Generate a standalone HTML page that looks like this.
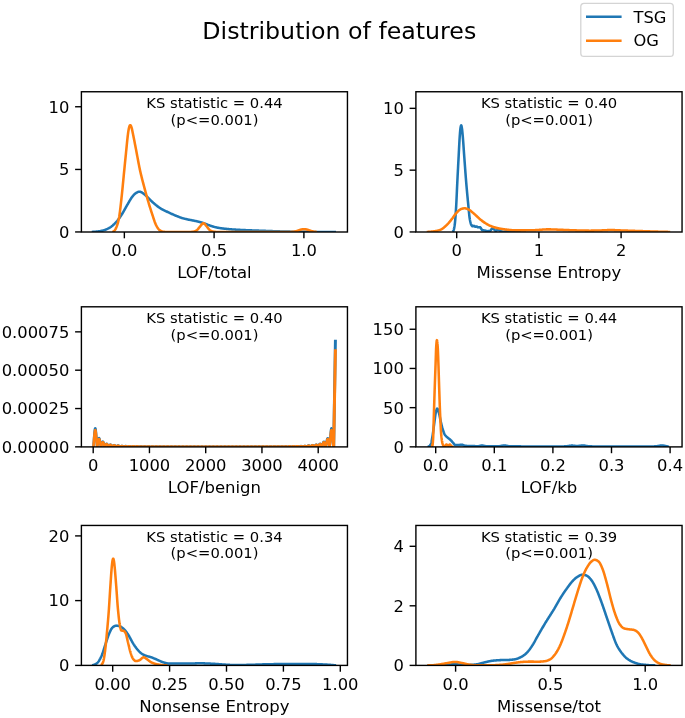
<!DOCTYPE html>
<html lang="en">
<head>
<meta charset="utf-8">
<title>Distribution of features</title>
<style>
html,body{margin:0;padding:0;background:#fff;}
body{width:685px;height:718px;overflow:hidden;}
svg{display:block;}
svg text{font-family:"DejaVu Sans", "Liberation Sans", sans-serif;}
</style>
</head>
<body>
<svg width="685" height="718" viewBox="0 0 685 718" font-family='"DejaVu Sans", "Liberation Sans", sans-serif' fill="#000">
<rect width="685" height="718" fill="#fff"/>
<defs>
<clipPath id="c00"><rect x="81.4" y="91.75" width="266.05" height="140.25"/></clipPath>
<clipPath id="c01"><rect x="415.9" y="91.75" width="266.15" height="140.25"/></clipPath>
<clipPath id="c10"><rect x="81.4" y="306.8" width="266.05" height="140.1"/></clipPath>
<clipPath id="c11"><rect x="415.9" y="306.8" width="266.15" height="140.1"/></clipPath>
<clipPath id="c20"><rect x="81.4" y="525.45" width="266.05" height="139.95"/></clipPath>
<clipPath id="c21"><rect x="415.9" y="525.45" width="266.15" height="139.95"/></clipPath>
</defs>
<text x="339.3" y="38.9" font-size="23.7" text-anchor="middle">Distribution of features</text>
<rect x="580.8" y="3.3" width="92.5" height="53.1" rx="3.2" ry="3.2" fill="#fff" stroke="#d4d4d4" stroke-width="1.3"/>
<line x1="586" y1="16.8" x2="621.6" y2="16.8" stroke="#1f77b4" stroke-width="2.55"/>
<line x1="586" y1="40.7" x2="621.6" y2="40.7" stroke="#ff7f0e" stroke-width="2.55"/>
<text x="633.5" y="22.5" font-size="16.3" text-anchor="start">TSG</text>
<text x="633.4" y="46.4" font-size="16.3" text-anchor="start">OG</text>
<line x1="124.35" y1="232" x2="124.35" y2="238.3" stroke="#000" stroke-width="1.4"/>
<text x="124.35" y="256.45" font-size="16.35" text-anchor="middle">0.0</text>
<line x1="214.1" y1="232" x2="214.1" y2="238.3" stroke="#000" stroke-width="1.4"/>
<text x="214.1" y="256.45" font-size="16.35" text-anchor="middle">0.5</text>
<line x1="303.9" y1="232" x2="303.9" y2="238.3" stroke="#000" stroke-width="1.4"/>
<text x="303.9" y="256.45" font-size="16.35" text-anchor="middle">1.0</text>
<line x1="75.1" y1="106.75" x2="81.4" y2="106.75" stroke="#000" stroke-width="1.4"/>
<text x="69.3" y="112.6" font-size="16.35" text-anchor="end">10</text>
<line x1="75.1" y1="169.45" x2="81.4" y2="169.45" stroke="#000" stroke-width="1.4"/>
<text x="69.3" y="175.3" font-size="16.35" text-anchor="end">5</text>
<line x1="75.1" y1="231.95" x2="81.4" y2="231.95" stroke="#000" stroke-width="1.4"/>
<text x="69.3" y="237.8" font-size="16.35" text-anchor="end">0</text>
<text x="214.43" y="278.4" font-size="16.5" text-anchor="middle">LOF/total</text>
<text x="214.53" y="108.35" font-size="14.75" text-anchor="middle">KS statistic = 0.44</text>
<text x="214.53" y="124.75" font-size="14.75" text-anchor="middle">(p&lt;=0.001)</text>
<g clip-path="url(#c00)">
<path d="M91.7 231.93 L92.19 231.92 L92.68 231.89 L93.17 231.87 L93.66 231.84 L94.15 231.8 L94.64 231.76 L95.13 231.72 L95.62 231.68 L96.11 231.63 L96.6 231.59 L97.09 231.53 L97.57 231.48 L98.06 231.42 L98.55 231.36 L99.04 231.29 L99.53 231.22 L100.02 231.14 L100.51 231.06 L101 230.97 L101.49 230.87 L101.98 230.77 L102.47 230.66 L102.96 230.53 L103.45 230.4 L103.94 230.25 L104.43 230.1 L104.92 229.93 L105.41 229.75 L105.9 229.57 L106.39 229.37 L106.88 229.16 L107.37 228.94 L107.86 228.7 L108.35 228.45 L108.84 228.18 L109.32 227.89 L109.81 227.6 L110.3 227.28 L110.79 226.95 L111.28 226.6 L111.77 226.23 L112.26 225.84 L112.75 225.43 L113.24 225 L113.73 224.56 L114.22 224.1 L114.71 223.63 L115.2 223.14 L115.69 222.63 L116.18 222.1 L116.67 221.55 L117.16 220.98 L117.65 220.38 L118.14 219.75 L118.63 219.1 L119.12 218.44 L119.61 217.75 L120.1 217.05 L120.59 216.33 L121.07 215.59 L121.56 214.83 L122.05 214.04 L122.54 213.23 L123.03 212.4 L123.52 211.55 L124.01 210.69 L124.5 209.82 L124.99 208.95 L125.48 208.08 L125.97 207.21 L126.46 206.35 L126.95 205.48 L127.44 204.62 L127.93 203.76 L128.42 202.89 L128.91 202.03 L129.4 201.18 L129.89 200.35 L130.38 199.55 L130.87 198.78 L131.36 198.05 L131.85 197.36 L132.34 196.7 L132.82 196.07 L133.31 195.48 L133.8 194.93 L134.29 194.43 L134.78 193.98 L135.27 193.57 L135.76 193.2 L136.25 192.87 L136.74 192.56 L137.23 192.29 L137.72 192.06 L138.21 191.88 L138.7 191.76 L139.19 191.71 L139.68 191.73 L140.17 191.82 L140.66 191.97 L141.15 192.17 L141.64 192.42 L142.13 192.7 L142.62 193 L143.11 193.32 L143.6 193.66 L144.08 194.02 L144.57 194.41 L145.06 194.83 L145.55 195.27 L146.04 195.73 L146.53 196.21 L147.02 196.69 L147.51 197.17 L148 197.65 L148.49 198.14 L148.98 198.64 L149.47 199.14 L149.96 199.63 L150.45 200.13 L150.94 200.61 L151.43 201.08 L151.92 201.54 L152.41 201.99 L152.9 202.43 L153.39 202.87 L153.88 203.3 L154.37 203.72 L154.86 204.14 L155.35 204.55 L155.83 204.96 L156.32 205.36 L156.81 205.75 L157.3 206.13 L157.79 206.5 L158.28 206.86 L158.77 207.21 L159.26 207.55 L159.75 207.88 L160.24 208.19 L160.73 208.49 L161.22 208.78 L161.71 209.06 L162.2 209.33 L162.69 209.6 L163.18 209.86 L163.67 210.11 L164.16 210.35 L164.65 210.59 L165.14 210.83 L165.63 211.06 L166.12 211.29 L166.61 211.52 L167.1 211.75 L167.58 211.98 L168.07 212.21 L168.56 212.43 L169.05 212.66 L169.54 212.89 L170.03 213.12 L170.52 213.34 L171.01 213.57 L171.5 213.79 L171.99 214.01 L172.48 214.23 L172.97 214.45 L173.46 214.67 L173.95 214.88 L174.44 215.09 L174.93 215.3 L175.42 215.5 L175.91 215.7 L176.4 215.9 L176.89 216.1 L177.38 216.3 L177.87 216.49 L178.36 216.68 L178.85 216.87 L179.33 217.06 L179.82 217.24 L180.31 217.43 L180.8 217.6 L181.29 217.77 L181.78 217.93 L182.27 218.09 L182.76 218.24 L183.25 218.38 L183.74 218.51 L184.23 218.64 L184.72 218.76 L185.21 218.88 L185.7 218.99 L186.19 219.1 L186.68 219.21 L187.17 219.32 L187.66 219.42 L188.15 219.53 L188.64 219.63 L189.13 219.73 L189.62 219.83 L190.11 219.93 L190.59 220.03 L191.08 220.12 L191.57 220.22 L192.06 220.31 L192.55 220.41 L193.04 220.5 L193.53 220.59 L194.02 220.69 L194.51 220.78 L195 220.88 L195.49 220.98 L195.98 221.09 L196.47 221.19 L196.96 221.31 L197.45 221.42 L197.94 221.54 L198.43 221.65 L198.92 221.78 L199.41 221.9 L199.9 222.03 L200.39 222.16 L200.88 222.29 L201.37 222.43 L201.86 222.57 L202.34 222.72 L202.83 222.88 L203.32 223.04 L203.81 223.21 L204.3 223.38 L204.79 223.57 L205.28 223.76 L205.77 223.95 L206.26 224.14 L206.75 224.34 L207.24 224.53 L207.73 224.73 L208.22 224.91 L208.71 225.09 L209.2 225.27 L209.69 225.44 L210.18 225.61 L210.67 225.78 L211.16 225.94 L211.65 226.1 L212.14 226.26 L212.63 226.42 L213.12 226.57 L213.61 226.71 L214.09 226.86 L214.58 226.99 L215.07 227.12 L215.56 227.24 L216.05 227.35 L216.54 227.46 L217.03 227.56 L217.52 227.66 L218.01 227.75 L218.5 227.84 L218.99 227.93 L219.48 228.01 L219.97 228.09 L220.46 228.16 L220.95 228.24 L221.44 228.31 L221.93 228.37 L222.42 228.44 L222.91 228.5 L223.4 228.56 L223.89 228.61 L224.38 228.67 L224.87 228.72 L225.36 228.78 L225.84 228.83 L226.33 228.88 L226.82 228.93 L227.31 228.98 L227.8 229.03 L228.29 229.08 L228.78 229.12 L229.27 229.17 L229.76 229.21 L230.25 229.25 L230.74 229.29 L231.23 229.33 L231.72 229.37 L232.21 229.41 L232.7 229.45 L233.19 229.48 L233.68 229.52 L234.17 229.55 L234.66 229.58 L235.15 229.61 L235.64 229.64 L236.13 229.67 L236.62 229.7 L237.11 229.73 L237.59 229.76 L238.08 229.79 L238.57 229.81 L239.06 229.84 L239.55 229.86 L240.04 229.89 L240.53 229.91 L241.02 229.94 L241.51 229.96 L242 229.98 L242.49 230.01 L242.98 230.03 L243.47 230.05 L243.96 230.07 L244.45 230.1 L244.94 230.12 L245.43 230.14 L245.92 230.16 L246.41 230.18 L246.9 230.2 L247.39 230.22 L247.88 230.24 L248.37 230.26 L248.85 230.28 L249.34 230.29 L249.83 230.31 L250.32 230.33 L250.81 230.35 L251.3 230.37 L251.79 230.39 L252.28 230.4 L252.77 230.42 L253.26 230.44 L253.75 230.46 L254.24 230.47 L254.73 230.49 L255.22 230.51 L255.71 230.53 L256.2 230.54 L256.69 230.56 L257.18 230.58 L257.67 230.6 L258.16 230.61 L258.65 230.63 L259.14 230.65 L259.63 230.66 L260.12 230.68 L260.6 230.7 L261.09 230.72 L261.58 230.74 L262.07 230.75 L262.56 230.77 L263.05 230.79 L263.54 230.81 L264.03 230.83 L264.52 230.84 L265.01 230.86 L265.5 230.88 L265.99 230.9 L266.48 230.92 L266.97 230.94 L267.46 230.95 L267.95 230.97 L268.44 230.99 L268.93 231.01 L269.42 231.03 L269.91 231.05 L270.4 231.06 L270.89 231.08 L271.38 231.1 L271.87 231.12 L272.35 231.14 L272.84 231.16 L273.33 231.17 L273.82 231.19 L274.31 231.21 L274.8 231.23 L275.29 231.24 L275.78 231.26 L276.27 231.28 L276.76 231.29 L277.25 231.31 L277.74 231.33 L278.23 231.34 L278.72 231.36 L279.21 231.37 L279.7 231.39 L280.19 231.4 L280.68 231.42 L281.17 231.43 L281.66 231.45 L282.15 231.46 L282.64 231.47 L283.13 231.49 L283.62 231.5 L284.1 231.51 L284.59 231.52 L285.08 231.54 L285.57 231.55 L286.06 231.56 L286.55 231.57 L287.04 231.58 L287.53 231.59 L288.02 231.6 L288.51 231.61 L289 231.62 L289.49 231.63 L289.98 231.64 L290.47 231.65 L290.96 231.66 L291.45 231.66 L291.94 231.67 L292.43 231.68 L292.92 231.69 L293.41 231.7 L293.9 231.71 L294.39 231.72 L294.88 231.72 L295.36 231.73 L295.85 231.74 L296.34 231.75 L296.83 231.76 L297.32 231.76 L297.81 231.77 L298.3 231.78 L298.79 231.78 L299.28 231.79 L299.77 231.8 L300.26 231.81 L300.75 231.81 L301.24 231.82 L301.73 231.82 L302.22 231.83 L302.71 231.84 L303.2 231.84 L303.69 231.85 L304.18 231.85 L304.67 231.86 L305.16 231.86 L305.65 231.87 L306.14 231.87 L306.63 231.88 L307.11 231.88 L307.6 231.88 L308.09 231.89 L308.58 231.89 L309.07 231.89 L309.56 231.9 L310.05 231.9 L310.54 231.9 L311.03 231.91 L311.52 231.91 L312.01 231.91 L312.5 231.91 L312.99 231.91 L313.48 231.92 L313.97 231.92 L314.46 231.92 L314.95 231.92 L315.44 231.93 L315.93 231.93 L316.42 231.93 L316.91 231.93 L317.4 231.93 L317.89 231.94 L318.38 231.94 L318.86 231.94 L319.35 231.94 L319.84 231.94 L320.33 231.94 L320.82 231.94 L321.31 231.95 L321.8 231.95 L322.29 231.95 L322.78 231.95 L323.27 231.95 L323.76 231.95 L324.25 231.95 L324.74 231.95 L325.23 231.95 L325.72 231.95 L326.21 231.95 L326.7 231.95 L327.19 231.95 L327.68 231.95 L328.17 231.95 L328.66 231.95 L329.15 231.95 L329.64 231.95 L330.13 231.95 L330.61 231.95 L331.1 231.95 L331.59 231.95 L332.08 231.95 L332.57 231.95 L333.06 231.95 L333.55 231.95 L334.04 231.95 L334.53 231.95 L335.02 231.95 L335.51 231.95 L336 231.95" fill="none" stroke="#1f77b4" stroke-width="2.55" stroke-linejoin="round" stroke-linecap="butt" />
<path d="M112.2 231.93 L112.43 231.9 L112.66 231.85 L112.88 231.77 L113.11 231.66 L113.34 231.54 L113.57 231.39 L113.8 231.23 L114.02 231.05 L114.25 230.85 L114.48 230.63 L114.71 230.37 L114.94 230.07 L115.16 229.71 L115.39 229.32 L115.62 228.88 L115.85 228.42 L116.07 227.93 L116.3 227.42 L116.53 226.88 L116.76 226.3 L116.99 225.69 L117.21 225.04 L117.44 224.34 L117.67 223.59 L117.9 222.79 L118.13 221.94 L118.35 221.02 L118.58 220.04 L118.81 218.96 L119.04 217.76 L119.27 216.42 L119.49 214.92 L119.72 213.3 L119.95 211.55 L120.18 209.71 L120.41 207.79 L120.63 205.82 L120.86 203.82 L121.09 201.8 L121.32 199.76 L121.54 197.69 L121.77 195.57 L122 193.39 L122.23 191.15 L122.46 188.86 L122.68 186.52 L122.91 184.16 L123.14 181.79 L123.37 179.43 L123.6 177.07 L123.82 174.74 L124.05 172.42 L124.28 170.11 L124.51 167.8 L124.74 165.48 L124.96 163.17 L125.19 160.86 L125.42 158.56 L125.65 156.28 L125.88 154.01 L126.1 151.75 L126.33 149.51 L126.56 147.25 L126.79 144.98 L127.01 142.71 L127.24 140.47 L127.47 138.3 L127.7 136.26 L127.93 134.37 L128.15 132.65 L128.38 131.11 L128.61 129.74 L128.84 128.55 L129.07 127.55 L129.29 126.75 L129.52 126.11 L129.75 125.63 L129.98 125.32 L130.21 125.19 L130.43 125.24 L130.66 125.47 L130.89 125.82 L131.12 126.29 L131.35 126.86 L131.57 127.56 L131.8 128.41 L132.03 129.39 L132.26 130.46 L132.48 131.57 L132.71 132.67 L132.94 133.78 L133.17 134.89 L133.4 136.01 L133.62 137.14 L133.85 138.29 L134.08 139.45 L134.31 140.62 L134.54 141.79 L134.76 142.97 L134.99 144.15 L135.22 145.34 L135.45 146.52 L135.68 147.7 L135.9 148.88 L136.13 150.06 L136.36 151.26 L136.59 152.46 L136.82 153.68 L137.04 154.9 L137.27 156.13 L137.5 157.37 L137.73 158.6 L137.95 159.82 L138.18 161.04 L138.41 162.25 L138.64 163.45 L138.87 164.63 L139.09 165.79 L139.32 166.93 L139.55 168.05 L139.78 169.13 L140.01 170.19 L140.23 171.22 L140.46 172.23 L140.69 173.22 L140.92 174.19 L141.15 175.14 L141.37 176.08 L141.6 177 L141.83 177.91 L142.06 178.81 L142.29 179.7 L142.51 180.59 L142.74 181.46 L142.97 182.33 L143.2 183.19 L143.43 184.05 L143.65 184.91 L143.88 185.77 L144.11 186.63 L144.34 187.49 L144.56 188.34 L144.79 189.2 L145.02 190.05 L145.25 190.9 L145.48 191.74 L145.7 192.58 L145.93 193.41 L146.16 194.24 L146.39 195.07 L146.62 195.89 L146.84 196.7 L147.07 197.51 L147.3 198.31 L147.53 199.11 L147.76 199.9 L147.98 200.69 L148.21 201.47 L148.44 202.24 L148.67 203.01 L148.9 203.77 L149.12 204.52 L149.35 205.28 L149.58 206.02 L149.81 206.77 L150.03 207.5 L150.26 208.23 L150.49 208.96 L150.72 209.68 L150.95 210.4 L151.17 211.11 L151.4 211.82 L151.63 212.52 L151.86 213.22 L152.09 213.91 L152.31 214.6 L152.54 215.28 L152.77 215.96 L153 216.65 L153.23 217.34 L153.45 218.04 L153.68 218.74 L153.91 219.44 L154.14 220.12 L154.37 220.8 L154.59 221.46 L154.82 222.1 L155.05 222.71 L155.28 223.3 L155.5 223.85 L155.73 224.36 L155.96 224.84 L156.19 225.29 L156.42 225.73 L156.64 226.15 L156.87 226.56 L157.1 226.95 L157.33 227.34 L157.56 227.7 L157.78 228.05 L158.01 228.38 L158.24 228.7 L158.47 228.99 L158.7 229.25 L158.92 229.5 L159.15 229.72 L159.38 229.91 L159.61 230.1 L159.84 230.27 L160.06 230.43 L160.29 230.58 L160.52 230.73 L160.75 230.87 L160.97 231 L161.2 231.12 L161.43 231.23 L161.66 231.33 L161.89 231.42 L162.11 231.5 L162.34 231.56 L162.57 231.61 L162.8 231.66 L163.03 231.7 L163.25 231.73 L163.48 231.77 L163.71 231.8 L163.94 231.82 L164.17 231.85 L164.39 231.87 L164.62 231.89 L164.85 231.91 L165.08 231.93 L165.31 231.94 L165.53 231.94 L165.76 231.95 L165.99 231.95 L166.22 231.95 L166.44 231.95 L166.67 231.95 L166.9 231.95 L167.13 231.95 L167.36 231.95 L167.58 231.95 L167.81 231.95 L168.04 231.95 L168.27 231.95 L168.5 231.95 L168.72 231.95 L168.95 231.95 L169.18 231.95 L169.41 231.95 L169.64 231.95 L169.86 231.95 L170.09 231.95 L170.32 231.95 L170.55 231.95 L170.78 231.95 L171 231.95 L171.23 231.95 L171.46 231.95 L171.69 231.95 L171.92 231.95 L172.14 231.95 L172.37 231.95 L172.6 231.95 L172.83 231.95 L173.05 231.95 L173.28 231.95 L173.51 231.95 L173.74 231.95 L173.97 231.95 L174.19 231.95 L174.42 231.95 L174.65 231.95 L174.88 231.95 L175.11 231.95 L175.33 231.95 L175.56 231.95 L175.79 231.95 L176.02 231.95 L176.25 231.95 L176.47 231.95 L176.7 231.95 L176.93 231.95 L177.16 231.95 L177.39 231.95 L177.61 231.95 L177.84 231.95 L178.07 231.95 L178.3 231.95 L178.52 231.95 L178.75 231.95 L178.98 231.95 L179.21 231.95 L179.44 231.95 L179.66 231.95 L179.89 231.95 L180.12 231.95 L180.35 231.95 L180.58 231.95 L180.8 231.95 L181.03 231.95 L181.26 231.95 L181.49 231.95 L181.72 231.95 L181.94 231.95 L182.17 231.95 L182.4 231.95 L182.63 231.95 L182.86 231.95 L183.08 231.95 L183.31 231.95 L183.54 231.95 L183.77 231.95 L183.99 231.95 L184.22 231.95 L184.45 231.95 L184.68 231.95 L184.91 231.95 L185.13 231.95 L185.36 231.95 L185.59 231.95 L185.82 231.95 L186.05 231.95 L186.27 231.95 L186.5 231.95 L186.73 231.95 L186.96 231.95 L187.19 231.95 L187.41 231.95 L187.64 231.95 L187.87 231.95 L188.1 231.95 L188.33 231.95 L188.55 231.95 L188.78 231.95 L189.01 231.95 L189.24 231.95 L189.46 231.95 L189.69 231.95 L189.92 231.95 L190.15 231.95 L190.38 231.94 L190.6 231.94 L190.83 231.93 L191.06 231.92 L191.29 231.9 L191.52 231.89 L191.74 231.87 L191.97 231.85 L192.2 231.83 L192.43 231.81 L192.66 231.79 L192.88 231.76 L193.11 231.73 L193.34 231.69 L193.57 231.65 L193.8 231.6 L194.02 231.54 L194.25 231.48 L194.48 231.41 L194.71 231.33 L194.93 231.24 L195.16 231.15 L195.39 231.05 L195.62 230.95 L195.85 230.84 L196.07 230.72 L196.3 230.6 L196.53 230.47 L196.76 230.32 L196.99 230.15 L197.21 229.95 L197.44 229.73 L197.67 229.48 L197.9 229.22 L198.13 228.93 L198.35 228.64 L198.58 228.34 L198.81 228.04 L199.04 227.74 L199.27 227.44 L199.49 227.15 L199.72 226.88 L199.95 226.61 L200.18 226.34 L200.41 226.07 L200.63 225.78 L200.86 225.49 L201.09 225.19 L201.32 224.89 L201.54 224.6 L201.77 224.33 L202 224.07 L202.23 223.83 L202.46 223.63 L202.68 223.46 L202.91 223.33 L203.14 223.24 L203.37 223.21 L203.6 223.23 L203.82 223.3 L204.05 223.42 L204.28 223.58 L204.51 223.77 L204.74 224 L204.96 224.25 L205.19 224.53 L205.42 224.81 L205.65 225.11 L205.88 225.4 L206.1 225.7 L206.33 225.99 L206.56 226.26 L206.79 226.53 L207.01 226.8 L207.24 227.08 L207.47 227.36 L207.7 227.66 L207.93 227.96 L208.15 228.26 L208.38 228.56 L208.61 228.86 L208.84 229.15 L209.07 229.42 L209.29 229.67 L209.52 229.9 L209.75 230.1 L209.98 230.28 L210.21 230.43 L210.43 230.56 L210.66 230.68 L210.89 230.79 L211.12 230.9 L211.35 231 L211.57 231.09 L211.8 231.18 L212.03 231.27 L212.26 231.35 L212.48 231.42 L212.71 231.49 L212.94 231.55 L213.17 231.6 L213.4 231.65 L213.62 231.69 L213.85 231.73 L214.08 231.76 L214.31 231.78 L214.54 231.8 L214.76 231.83 L214.99 231.85 L215.22 231.87 L215.45 231.88 L215.68 231.9 L215.9 231.91 L216.13 231.93 L216.36 231.94 L216.59 231.94 L216.82 231.95 L217.04 231.95 L217.27 231.95 L217.5 231.95 L217.73 231.95 L217.95 231.95 L218.18 231.95 L218.41 231.95 L218.64 231.95 L218.87 231.95 L219.09 231.95 L219.32 231.95 L219.55 231.95 L219.78 231.95 L220.01 231.95 L220.23 231.95 L220.46 231.95 L220.69 231.95 L220.92 231.95 L221.15 231.95 L221.37 231.95 L221.6 231.95 L221.83 231.95 L222.06 231.95 L222.29 231.95 L222.51 231.95 L222.74 231.95 L222.97 231.95 L223.2 231.95 L223.42 231.95 L223.65 231.95 L223.88 231.95 L224.11 231.95 L224.34 231.95 L224.56 231.95 L224.79 231.95 L225.02 231.95 L225.25 231.95 L225.48 231.95 L225.7 231.95 L225.93 231.95 L226.16 231.95 L226.39 231.95 L226.62 231.95 L226.84 231.95 L227.07 231.95 L227.3 231.95 L227.53 231.95 L227.76 231.95 L227.98 231.95 L228.21 231.95 L228.44 231.95 L228.67 231.95 L228.89 231.95 L229.12 231.95 L229.35 231.95 L229.58 231.95 L229.81 231.95 L230.03 231.95 L230.26 231.95 L230.49 231.95 L230.72 231.95 L230.95 231.95 L231.17 231.95 L231.4 231.95 L231.63 231.95 L231.86 231.95 L232.09 231.95 L232.31 231.95 L232.54 231.95 L232.77 231.95 L233 231.95 L233.23 231.95 L233.45 231.95 L233.68 231.95 L233.91 231.95 L234.14 231.95 L234.37 231.95 L234.59 231.95 L234.82 231.95 L235.05 231.95 L235.28 231.95 L235.5 231.95 L235.73 231.95 L235.96 231.95 L236.19 231.95 L236.42 231.95 L236.64 231.95 L236.87 231.95 L237.1 231.95 L237.33 231.95 L237.56 231.95 L237.78 231.95 L238.01 231.95 L238.24 231.95 L238.47 231.95 L238.7 231.95 L238.92 231.95 L239.15 231.95 L239.38 231.95 L239.61 231.95 L239.84 231.95 L240.06 231.95 L240.29 231.95 L240.52 231.95 L240.75 231.95 L240.97 231.95 L241.2 231.95 L241.43 231.95 L241.66 231.95 L241.89 231.95 L242.11 231.95 L242.34 231.95 L242.57 231.95 L242.8 231.95 L243.03 231.95 L243.25 231.95 L243.48 231.95 L243.71 231.95 L243.94 231.95 L244.17 231.95 L244.39 231.95 L244.62 231.95 L244.85 231.95 L245.08 231.95 L245.31 231.95 L245.53 231.95 L245.76 231.95 L245.99 231.95 L246.22 231.95 L246.44 231.95 L246.67 231.95 L246.9 231.95 L247.13 231.95 L247.36 231.95 L247.58 231.95 L247.81 231.95 L248.04 231.95 L248.27 231.95 L248.5 231.95 L248.72 231.95 L248.95 231.95 L249.18 231.95 L249.41 231.95 L249.64 231.95 L249.86 231.95 L250.09 231.95 L250.32 231.95 L250.55 231.95 L250.78 231.95 L251 231.95 L251.23 231.95 L251.46 231.95 L251.69 231.95 L251.91 231.95 L252.14 231.95 L252.37 231.95 L252.6 231.95 L252.83 231.95 L253.05 231.95 L253.28 231.95 L253.51 231.95 L253.74 231.95 L253.97 231.95 L254.19 231.95 L254.42 231.95 L254.65 231.95 L254.88 231.95 L255.11 231.95 L255.33 231.95 L255.56 231.95 L255.79 231.95 L256.02 231.95 L256.25 231.95 L256.47 231.95 L256.7 231.95 L256.93 231.95 L257.16 231.95 L257.38 231.95 L257.61 231.95 L257.84 231.95 L258.07 231.95 L258.3 231.95 L258.52 231.95 L258.75 231.95 L258.98 231.95 L259.21 231.95 L259.44 231.95 L259.66 231.95 L259.89 231.95 L260.12 231.95 L260.35 231.95 L260.58 231.95 L260.8 231.95 L261.03 231.95 L261.26 231.95 L261.49 231.95 L261.72 231.95 L261.94 231.95 L262.17 231.95 L262.4 231.95 L262.63 231.95 L262.86 231.95 L263.08 231.95 L263.31 231.95 L263.54 231.95 L263.77 231.95 L263.99 231.95 L264.22 231.95 L264.45 231.95 L264.68 231.95 L264.91 231.95 L265.13 231.95 L265.36 231.95 L265.59 231.95 L265.82 231.95 L266.05 231.95 L266.27 231.95 L266.5 231.95 L266.73 231.95 L266.96 231.95 L267.19 231.95 L267.41 231.95 L267.64 231.95 L267.87 231.95 L268.1 231.95 L268.33 231.95 L268.55 231.95 L268.78 231.95 L269.01 231.95 L269.24 231.95 L269.46 231.95 L269.69 231.95 L269.92 231.95 L270.15 231.95 L270.38 231.95 L270.6 231.95 L270.83 231.95 L271.06 231.95 L271.29 231.95 L271.52 231.95 L271.74 231.95 L271.97 231.95 L272.2 231.95 L272.43 231.95 L272.66 231.95 L272.88 231.95 L273.11 231.95 L273.34 231.95 L273.57 231.95 L273.8 231.95 L274.02 231.95 L274.25 231.95 L274.48 231.95 L274.71 231.95 L274.93 231.95 L275.16 231.95 L275.39 231.95 L275.62 231.95 L275.85 231.95 L276.07 231.95 L276.3 231.95 L276.53 231.95 L276.76 231.95 L276.99 231.95 L277.21 231.95 L277.44 231.95 L277.67 231.95 L277.9 231.95 L278.13 231.95 L278.35 231.95 L278.58 231.95 L278.81 231.95 L279.04 231.95 L279.27 231.95 L279.49 231.95 L279.72 231.95 L279.95 231.95 L280.18 231.95 L280.4 231.95 L280.63 231.95 L280.86 231.95 L281.09 231.95 L281.32 231.95 L281.54 231.95 L281.77 231.95 L282 231.95 L282.23 231.95 L282.46 231.95 L282.68 231.95 L282.91 231.95 L283.14 231.95 L283.37 231.95 L283.6 231.95 L283.82 231.95 L284.05 231.95 L284.28 231.95 L284.51 231.95 L284.74 231.95 L284.96 231.95 L285.19 231.95 L285.42 231.95 L285.65 231.95 L285.87 231.95 L286.1 231.95 L286.33 231.95 L286.56 231.95 L286.79 231.95 L287.01 231.95 L287.24 231.95 L287.47 231.95 L287.7 231.95 L287.93 231.95 L288.15 231.95 L288.38 231.95 L288.61 231.95 L288.84 231.95 L289.07 231.95 L289.29 231.95 L289.52 231.95 L289.75 231.94 L289.98 231.94 L290.21 231.93 L290.43 231.93 L290.66 231.92 L290.89 231.92 L291.12 231.91 L291.35 231.9 L291.57 231.89 L291.8 231.88 L292.03 231.87 L292.26 231.86 L292.48 231.85 L292.71 231.83 L292.94 231.81 L293.17 231.79 L293.4 231.76 L293.62 231.73 L293.85 231.7 L294.08 231.66 L294.31 231.61 L294.54 231.57 L294.76 231.52 L294.99 231.48 L295.22 231.43 L295.45 231.38 L295.68 231.32 L295.9 231.27 L296.13 231.21 L296.36 231.15 L296.59 231.09 L296.82 231.01 L297.04 230.94 L297.27 230.86 L297.5 230.78 L297.73 230.69 L297.95 230.61 L298.18 230.52 L298.41 230.43 L298.64 230.35 L298.87 230.27 L299.09 230.19 L299.32 230.11 L299.55 230.04 L299.78 229.96 L300.01 229.89 L300.23 229.81 L300.46 229.74 L300.69 229.67 L300.92 229.6 L301.15 229.54 L301.37 229.48 L301.6 229.43 L301.83 229.39 L302.06 229.35 L302.29 229.31 L302.51 229.28 L302.74 229.25 L302.97 229.22 L303.2 229.2 L303.42 229.18 L303.65 229.17 L303.88 229.16 L304.11 229.16 L304.34 229.17 L304.56 229.18 L304.79 229.2 L305.02 229.22 L305.25 229.25 L305.48 229.28 L305.7 229.31 L305.93 229.34 L306.16 229.38 L306.39 229.43 L306.62 229.48 L306.84 229.54 L307.07 229.6 L307.3 229.67 L307.53 229.74 L307.76 229.81 L307.98 229.88 L308.21 229.96 L308.44 230.03 L308.67 230.11 L308.89 230.18 L309.12 230.26 L309.35 230.34 L309.58 230.43 L309.81 230.51 L310.03 230.6 L310.26 230.69 L310.49 230.77 L310.72 230.86 L310.95 230.94 L311.17 231.01 L311.4 231.08 L311.63 231.15 L311.86 231.21 L312.09 231.27 L312.31 231.32 L312.54 231.37 L312.77 231.42 L313 231.47 L313.23 231.51 L313.45 231.56 L313.68 231.6 L313.91 231.64 L314.14 231.68 L314.36 231.71 L314.59 231.74 L314.82 231.77 L315.05 231.8 L315.28 231.83 L315.5 231.85 L315.73 231.87 L315.96 231.89 L316.19 231.9 L316.42 231.92 L316.64 231.93 L316.87 231.94 L317.1 231.94" fill="none" stroke="#ff7f0e" stroke-width="2.55" stroke-linejoin="round" stroke-linecap="butt" />
</g>
<rect x="81.4" y="91.75" width="266.05" height="140.25" fill="none" stroke="#000" stroke-width="1.4"/>
<line x1="456.7" y1="232" x2="456.7" y2="238.3" stroke="#000" stroke-width="1.4"/>
<text x="456.7" y="256.45" font-size="16.35" text-anchor="middle">0</text>
<line x1="538.9" y1="232" x2="538.9" y2="238.3" stroke="#000" stroke-width="1.4"/>
<text x="538.9" y="256.45" font-size="16.35" text-anchor="middle">1</text>
<line x1="621.1" y1="232" x2="621.1" y2="238.3" stroke="#000" stroke-width="1.4"/>
<text x="621.1" y="256.45" font-size="16.35" text-anchor="middle">2</text>
<line x1="409.6" y1="108.35" x2="415.9" y2="108.35" stroke="#000" stroke-width="1.4"/>
<text x="403.8" y="114.2" font-size="16.35" text-anchor="end">10</text>
<line x1="409.6" y1="170.15" x2="415.9" y2="170.15" stroke="#000" stroke-width="1.4"/>
<text x="403.8" y="176" font-size="16.35" text-anchor="end">5</text>
<line x1="409.6" y1="231.95" x2="415.9" y2="231.95" stroke="#000" stroke-width="1.4"/>
<text x="403.8" y="237.8" font-size="16.35" text-anchor="end">0</text>
<text x="548.97" y="278.4" font-size="16.5" text-anchor="middle">Missense Entropy</text>
<text x="549.07" y="108.35" font-size="14.75" text-anchor="middle">KS statistic = 0.40</text>
<text x="549.07" y="124.75" font-size="14.75" text-anchor="middle">(p&lt;=0.001)</text>
<g clip-path="url(#c01)">
<path d="M452.5 231.94 L452.58 231.93 L452.65 231.89 L452.73 231.84 L452.8 231.77 L452.88 231.68 L452.95 231.57 L453.03 231.45 L453.11 231.32 L453.18 231.17 L453.26 231.01 L453.33 230.85 L453.41 230.67 L453.48 230.49 L453.56 230.3 L453.63 230.11 L453.71 229.91 L453.79 229.69 L453.86 229.45 L453.94 229.17 L454.01 228.86 L454.09 228.52 L454.16 228.15 L454.24 227.76 L454.32 227.34 L454.39 226.9 L454.47 226.43 L454.54 225.94 L454.62 225.44 L454.69 224.91 L454.77 224.36 L454.84 223.78 L454.92 223.14 L455 222.45 L455.07 221.7 L455.15 220.89 L455.22 220.03 L455.3 219.12 L455.37 218.17 L455.45 217.18 L455.53 216.14 L455.6 215.08 L455.68 213.98 L455.75 212.86 L455.83 211.71 L455.9 210.54 L455.98 209.36 L456.06 208.15 L456.13 206.91 L456.21 205.61 L456.28 204.23 L456.36 202.78 L456.43 201.26 L456.51 199.68 L456.58 198.05 L456.66 196.39 L456.74 194.71 L456.81 193.01 L456.89 191.3 L456.96 189.61 L457.04 187.92 L457.11 186.27 L457.19 184.65 L457.27 183.08 L457.34 181.54 L457.42 180.02 L457.49 178.52 L457.57 177.02 L457.64 175.53 L457.72 174.05 L457.79 172.58 L457.87 171.11 L457.95 169.65 L458.02 168.19 L458.1 166.74 L458.17 165.3 L458.25 163.86 L458.32 162.43 L458.4 161 L458.48 159.58 L458.55 158.16 L458.63 156.74 L458.7 155.3 L458.78 153.83 L458.85 152.36 L458.93 150.87 L459.01 149.38 L459.08 147.9 L459.16 146.43 L459.23 144.98 L459.31 143.56 L459.38 142.18 L459.46 140.84 L459.53 139.56 L459.61 138.34 L459.69 137.19 L459.76 136.1 L459.84 135.07 L459.91 134.08 L459.99 133.12 L460.06 132.18 L460.14 131.29 L460.22 130.46 L460.29 129.71 L460.37 129.04 L460.44 128.46 L460.52 127.97 L460.59 127.53 L460.67 127.11 L460.74 126.72 L460.82 126.36 L460.9 126.04 L460.97 125.77 L461.05 125.57 L461.12 125.44 L461.2 125.4 L461.27 125.44 L461.35 125.57 L461.43 125.78 L461.5 126.05 L461.58 126.37 L461.65 126.73 L461.73 127.12 L461.8 127.53 L461.88 127.95 L461.95 128.41 L462.03 128.92 L462.11 129.51 L462.18 130.16 L462.26 130.86 L462.33 131.61 L462.41 132.39 L462.48 133.2 L462.56 134.02 L462.64 134.85 L462.71 135.68 L462.79 136.54 L462.86 137.42 L462.94 138.34 L463.01 139.28 L463.09 140.26 L463.17 141.26 L463.24 142.28 L463.32 143.32 L463.39 144.37 L463.47 145.44 L463.54 146.52 L463.62 147.61 L463.69 148.7 L463.77 149.79 L463.85 150.88 L463.92 151.97 L464 153.05 L464.07 154.12 L464.15 155.17 L464.22 156.22 L464.3 157.24 L464.38 158.26 L464.45 159.28 L464.53 160.31 L464.6 161.34 L464.68 162.36 L464.75 163.4 L464.83 164.43 L464.9 165.46 L464.98 166.49 L465.06 167.52 L465.13 168.55 L465.21 169.57 L465.28 170.59 L465.36 171.61 L465.43 172.62 L465.51 173.62 L465.59 174.62 L465.66 175.6 L465.74 176.58 L465.81 177.55 L465.89 178.51 L465.96 179.46 L466.04 180.4 L466.12 181.32 L466.19 182.23 L466.27 183.13 L466.34 184.03 L466.42 184.91 L466.49 185.79 L466.57 186.66 L466.64 187.52 L466.72 188.38 L466.8 189.23 L466.87 190.07 L466.95 190.91 L467.02 191.74 L467.1 192.56 L467.17 193.38 L467.25 194.2 L467.33 195.01 L467.4 195.81 L467.48 196.61 L467.55 197.4 L467.63 198.19 L467.7 198.98 L467.78 199.76 L467.85 200.54 L467.93 201.32 L468.01 202.09 L468.08 202.85 L468.16 203.62 L468.23 204.39 L468.31 205.17 L468.38 205.97 L468.46 206.77 L468.54 207.59 L468.61 208.41 L468.69 209.23 L468.76 210.05 L468.84 210.86 L468.91 211.66 L468.99 212.45 L469.07 213.22 L469.14 213.98 L469.22 214.71 L469.29 215.41 L469.37 216.08 L469.44 216.71 L469.52 217.31 L469.59 217.86 L469.67 218.37 L469.75 218.83 L469.82 219.25 L469.9 219.65 L469.97 220.03 L470.05 220.4 L470.12 220.76 L470.2 221.12 L470.28 221.46 L470.35 221.8 L470.43 222.12 L470.5 222.43 L470.58 222.73 L470.65 223.02 L470.73 223.29 L470.8 223.55 L470.88 223.8 L470.96 224.03 L471.03 224.25 L471.11 224.45 L471.18 224.64 L471.26 224.81 L471.33 224.96 L471.41 225.1 L471.49 225.22 L471.56 225.33 L471.64 225.44 L471.71 225.54 L471.79 225.64 L471.86 225.74 L471.94 225.83 L472.02 225.92 L472.09 226 L472.17 226.07 L472.24 226.14 L472.32 226.2 L472.39 226.25 L472.47 226.29 L472.54 226.32 L472.62 226.34 L472.7 226.34 L472.77 226.34 L472.85 226.33 L472.92 226.31 L473 226.28 L473.07 226.25 L473.15 226.21 L473.23 226.17 L473.3 226.13 L473.38 226.08 L473.45 226.04 L473.53 226 L473.6 225.96 L473.68 225.93 L473.75 225.9 L473.83 225.88 L473.91 225.86 L473.98 225.86 L474.06 225.86 L474.13 225.88 L474.21 225.92 L474.28 225.97 L474.36 226.02 L474.44 226.09 L474.51 226.16 L474.59 226.24 L474.66 226.31 L474.74 226.39 L474.81 226.46 L474.89 226.53 L474.96 226.6 L475.04 226.65 L475.12 226.69 L475.19 226.72 L475.27 226.74 L475.34 226.74 L475.42 226.74 L475.49 226.73 L475.57 226.71 L475.65 226.69 L475.72 226.66 L475.8 226.64 L475.87 226.61 L475.95 226.58 L476.02 226.55 L476.1 226.53 L476.18 226.51 L476.25 226.49 L476.33 226.47 L476.4 226.46 L476.48 226.45 L476.55 226.46 L476.63 226.47 L476.7 226.5 L476.78 226.54 L476.86 226.58 L476.93 226.63 L477.01 226.69 L477.08 226.75 L477.16 226.82 L477.23 226.89 L477.31 226.95 L477.39 227.02 L477.46 227.08 L477.54 227.14 L477.61 227.2 L477.69 227.25 L477.76 227.29 L477.84 227.32 L477.91 227.34 L477.99 227.35 L478.07 227.35 L478.14 227.35 L478.22 227.34 L478.29 227.34 L478.37 227.33 L478.44 227.32 L478.52 227.31 L478.6 227.3 L478.67 227.29 L478.75 227.28 L478.82 227.27 L478.9 227.26 L478.97 227.25 L479.05 227.23 L479.13 227.22 L479.2 227.21 L479.28 227.2 L479.35 227.19 L479.43 227.18 L479.5 227.17 L479.58 227.17 L479.65 227.16 L479.73 227.16 L479.81 227.15 L479.88 227.15 L479.96 227.17 L480.03 227.19 L480.11 227.24 L480.18 227.31 L480.26 227.39 L480.34 227.48 L480.41 227.58 L480.49 227.7 L480.56 227.82 L480.64 227.94 L480.71 228.06 L480.79 228.19 L480.86 228.31 L480.94 228.43 L481.02 228.53 L481.09 228.64 L481.17 228.74 L481.24 228.84 L481.32 228.95 L481.39 229.07 L481.47 229.19 L481.55 229.3 L481.62 229.42 L481.7 229.54 L481.77 229.65 L481.85 229.76 L481.92 229.86 L482 229.95 L482.08 230.04 L482.15 230.11 L482.23 230.16 L482.3 230.21 L482.38 230.24 L482.45 230.26 L482.53 230.27 L482.6 230.28 L482.68 230.29 L482.76 230.3 L482.83 230.31 L482.91 230.32 L482.98 230.33 L483.06 230.34 L483.13 230.34 L483.21 230.35 L483.29 230.35 L483.36 230.36 L483.44 230.36 L483.51 230.37 L483.59 230.37 L483.66 230.38 L483.74 230.38 L483.81 230.39 L483.89 230.39 L483.97 230.4 L484.04 230.4 L484.12 230.41 L484.19 230.42 L484.27 230.42 L484.34 230.43 L484.42 230.44 L484.5 230.45 L484.57 230.46 L484.65 230.47 L484.72 230.49 L484.8 230.5 L484.87 230.52 L484.95 230.54 L485.03 230.56 L485.1 230.58 L485.18 230.6 L485.25 230.62 L485.33 230.65 L485.4 230.67 L485.48 230.69 L485.55 230.72 L485.63 230.74 L485.71 230.77 L485.78 230.79 L485.86 230.82 L485.93 230.84 L486.01 230.87 L486.08 230.89 L486.16 230.92 L486.24 230.94 L486.31 230.96 L486.39 230.98 L486.46 231 L486.54 231.02 L486.61 231.04 L486.69 231.06 L486.76 231.08 L486.84 231.09 L486.92 231.11 L486.99 231.12 L487.07 231.13 L487.14 231.14 L487.22 231.14 L487.29 231.15 L487.37 231.15 L487.45 231.15 L487.52 231.15 L487.6 231.15 L487.67 231.15 L487.75 231.15 L487.82 231.14 L487.9 231.14 L487.97 231.14 L488.05 231.14 L488.13 231.13 L488.2 231.13 L488.28 231.13 L488.35 231.12 L488.43 231.12 L488.5 231.11 L488.58 231.11 L488.66 231.1 L488.73 231.1 L488.81 231.09 L488.88 231.09 L488.96 231.08 L489.03 231.07 L489.11 231.06 L489.19 231.06 L489.26 231.05 L489.34 231.04 L489.41 231.03 L489.49 231.02 L489.56 231.01 L489.64 231 L489.71 230.99 L489.79 230.98 L489.87 230.97 L489.94 230.96 L490.02 230.94 L490.09 230.92 L490.17 230.88 L490.24 230.84 L490.32 230.78 L490.4 230.71 L490.47 230.63 L490.55 230.55 L490.62 230.45 L490.7 230.36 L490.77 230.26 L490.85 230.15 L490.92 230.04 L491 229.93 L491.08 229.82 L491.15 229.72 L491.23 229.61 L491.3 229.51 L491.38 229.41 L491.45 229.31 L491.53 229.23 L491.61 229.14 L491.68 229.06 L491.76 228.98 L491.83 228.89 L491.91 228.8 L491.98 228.71 L492.06 228.61 L492.14 228.53 L492.21 228.44 L492.29 228.36 L492.36 228.28 L492.44 228.22 L492.51 228.16 L492.59 228.12 L492.66 228.08 L492.74 228.06 L492.82 228.06 L492.89 228.07 L492.97 228.11 L493.04 228.16 L493.12 228.22 L493.19 228.3 L493.27 228.39 L493.35 228.49 L493.42 228.59 L493.5 228.7 L493.57 228.8 L493.65 228.91 L493.72 229.02 L493.8 229.12 L493.87 229.21 L493.95 229.3 L494.03 229.37 L494.1 229.45 L494.18 229.53 L494.25 229.61 L494.33 229.69 L494.4 229.77 L494.48 229.86 L494.56 229.94 L494.63 230.03 L494.71 230.11 L494.78 230.19 L494.86 230.27 L494.93 230.35 L495.01 230.42 L495.09 230.49 L495.16 230.55 L495.24 230.61 L495.31 230.67 L495.39 230.72 L495.46 230.76 L495.54 230.79 L495.61 230.82 L495.69 230.84 L495.77 230.84 L495.84 230.84 L495.92 230.84 L495.99 230.82 L496.07 230.79 L496.14 230.76 L496.22 230.73 L496.3 230.68 L496.37 230.64 L496.45 230.59 L496.52 230.54 L496.6 230.49 L496.67 230.43 L496.75 230.38 L496.82 230.33 L496.9 230.28 L496.98 230.23 L497.05 230.19 L497.13 230.15 L497.2 230.12 L497.28 230.09 L497.35 230.07 L497.43 230.06 L497.51 230.05 L497.58 230.05 L497.66 230.05 L497.73 230.06 L497.81 230.06 L497.88 230.07 L497.96 230.07 L498.04 230.08 L498.11 230.09 L498.19 230.1 L498.26 230.11 L498.34 230.12 L498.41 230.13 L498.49 230.14 L498.56 230.15 L498.64 230.16 L498.72 230.18 L498.79 230.19 L498.87 230.2 L498.94 230.22 L499.02 230.23 L499.09 230.25 L499.17 230.27 L499.25 230.29 L499.32 230.32 L499.4 230.35 L499.47 230.38 L499.55 230.42 L499.62 230.46 L499.7 230.5 L499.77 230.55 L499.85 230.6 L499.93 230.65 L500 230.7 L500.08 230.75 L500.15 230.8 L500.23 230.85 L500.3 230.89 L500.38 230.94 L500.46 230.99 L500.53 231.03 L500.61 231.08 L500.68 231.12 L500.76 231.15 L500.83 231.19 L500.91 231.22 L500.98 231.24 L501.06 231.27 L501.14 231.29 L501.21 231.31 L501.29 231.33 L501.36 231.36 L501.44 231.38 L501.51 231.4 L501.59 231.42 L501.67 231.44 L501.74 231.46 L501.82 231.48 L501.89 231.5 L501.97 231.52 L502.04 231.54 L502.12 231.56 L502.2 231.58 L502.27 231.6 L502.35 231.61 L502.42 231.63 L502.5 231.64 L502.57 231.66 L502.65 231.67 L502.72 231.68 L502.8 231.7 L502.88 231.71 L502.95 231.72 L503.03 231.72 L503.1 231.73 L503.18 231.74 L503.25 231.74 L503.33 231.75 L503.41 231.75 L503.48 231.75 L503.56 231.75 L503.63 231.75 L503.71 231.74 L503.78 231.74 L503.86 231.73 L503.93 231.73 L504.01 231.72 L504.09 231.71 L504.16 231.7 L504.24 231.69 L504.31 231.68 L504.39 231.67 L504.46 231.65 L504.54 231.64 L504.62 231.62 L504.69 231.61 L504.77 231.6 L504.84 231.58 L504.92 231.57 L504.99 231.55 L505.07 231.54 L505.15 231.52 L505.22 231.51 L505.3 231.49 L505.37 231.48 L505.45 231.46 L505.52 231.45 L505.6 231.44 L505.67 231.42 L505.75 231.41 L505.83 231.4 L505.9 231.39 L505.98 231.38 L506.05 231.37 L506.13 231.37 L506.2 231.36 L506.28 231.36 L506.36 231.35 L506.43 231.35 L506.51 231.35 L506.58 231.35 L506.66 231.35 L506.73 231.36 L506.81 231.36 L506.88 231.37 L506.96 231.38 L507.04 231.39 L507.11 231.4 L507.19 231.41 L507.26 231.43 L507.34 231.44 L507.41 231.46 L507.49 231.47 L507.57 231.49 L507.64 231.51 L507.72 231.52 L507.79 231.54 L507.87 231.56 L507.94 231.58 L508.02 231.6 L508.1 231.62 L508.17 231.63 L508.25 231.65 L508.32 231.67 L508.4 231.69 L508.47 231.7 L508.55 231.72 L508.62 231.74 L508.7 231.75 L508.78 231.77 L508.85 231.78 L508.93 231.79 L509 231.81 L509.08 231.82 L509.15 231.83 L509.23 231.83 L509.31 231.84 L509.38 231.84 L509.46 231.85 L509.53 231.85 L509.61 231.85 L509.68 231.85 L509.76 231.86 L509.83 231.86 L509.91 231.86 L509.99 231.86 L510.06 231.86 L510.14 231.86 L510.21 231.86 L510.29 231.87 L510.36 231.87 L510.44 231.87 L510.52 231.87 L510.59 231.87 L510.67 231.87 L510.74 231.87 L510.82 231.88 L510.89 231.88 L510.97 231.88 L511.05 231.88 L511.12 231.88 L511.2 231.88 L511.27 231.88 L511.35 231.88 L511.42 231.89 L511.5 231.89 L511.57 231.89 L511.65 231.89 L511.73 231.89 L511.8 231.89 L511.88 231.89 L511.95 231.89 L512.03 231.89 L512.1 231.9 L512.18 231.9 L512.26 231.9 L512.33 231.9 L512.41 231.9 L512.48 231.9 L512.56 231.9 L512.63 231.9 L512.71 231.9 L512.78 231.91 L512.86 231.91 L512.94 231.91 L513.01 231.91 L513.09 231.91 L513.16 231.91 L513.24 231.91 L513.31 231.91 L513.39 231.91 L513.47 231.91 L513.54 231.91 L513.62 231.92 L513.69 231.92 L513.77 231.92 L513.84 231.92 L513.92 231.92 L513.99 231.92 L514.07 231.92 L514.15 231.92 L514.22 231.92 L514.3 231.92 L514.37 231.92 L514.45 231.92 L514.52 231.92 L514.6 231.93 L514.68 231.93 L514.75 231.93 L514.83 231.93 L514.9 231.93 L514.98 231.93 L515.05 231.93 L515.13 231.93 L515.21 231.93 L515.28 231.93 L515.36 231.93 L515.43 231.93 L515.51 231.93 L515.58 231.93 L515.66 231.93 L515.73 231.93 L515.81 231.93 L515.89 231.94 L515.96 231.94 L516.04 231.94 L516.11 231.94 L516.19 231.94 L516.26 231.94 L516.34 231.94 L516.42 231.94 L516.49 231.94 L516.57 231.94 L516.64 231.94 L516.72 231.94 L516.79 231.94 L516.87 231.94 L516.94 231.94 L517.02 231.94 L517.1 231.94 L517.17 231.94 L517.25 231.94 L517.32 231.94 L517.4 231.94 L517.47 231.94 L517.55 231.94 L517.63 231.94 L517.7 231.94 L517.78 231.95 L517.85 231.95 L517.93 231.95 L518 231.95 L518.08 231.95 L518.16 231.95 L518.23 231.95 L518.31 231.95 L518.38 231.95 L518.46 231.95 L518.53 231.95 L518.61 231.95 L518.68 231.95 L518.76 231.95 L518.84 231.95 L518.91 231.95 L518.99 231.95 L519.06 231.95 L519.14 231.95 L519.21 231.95 L519.29 231.95 L519.37 231.95 L519.44 231.95 L519.52 231.95 L519.59 231.95 L519.67 231.95 L519.74 231.95 L519.82 231.95 L519.89 231.95 L519.97 231.95 L520.05 231.95 L520.12 231.95 L520.2 231.95 L520.27 231.95 L520.35 231.95 L520.42 231.95 L520.5 231.95" fill="none" stroke="#1f77b4" stroke-width="2.55" stroke-linejoin="round" stroke-linecap="butt" />
<path d="M426.7 231.94 L427.05 231.93 L427.4 231.92 L427.75 231.91 L428.09 231.89 L428.44 231.87 L428.79 231.85 L429.14 231.83 L429.49 231.8 L429.84 231.77 L430.18 231.74 L430.53 231.71 L430.88 231.68 L431.23 231.64 L431.58 231.6 L431.93 231.57 L432.27 231.53 L432.62 231.49 L432.97 231.45 L433.32 231.41 L433.67 231.36 L434.02 231.31 L434.36 231.26 L434.71 231.21 L435.06 231.16 L435.41 231.1 L435.76 231.04 L436.11 230.97 L436.45 230.9 L436.8 230.83 L437.15 230.75 L437.5 230.67 L437.85 230.59 L438.2 230.5 L438.54 230.4 L438.89 230.31 L439.24 230.2 L439.59 230.09 L439.94 229.97 L440.29 229.84 L440.63 229.69 L440.98 229.53 L441.33 229.35 L441.68 229.15 L442.03 228.93 L442.38 228.7 L442.72 228.46 L443.07 228.2 L443.42 227.93 L443.77 227.65 L444.12 227.36 L444.47 227.06 L444.81 226.76 L445.16 226.45 L445.51 226.13 L445.86 225.81 L446.21 225.49 L446.56 225.16 L446.9 224.82 L447.25 224.48 L447.6 224.12 L447.95 223.76 L448.3 223.38 L448.65 222.99 L448.99 222.59 L449.34 222.18 L449.69 221.76 L450.04 221.34 L450.39 220.91 L450.74 220.47 L451.08 220.04 L451.43 219.59 L451.78 219.15 L452.13 218.69 L452.48 218.22 L452.83 217.75 L453.17 217.26 L453.52 216.77 L453.87 216.27 L454.22 215.78 L454.57 215.29 L454.92 214.81 L455.27 214.34 L455.61 213.89 L455.96 213.46 L456.31 213.05 L456.66 212.65 L457.01 212.28 L457.36 211.92 L457.7 211.57 L458.05 211.23 L458.4 210.9 L458.75 210.59 L459.1 210.3 L459.45 210.03 L459.79 209.78 L460.14 209.56 L460.49 209.36 L460.84 209.19 L461.19 209.04 L461.54 208.91 L461.88 208.79 L462.23 208.69 L462.58 208.59 L462.93 208.51 L463.28 208.44 L463.63 208.39 L463.97 208.35 L464.32 208.32 L464.67 208.32 L465.02 208.34 L465.37 208.38 L465.72 208.44 L466.06 208.52 L466.41 208.63 L466.76 208.74 L467.11 208.87 L467.46 209.01 L467.81 209.16 L468.15 209.32 L468.5 209.49 L468.85 209.67 L469.2 209.87 L469.55 210.08 L469.9 210.32 L470.24 210.56 L470.59 210.82 L470.94 211.1 L471.29 211.38 L471.64 211.67 L471.99 211.96 L472.33 212.26 L472.68 212.55 L473.03 212.85 L473.38 213.15 L473.73 213.45 L474.08 213.75 L474.42 214.05 L474.77 214.36 L475.12 214.67 L475.47 214.99 L475.82 215.32 L476.17 215.64 L476.51 215.97 L476.86 216.3 L477.21 216.63 L477.56 216.96 L477.91 217.29 L478.26 217.62 L478.6 217.94 L478.95 218.26 L479.3 218.58 L479.65 218.89 L480 219.2 L480.35 219.5 L480.69 219.79 L481.04 220.07 L481.39 220.34 L481.74 220.61 L482.09 220.87 L482.44 221.13 L482.79 221.38 L483.13 221.63 L483.48 221.87 L483.83 222.12 L484.18 222.36 L484.53 222.59 L484.88 222.83 L485.22 223.06 L485.57 223.29 L485.92 223.51 L486.27 223.73 L486.62 223.94 L486.97 224.15 L487.31 224.35 L487.66 224.55 L488.01 224.74 L488.36 224.93 L488.71 225.1 L489.06 225.28 L489.4 225.44 L489.75 225.6 L490.1 225.75 L490.45 225.89 L490.8 226.03 L491.15 226.17 L491.49 226.3 L491.84 226.43 L492.19 226.56 L492.54 226.68 L492.89 226.8 L493.24 226.91 L493.58 227.03 L493.93 227.14 L494.28 227.25 L494.63 227.35 L494.98 227.45 L495.33 227.55 L495.67 227.65 L496.02 227.74 L496.37 227.83 L496.72 227.92 L497.07 228 L497.42 228.08 L497.76 228.16 L498.11 228.24 L498.46 228.31 L498.81 228.39 L499.16 228.46 L499.51 228.52 L499.85 228.59 L500.2 228.66 L500.55 228.72 L500.9 228.78 L501.25 228.84 L501.6 228.9 L501.94 228.96 L502.29 229.01 L502.64 229.07 L502.99 229.12 L503.34 229.17 L503.69 229.23 L504.03 229.27 L504.38 229.32 L504.73 229.37 L505.08 229.42 L505.43 229.46 L505.78 229.5 L506.12 229.55 L506.47 229.59 L506.82 229.63 L507.17 229.67 L507.52 229.71 L507.87 229.75 L508.22 229.79 L508.56 229.83 L508.91 229.87 L509.26 229.91 L509.61 229.95 L509.96 229.99 L510.31 230.03 L510.65 230.07 L511 230.11 L511.35 230.14 L511.7 230.17 L512.05 230.2 L512.4 230.23 L512.74 230.26 L513.09 230.28 L513.44 230.3 L513.79 230.31 L514.14 230.33 L514.49 230.33 L514.83 230.34 L515.18 230.35 L515.53 230.35 L515.88 230.35 L516.23 230.35 L516.58 230.35 L516.92 230.35 L517.27 230.35 L517.62 230.35 L517.97 230.35 L518.32 230.35 L518.67 230.35 L519.01 230.35 L519.36 230.35 L519.71 230.35 L520.06 230.35 L520.41 230.35 L520.76 230.35 L521.1 230.35 L521.45 230.35 L521.8 230.35 L522.15 230.35 L522.5 230.35 L522.85 230.35 L523.19 230.35 L523.54 230.35 L523.89 230.35 L524.24 230.35 L524.59 230.35 L524.94 230.35 L525.28 230.35 L525.63 230.35 L525.98 230.35 L526.33 230.34 L526.68 230.34 L527.03 230.34 L527.37 230.33 L527.72 230.33 L528.07 230.32 L528.42 230.32 L528.77 230.31 L529.12 230.3 L529.46 230.3 L529.81 230.29 L530.16 230.28 L530.51 230.27 L530.86 230.27 L531.21 230.26 L531.55 230.25 L531.9 230.24 L532.25 230.23 L532.6 230.22 L532.95 230.21 L533.3 230.2 L533.64 230.19 L533.99 230.18 L534.34 230.17 L534.69 230.16 L535.04 230.15 L535.39 230.13 L535.74 230.12 L536.08 230.1 L536.43 230.08 L536.78 230.06 L537.13 230.04 L537.48 230.02 L537.83 230 L538.17 229.97 L538.52 229.95 L538.87 229.92 L539.22 229.89 L539.57 229.86 L539.92 229.84 L540.26 229.81 L540.61 229.78 L540.96 229.75 L541.31 229.72 L541.66 229.69 L542.01 229.66 L542.35 229.63 L542.7 229.6 L543.05 229.58 L543.4 229.55 L543.75 229.53 L544.1 229.5 L544.44 229.48 L544.79 229.46 L545.14 229.44 L545.49 229.42 L545.84 229.41 L546.19 229.39 L546.53 229.38 L546.88 229.37 L547.23 229.36 L547.58 229.36 L547.93 229.36 L548.28 229.36 L548.62 229.36 L548.97 229.36 L549.32 229.36 L549.67 229.37 L550.02 229.37 L550.37 229.38 L550.71 229.39 L551.06 229.4 L551.41 229.41 L551.76 229.42 L552.11 229.43 L552.46 229.44 L552.8 229.45 L553.15 229.46 L553.5 229.48 L553.85 229.49 L554.2 229.5 L554.55 229.52 L554.89 229.53 L555.24 229.55 L555.59 229.56 L555.94 229.58 L556.29 229.59 L556.64 229.61 L556.98 229.63 L557.33 229.64 L557.68 229.66 L558.03 229.67 L558.38 229.69 L558.73 229.7 L559.07 229.71 L559.42 229.73 L559.77 229.74 L560.12 229.75 L560.47 229.77 L560.82 229.78 L561.16 229.79 L561.51 229.81 L561.86 229.82 L562.21 229.84 L562.56 229.85 L562.91 229.87 L563.26 229.88 L563.6 229.9 L563.95 229.91 L564.3 229.93 L564.65 229.94 L565 229.96 L565.35 229.97 L565.69 229.99 L566.04 230 L566.39 230.02 L566.74 230.03 L567.09 230.05 L567.44 230.06 L567.78 230.08 L568.13 230.1 L568.48 230.11 L568.83 230.13 L569.18 230.14 L569.53 230.16 L569.87 230.17 L570.22 230.18 L570.57 230.2 L570.92 230.21 L571.27 230.23 L571.62 230.24 L571.96 230.25 L572.31 230.26 L572.66 230.28 L573.01 230.29 L573.36 230.3 L573.71 230.31 L574.05 230.32 L574.4 230.33 L574.75 230.34 L575.1 230.35 L575.45 230.36 L575.8 230.37 L576.14 230.38 L576.49 230.39 L576.84 230.4 L577.19 230.41 L577.54 230.42 L577.89 230.43 L578.23 230.44 L578.58 230.45 L578.93 230.46 L579.28 230.47 L579.63 230.48 L579.98 230.49 L580.32 230.5 L580.67 230.5 L581.02 230.51 L581.37 230.52 L581.72 230.53 L582.07 230.54 L582.41 230.55 L582.76 230.56 L583.11 230.56 L583.46 230.57 L583.81 230.58 L584.16 230.59 L584.5 230.59 L584.85 230.6 L585.2 230.6 L585.55 230.61 L585.9 230.62 L586.25 230.62 L586.59 230.63 L586.94 230.63 L587.29 230.63 L587.64 230.64 L587.99 230.64 L588.34 230.64 L588.68 230.64 L589.03 230.65 L589.38 230.65 L589.73 230.65 L590.08 230.65 L590.43 230.65 L590.78 230.65 L591.12 230.64 L591.47 230.64 L591.82 230.64 L592.17 230.63 L592.52 230.63 L592.87 230.62 L593.21 230.62 L593.56 230.61 L593.91 230.6 L594.26 230.6 L594.61 230.59 L594.96 230.58 L595.3 230.57 L595.65 230.57 L596 230.56 L596.35 230.55 L596.7 230.54 L597.05 230.53 L597.39 230.52 L597.74 230.51 L598.09 230.5 L598.44 230.49 L598.79 230.48 L599.14 230.47 L599.48 230.46 L599.83 230.45 L600.18 230.44 L600.53 230.43 L600.88 230.42 L601.23 230.41 L601.57 230.4 L601.92 230.38 L602.27 230.37 L602.62 230.35 L602.97 230.34 L603.32 230.32 L603.66 230.3 L604.01 230.29 L604.36 230.27 L604.71 230.25 L605.06 230.24 L605.41 230.22 L605.75 230.2 L606.1 230.19 L606.45 230.17 L606.8 230.16 L607.15 230.14 L607.5 230.13 L607.84 230.12 L608.19 230.1 L608.54 230.09 L608.89 230.08 L609.24 230.08 L609.59 230.07 L609.93 230.06 L610.28 230.06 L610.63 230.06 L610.98 230.06 L611.33 230.06 L611.68 230.06 L612.02 230.06 L612.37 230.07 L612.72 230.07 L613.07 230.08 L613.42 230.09 L613.77 230.1 L614.11 230.11 L614.46 230.12 L614.81 230.13 L615.16 230.15 L615.51 230.16 L615.86 230.17 L616.21 230.19 L616.55 230.21 L616.9 230.22 L617.25 230.24 L617.6 230.25 L617.95 230.27 L618.3 230.29 L618.64 230.3 L618.99 230.32 L619.34 230.34 L619.69 230.35 L620.04 230.37 L620.39 230.38 L620.73 230.4 L621.08 230.41 L621.43 230.43 L621.78 230.44 L622.13 230.45 L622.48 230.47 L622.82 230.48 L623.17 230.49 L623.52 230.5 L623.87 230.51 L624.22 230.53 L624.57 230.54 L624.91 230.55 L625.26 230.56 L625.61 230.57 L625.96 230.59 L626.31 230.6 L626.66 230.61 L627 230.62 L627.35 230.63 L627.7 230.64 L628.05 230.66 L628.4 230.67 L628.75 230.68 L629.09 230.69 L629.44 230.7 L629.79 230.71 L630.14 230.73 L630.49 230.74 L630.84 230.75 L631.18 230.76 L631.53 230.77 L631.88 230.78 L632.23 230.79 L632.58 230.81 L632.93 230.82 L633.27 230.83 L633.62 230.84 L633.97 230.85 L634.32 230.86 L634.67 230.87 L635.02 230.89 L635.36 230.9 L635.71 230.91 L636.06 230.92 L636.41 230.93 L636.76 230.94 L637.11 230.95 L637.45 230.97 L637.8 230.98 L638.15 230.99 L638.5 231 L638.85 231.01 L639.2 231.02 L639.54 231.03 L639.89 231.05 L640.24 231.06 L640.59 231.07 L640.94 231.08 L641.29 231.09 L641.63 231.11 L641.98 231.12 L642.33 231.13 L642.68 231.14 L643.03 231.15 L643.38 231.16 L643.73 231.18 L644.07 231.19 L644.42 231.2 L644.77 231.21 L645.12 231.23 L645.47 231.24 L645.82 231.25 L646.16 231.26 L646.51 231.27 L646.86 231.29 L647.21 231.3 L647.56 231.31 L647.91 231.32 L648.25 231.33 L648.6 231.34 L648.95 231.36 L649.3 231.37 L649.65 231.38 L650 231.39 L650.34 231.4 L650.69 231.41 L651.04 231.43 L651.39 231.44 L651.74 231.45 L652.09 231.46 L652.43 231.47 L652.78 231.48 L653.13 231.49 L653.48 231.5 L653.83 231.51 L654.18 231.53 L654.52 231.54 L654.87 231.55 L655.22 231.56 L655.57 231.57 L655.92 231.58 L656.27 231.59 L656.61 231.6 L656.96 231.61 L657.31 231.62 L657.66 231.63 L658.01 231.64 L658.36 231.65 L658.7 231.66 L659.05 231.67 L659.4 231.68 L659.75 231.69 L660.1 231.69 L660.45 231.7 L660.79 231.71 L661.14 231.72 L661.49 231.73 L661.84 231.74 L662.19 231.75 L662.54 231.76 L662.88 231.77 L663.23 231.78 L663.58 231.79 L663.93 231.8 L664.28 231.81 L664.63 231.82 L664.97 231.82 L665.32 231.83 L665.67 231.84 L666.02 231.85 L666.37 231.86 L666.72 231.87 L667.06 231.88 L667.41 231.88 L667.76 231.89 L668.11 231.9 L668.46 231.91 L668.81 231.92 L669.15 231.92 L669.5 231.93 L669.85 231.94 L670.2 231.94" fill="none" stroke="#ff7f0e" stroke-width="2.55" stroke-linejoin="round" stroke-linecap="butt" />
</g>
<rect x="415.9" y="91.75" width="266.15" height="140.25" fill="none" stroke="#000" stroke-width="1.4"/>
<line x1="93.2" y1="446.9" x2="93.2" y2="453.2" stroke="#000" stroke-width="1.4"/>
<text x="93.2" y="471.35" font-size="16.35" text-anchor="middle">0</text>
<line x1="149.45" y1="446.9" x2="149.45" y2="453.2" stroke="#000" stroke-width="1.4"/>
<text x="149.45" y="471.35" font-size="16.35" text-anchor="middle">1000</text>
<line x1="205.7" y1="446.9" x2="205.7" y2="453.2" stroke="#000" stroke-width="1.4"/>
<text x="205.7" y="471.35" font-size="16.35" text-anchor="middle">2000</text>
<line x1="261.95" y1="446.9" x2="261.95" y2="453.2" stroke="#000" stroke-width="1.4"/>
<text x="261.95" y="471.35" font-size="16.35" text-anchor="middle">3000</text>
<line x1="318.2" y1="446.9" x2="318.2" y2="453.2" stroke="#000" stroke-width="1.4"/>
<text x="318.2" y="471.35" font-size="16.35" text-anchor="middle">4000</text>
<line x1="75.1" y1="331.85" x2="81.4" y2="331.85" stroke="#000" stroke-width="1.4"/>
<text x="69.3" y="337.7" font-size="16.35" text-anchor="end">0.00075</text>
<line x1="75.1" y1="370.2" x2="81.4" y2="370.2" stroke="#000" stroke-width="1.4"/>
<text x="69.3" y="376.05" font-size="16.35" text-anchor="end">0.00050</text>
<line x1="75.1" y1="408.55" x2="81.4" y2="408.55" stroke="#000" stroke-width="1.4"/>
<text x="69.3" y="414.4" font-size="16.35" text-anchor="end">0.00025</text>
<line x1="75.1" y1="446.85" x2="81.4" y2="446.85" stroke="#000" stroke-width="1.4"/>
<text x="69.3" y="452.7" font-size="16.35" text-anchor="end">0.00000</text>
<text x="214.43" y="493.3" font-size="16.5" text-anchor="middle">LOF/benign</text>
<text x="214.53" y="323.4" font-size="14.75" text-anchor="middle">KS statistic = 0.40</text>
<text x="214.53" y="339.8" font-size="14.75" text-anchor="middle">(p&lt;=0.001)</text>
<g clip-path="url(#c10)">
<path d="M333.32 446.29 L333.5 445.85 L335.2 340.92 L335.6 340.92 L333.9 446.85" fill="none" stroke="#1f77b4" stroke-width="2.55" stroke-linejoin="miter" stroke-linecap="butt" />
<path d="M93.35 446.82 L93.54 445.17 L93.73 442.81 L93.92 440.21 L94.11 437.56 L94.3 435.03 L94.49 432.76 L94.68 430.87 L94.87 429.45 L95.06 428.56 L95.25 428.26 L95.44 428.55 L95.63 429.42 L95.82 430.83 L96.01 432.71 L96.2 434.98 L96.39 437.5 L96.58 440.16 L96.77 442.78 L96.96 445.15 L97.15 446.82 L97.34 446.06 L97.53 444.96 L97.72 443.75 L97.91 442.51 L98.1 441.33 L98.29 440.26 L98.48 439.38 L98.67 438.71 L98.86 438.29 L99.05 438.15 L99.24 438.28 L99.43 438.68 L99.62 439.34 L99.81 440.22 L100 441.28 L100.19 442.46 L100.38 443.7 L100.57 444.93 L100.76 446.04 L100.95 446.82 L101.14 446.37 L101.33 445.72 L101.52 445 L101.71 444.27 L101.9 443.56 L102.09 442.92 L102.28 442.39 L102.47 441.99 L102.66 441.74 L102.85 441.65 L103.04 441.72 L103.23 441.96 L103.42 442.35 L103.61 442.88 L103.8 443.51 L103.99 444.21 L104.18 444.95 L104.37 445.69 L104.56 446.35 L104.75 446.82 L104.94 446.56 L105.13 446.19 L105.32 445.78 L105.51 445.35 L105.7 444.94 L105.89 444.56 L106.08 444.25 L106.27 444.01 L106.46 443.86 L106.65 443.81 L106.84 443.85 L107.03 443.99 L107.22 444.21 L107.41 444.52 L107.6 444.88 L107.79 445.29 L107.98 445.73 L108.17 446.16 L108.36 446.55 L108.55 446.82 L108.74 446.64 L108.93 446.37 L109.12 446.07 L109.31 445.76 L109.5 445.46 L109.69 445.19 L109.88 444.96 L110.07 444.79 L110.26 444.67 L110.45 444.63 L110.64 444.66 L110.83 444.76 L111.02 444.92 L111.21 445.14 L111.4 445.41 L111.59 445.71 L111.78 446.02 L111.97 446.33 L112.16 446.62 L112.35 446.82 L112.54 446.68 L112.73 446.48 L112.92 446.26 L113.11 446.02 L113.3 445.79 L113.49 445.58 L113.68 445.4 L113.87 445.27 L114.06 445.18 L114.25 445.15 L114.44 445.17 L114.63 445.24 L114.82 445.36 L115.01 445.53 L115.2 445.73 L115.39 445.96 L115.58 446.21 L115.77 446.45 L115.96 446.66 L116.15 446.82 L116.34 446.72 L116.53 446.56 L116.72 446.39 L116.91 446.2 L117.1 446.02 L117.29 445.85 L117.48 445.71 L117.67 445.6 L117.86 445.53 L118.05 445.51 L118.24 445.52 L118.43 445.58 L118.62 445.67 L118.81 445.8 L119 445.96 L119.19 446.14 L119.38 446.33 L119.57 446.52 L119.76 446.7 L119.95 446.82 L120.14 446.76 L120.33 446.67 L120.52 446.56 L120.71 446.44 L120.9 446.33 L121.09 446.22 L121.28 446.13 L121.47 446.06 L121.66 446.01 L121.85 445.99 L122.04 445.99 L122.23 446.03 L122.42 446.09 L122.61 446.17 L122.8 446.27 L122.99 446.38 L123.18 446.51 L123.37 446.63 L123.56 446.74 L123.75 446.82 L123.94 446.77 L124.13 446.69 L124.32 446.6 L124.51 446.5 L124.7 446.4 L124.89 446.3 L125.08 446.22 L125.27 446.16 L125.46 446.12 L125.65 446.1 L125.84 446.1 L126.03 446.13 L126.22 446.18 L126.41 446.25 L126.6 446.34 L126.79 446.44 L126.98 446.54 L127.17 446.65 L127.36 446.75 L127.55 446.82 L127.74 446.78 L127.93 446.71 L128.12 446.63 L128.31 446.54 L128.5 446.45 L128.69 446.37 L128.88 446.29 L129.07 446.24 L129.26 446.2 L129.45 446.18 L129.64 446.18 L129.83 446.21 L130.02 446.25 L130.21 446.31 L130.4 446.39 L130.59 446.48 L130.78 446.57 L130.97 446.67 L131.16 446.75 L131.35 446.82 L131.54 446.78 L131.73 446.72 L131.92 446.65 L132.11 446.58 L132.3 446.49 L132.49 446.42 L132.68 446.35 L132.87 446.3 L133.06 446.27 L133.25 446.25 L133.44 446.25 L133.63 446.27 L133.82 446.31 L134.01 446.36 L134.2 446.43 L134.39 446.51 L134.58 446.6 L134.77 446.68 L134.96 446.76 L135.15 446.82 L135.34 446.79 L135.53 446.73 L135.72 446.67 L135.91 446.6 L136.1 446.53 L136.29 446.46 L136.48 446.4 L136.67 446.35 L136.86 446.32 L137.05 446.3 L137.24 446.3 L137.43 446.32 L137.62 446.36 L137.81 446.41 L138 446.47 L138.19 446.54 L138.38 446.61 L138.57 446.69 L138.76 446.76 L138.95 446.82 L139.14 446.79 L139.33 446.74 L139.52 446.69 L139.71 446.63 L139.9 446.56 L140.09 446.49 L140.28 446.44 L140.47 446.39 L140.66 446.36 L140.85 446.35 L141.04 446.35 L141.23 446.36 L141.42 446.39 L141.61 446.44 L141.8 446.49 L141.99 446.56 L142.18 446.63 L142.37 446.7 L142.56 446.77 L142.75 446.82 L142.94 446.79 L143.13 446.75 L143.32 446.7 L143.51 446.65 L143.7 446.58 L143.89 446.52 L144.08 446.47 L144.27 446.43 L144.46 446.4 L144.65 446.38 L144.84 446.38 L145.03 446.4 L145.22 446.43 L145.41 446.47 L145.6 446.52 L145.79 446.58 L145.98 446.64 L146.17 446.71 L146.36 446.77 L146.55 446.82 L146.74 446.79 L146.93 446.76 L147.12 446.72 L147.31 446.66 L147.5 446.6 L147.69 446.55 L147.88 446.5 L148.07 446.46 L148.26 446.43 L148.45 446.42 L148.64 446.41 L148.83 446.43 L149.02 446.45 L149.21 446.49 L149.4 446.54 L149.59 446.59 L149.78 446.65 L149.97 446.71 L150.16 446.77 L150.35 446.82 L150.54 446.8 L150.73 446.76 L150.92 446.73 L151.11 446.68 L151.3 446.62 L151.49 446.57 L151.68 446.52 L151.87 446.48 L152.06 446.46 L152.25 446.44 L152.44 446.44 L152.63 446.45 L152.82 446.47 L153.01 446.51 L153.2 446.55 L153.39 446.6 L153.58 446.66 L153.77 446.72 L153.96 446.77 L154.15 446.81 L154.34 446.8 L154.53 446.77 L154.72 446.74 L154.91 446.69 L155.1 446.64 L155.29 446.59 L155.48 446.54 L155.67 446.51 L155.86 446.48 L156.05 446.46 L156.24 446.46 L156.43 446.47 L156.62 446.49 L156.81 446.52 L157 446.57 L157.19 446.61 L157.38 446.67 L157.57 446.72 L157.76 446.77 L157.95 446.81 L158.14 446.8 L158.33 446.77 L158.52 446.74 L158.71 446.7 L158.9 446.65 L159.09 446.6 L159.28 446.56 L159.47 446.52 L159.66 446.5 L159.85 446.48 L160.04 446.48 L160.23 446.49 L160.42 446.51 L160.61 446.54 L160.8 446.58 L160.99 446.62 L161.18 446.67 L161.37 446.72 L161.56 446.77 L161.75 446.81 L161.94 446.8 L162.13 446.78 L162.32 446.75 L162.51 446.71 L162.7 446.66 L162.89 446.62 L163.08 446.57 L163.27 446.54 L163.46 446.52 L163.65 446.5 L163.84 446.5 L164.03 446.5 L164.22 446.52 L164.41 446.55 L164.6 446.59 L164.79 446.63 L164.98 446.68 L165.17 446.73 L165.36 446.77 L165.55 446.81 L165.74 446.8 L165.93 446.78 L166.12 446.76 L166.31 446.72 L166.5 446.67 L166.69 446.63 L166.88 446.59 L167.07 446.55 L167.26 446.53 L167.45 446.52 L167.64 446.51 L167.83 446.52 L168.02 446.53 L168.21 446.56 L168.4 446.6 L168.59 446.64 L168.78 446.68 L168.97 446.73 L169.16 446.77 L169.35 446.81 L169.54 446.8 L169.73 446.78 L169.92 446.76 L170.11 446.73 L170.3 446.68 L170.49 446.64 L170.68 446.6 L170.87 446.57 L171.06 446.54 L171.25 446.53 L171.44 446.52 L171.63 446.53 L171.82 446.55 L172.01 446.57 L172.2 446.6 L172.39 446.64 L172.58 446.68 L172.77 446.73 L172.96 446.77 L173.15 446.81 L173.34 446.8 L173.53 446.79 L173.72 446.77 L173.91 446.73 L174.1 446.69 L174.29 446.65 L174.48 446.61 L174.67 446.58 L174.86 446.55 L175.05 446.54 L175.24 446.53 L175.43 446.54 L175.62 446.55 L175.81 446.58 L176 446.61 L176.19 446.65 L176.38 446.69 L176.57 446.73 L176.76 446.77 L176.95 446.81 L177.14 446.8 L177.33 446.79 L177.52 446.77 L177.71 446.74 L177.9 446.7 L178.09 446.66 L178.28 446.62 L178.47 446.59 L178.66 446.56 L178.85 446.55 L179.04 446.54 L179.23 446.55 L179.42 446.56 L179.61 446.58 L179.8 446.61 L179.99 446.65 L180.18 446.69 L180.37 446.73 L180.56 446.77 L180.75 446.81 L180.94 446.8 L181.13 446.79 L181.32 446.77 L181.51 446.74 L181.7 446.7 L181.89 446.66 L182.08 446.63 L182.27 446.6 L182.46 446.57 L182.65 446.56 L182.84 446.55 L183.03 446.56 L183.22 446.57 L183.41 446.59 L183.6 446.62 L183.79 446.65 L183.98 446.69 L184.17 446.73 L184.36 446.77 L184.55 446.8 L184.74 446.8 L184.93 446.79 L185.12 446.78 L185.31 446.75 L185.5 446.71 L185.69 446.67 L185.88 446.63 L186.07 446.6 L186.26 446.58 L186.45 446.57 L186.64 446.56 L186.83 446.56 L187.02 446.57 L187.21 446.59 L187.4 446.62 L187.59 446.65 L187.78 446.69 L187.97 446.73 L188.16 446.77 L188.35 446.8 L188.54 446.8 L188.73 446.79 L188.92 446.78 L189.11 446.75 L189.3 446.71 L189.49 446.68 L189.68 446.64 L189.87 446.61 L190.06 446.59 L190.25 446.57 L190.44 446.56 L190.63 446.57 L190.82 446.58 L191.01 446.6 L191.2 446.62 L191.39 446.65 L191.58 446.69 L191.77 446.73 L191.96 446.77 L192.15 446.8 L192.34 446.8 L192.53 446.8 L192.72 446.78 L192.91 446.76 L193.1 446.72 L193.29 446.68 L193.48 446.65 L193.67 446.62 L193.86 446.59 L194.05 446.58 L194.24 446.57 L194.43 446.57 L194.62 446.58 L194.81 446.6 L195 446.62 L195.19 446.66 L195.38 446.69 L195.57 446.73 L195.76 446.77 L195.95 446.8 L196.14 446.8 L196.33 446.8 L196.52 446.79 L196.71 446.76 L196.9 446.72 L197.09 446.69 L197.28 446.65 L197.47 446.62 L197.66 446.6 L197.85 446.58 L198.04 446.57 L198.23 446.57 L198.42 446.58 L198.61 446.6 L198.8 446.63 L198.99 446.66 L199.18 446.69 L199.37 446.73 L199.56 446.77 L199.75 446.8 L199.94 446.8 L200.13 446.8 L200.32 446.79 L200.51 446.76 L200.7 446.73 L200.89 446.69 L201.08 446.66 L201.27 446.63 L201.46 446.6 L201.65 446.59 L201.84 446.58 L202.03 446.58 L202.22 446.59 L202.41 446.6 L202.6 446.63 L202.79 446.66 L202.98 446.69 L203.17 446.73 L203.36 446.76 L203.55 446.8 L203.74 446.8 L203.93 446.8 L204.12 446.79 L204.31 446.77 L204.5 446.73 L204.69 446.69 L204.88 446.66 L205.07 446.63 L205.26 446.6 L205.45 446.59 L205.64 446.58 L205.83 446.58 L206.02 446.59 L206.21 446.6 L206.4 446.63 L206.59 446.65 L206.78 446.69 L206.97 446.73 L207.16 446.76 L207.35 446.79 L207.54 446.8 L207.73 446.8 L207.92 446.79 L208.11 446.77 L208.3 446.73 L208.49 446.7 L208.68 446.66 L208.87 446.63 L209.06 446.61 L209.25 446.59 L209.44 446.58 L209.63 446.58 L209.82 446.59 L210.01 446.6 L210.2 446.62 L210.39 446.65 L210.58 446.69 L210.77 446.72 L210.96 446.76 L211.15 446.79 L211.34 446.8 L211.53 446.8 L211.72 446.8 L211.91 446.77 L212.1 446.74 L212.29 446.7 L212.48 446.66 L212.67 446.63 L212.86 446.61 L213.05 446.59 L213.24 446.58 L213.43 446.58 L213.62 446.59 L213.81 446.6 L214 446.62 L214.19 446.65 L214.38 446.68 L214.57 446.72 L214.76 446.76 L214.95 446.79 L215.14 446.8 L215.33 446.8 L215.52 446.8 L215.71 446.77 L215.9 446.74 L216.09 446.7 L216.28 446.67 L216.47 446.64 L216.66 446.61 L216.85 446.59 L217.04 446.58 L217.23 446.58 L217.42 446.58 L217.61 446.6 L217.8 446.62 L217.99 446.65 L218.18 446.68 L218.37 446.72 L218.56 446.75 L218.75 446.79 L218.94 446.8 L219.13 446.8 L219.32 446.8 L219.51 446.78 L219.7 446.74 L219.89 446.7 L220.08 446.67 L220.27 446.64 L220.46 446.61 L220.65 446.59 L220.84 446.58 L221.03 446.58 L221.22 446.58 L221.41 446.6 L221.6 446.62 L221.79 446.65 L221.98 446.68 L222.17 446.71 L222.36 446.75 L222.55 446.79 L222.74 446.8 L222.93 446.8 L223.12 446.8 L223.31 446.78 L223.5 446.74 L223.69 446.71 L223.88 446.67 L224.07 446.64 L224.26 446.61 L224.45 446.59 L224.64 446.58 L224.83 446.58 L225.02 446.58 L225.21 446.59 L225.4 446.61 L225.59 446.64 L225.78 446.68 L225.97 446.71 L226.16 446.75 L226.35 446.78 L226.54 446.79 L226.73 446.8 L226.92 446.8 L227.11 446.78 L227.3 446.74 L227.49 446.71 L227.68 446.67 L227.87 446.64 L228.06 446.61 L228.25 446.59 L228.44 446.58 L228.63 446.57 L228.82 446.58 L229.01 446.59 L229.2 446.61 L229.39 446.64 L229.58 446.67 L229.77 446.71 L229.96 446.75 L230.15 446.78 L230.34 446.79 L230.53 446.8 L230.72 446.8 L230.91 446.78 L231.1 446.75 L231.29 446.71 L231.48 446.67 L231.67 446.64 L231.86 446.61 L232.05 446.59 L232.24 446.57 L232.43 446.57 L232.62 446.57 L232.81 446.59 L233 446.61 L233.19 446.63 L233.38 446.67 L233.57 446.7 L233.76 446.74 L233.95 446.78 L234.14 446.79 L234.33 446.8 L234.52 446.8 L234.71 446.78 L234.9 446.75 L235.09 446.71 L235.28 446.67 L235.47 446.64 L235.66 446.61 L235.85 446.58 L236.04 446.57 L236.23 446.56 L236.42 446.57 L236.61 446.58 L236.8 446.6 L236.99 446.63 L237.18 446.66 L237.37 446.7 L237.56 446.74 L237.75 446.77 L237.94 446.79 L238.13 446.8 L238.32 446.8 L238.51 446.79 L238.7 446.75 L238.89 446.71 L239.08 446.67 L239.27 446.63 L239.46 446.6 L239.65 446.58 L239.84 446.57 L240.03 446.56 L240.22 446.56 L240.41 446.57 L240.6 446.59 L240.79 446.62 L240.98 446.65 L241.17 446.69 L241.36 446.73 L241.55 446.77 L241.74 446.79 L241.93 446.8 L242.12 446.81 L242.31 446.79 L242.5 446.75 L242.69 446.71 L242.88 446.67 L243.07 446.63 L243.26 446.6 L243.45 446.58 L243.64 446.56 L243.83 446.55 L244.02 446.55 L244.21 446.57 L244.4 446.59 L244.59 446.61 L244.78 446.65 L244.97 446.69 L245.16 446.73 L245.35 446.76 L245.54 446.78 L245.73 446.8 L245.92 446.81 L246.11 446.79 L246.3 446.75 L246.49 446.71 L246.68 446.67 L246.87 446.63 L247.06 446.59 L247.25 446.57 L247.44 446.55 L247.63 446.54 L247.82 446.55 L248.01 446.56 L248.2 446.58 L248.39 446.61 L248.58 446.64 L248.77 446.68 L248.96 446.72 L249.15 446.76 L249.34 446.78 L249.53 446.8 L249.72 446.81 L249.91 446.79 L250.1 446.75 L250.29 446.71 L250.48 446.66 L250.67 446.62 L250.86 446.59 L251.05 446.56 L251.24 446.54 L251.43 446.54 L251.62 446.54 L251.81 446.55 L252 446.57 L252.19 446.6 L252.38 446.63 L252.57 446.67 L252.76 446.71 L252.95 446.75 L253.14 446.78 L253.33 446.8 L253.52 446.81 L253.71 446.79 L253.9 446.75 L254.09 446.7 L254.28 446.66 L254.47 446.62 L254.66 446.58 L254.85 446.55 L255.04 446.53 L255.23 446.53 L255.42 446.53 L255.61 446.54 L255.8 446.56 L255.99 446.59 L256.18 446.62 L256.37 446.66 L256.56 446.71 L256.75 446.75 L256.94 446.78 L257.13 446.8 L257.32 446.81 L257.51 446.79 L257.7 446.75 L257.89 446.7 L258.08 446.66 L258.27 446.61 L258.46 446.57 L258.65 446.54 L258.84 446.52 L259.03 446.51 L259.22 446.51 L259.41 446.52 L259.6 446.54 L259.79 446.57 L259.98 446.61 L260.17 446.65 L260.36 446.7 L260.55 446.74 L260.74 446.77 L260.93 446.79 L261.12 446.81 L261.31 446.79 L261.5 446.75 L261.69 446.7 L261.88 446.65 L262.07 446.6 L262.26 446.57 L262.45 446.53 L262.64 446.51 L262.83 446.5 L263.02 446.5 L263.21 446.51 L263.4 446.53 L263.59 446.56 L263.78 446.6 L263.97 446.64 L264.16 446.69 L264.35 446.74 L264.54 446.77 L264.73 446.79 L264.92 446.81 L265.11 446.79 L265.3 446.75 L265.49 446.69 L265.68 446.64 L265.87 446.6 L266.06 446.55 L266.25 446.52 L266.44 446.5 L266.63 446.48 L266.82 446.48 L267.01 446.49 L267.2 446.51 L267.39 446.54 L267.58 446.58 L267.77 446.63 L267.96 446.68 L268.15 446.73 L268.34 446.76 L268.53 446.79 L268.72 446.81 L268.91 446.79 L269.1 446.74 L269.29 446.69 L269.48 446.64 L269.67 446.59 L269.86 446.54 L270.05 446.5 L270.24 446.48 L270.43 446.46 L270.62 446.46 L270.81 446.47 L271 446.49 L271.19 446.53 L271.38 446.57 L271.57 446.61 L271.76 446.67 L271.95 446.72 L272.14 446.76 L272.33 446.79 L272.52 446.81 L272.71 446.79 L272.9 446.74 L273.09 446.68 L273.28 446.63 L273.47 446.57 L273.66 446.53 L273.85 446.49 L274.04 446.46 L274.23 446.44 L274.42 446.44 L274.61 446.45 L274.8 446.47 L274.99 446.5 L275.18 446.55 L275.37 446.6 L275.56 446.65 L275.75 446.71 L275.94 446.75 L276.13 446.78 L276.32 446.81 L276.51 446.79 L276.7 446.74 L276.89 446.68 L277.08 446.62 L277.27 446.56 L277.46 446.51 L277.65 446.47 L277.84 446.44 L278.03 446.42 L278.22 446.41 L278.41 446.42 L278.6 446.44 L278.79 446.48 L278.98 446.53 L279.17 446.58 L279.36 446.64 L279.55 446.7 L279.74 446.74 L279.93 446.78 L280.12 446.81 L280.31 446.79 L280.5 446.73 L280.69 446.67 L280.88 446.6 L281.07 446.54 L281.26 446.49 L281.45 446.44 L281.64 446.41 L281.83 446.39 L282.02 446.38 L282.21 446.39 L282.4 446.41 L282.59 446.45 L282.78 446.5 L282.97 446.56 L283.16 446.62 L283.35 446.68 L283.54 446.73 L283.73 446.78 L283.92 446.81 L284.11 446.79 L284.3 446.73 L284.49 446.66 L284.68 446.59 L284.87 446.52 L285.06 446.46 L285.25 446.41 L285.44 446.37 L285.63 446.35 L285.82 446.34 L286.01 446.35 L286.2 446.38 L286.39 446.42 L286.58 446.47 L286.77 446.53 L286.96 446.6 L287.15 446.67 L287.34 446.72 L287.53 446.77 L287.72 446.81 L287.91 446.79 L288.1 446.72 L288.29 446.65 L288.48 446.57 L288.67 446.5 L288.86 446.43 L289.05 446.38 L289.24 446.33 L289.43 446.31 L289.62 446.3 L289.81 446.31 L290 446.34 L290.19 446.38 L290.38 446.43 L290.57 446.5 L290.76 446.57 L290.95 446.65 L291.14 446.71 L291.33 446.77 L291.52 446.81 L291.71 446.79 L291.9 446.71 L292.09 446.63 L292.28 446.55 L292.47 446.47 L292.66 446.39 L292.85 446.33 L293.04 446.29 L293.23 446.26 L293.42 446.25 L293.61 446.26 L293.8 446.28 L293.99 446.33 L294.18 446.39 L294.37 446.46 L294.56 446.54 L294.75 446.62 L294.94 446.69 L295.13 446.76 L295.32 446.81 L295.51 446.79 L295.7 446.7 L295.89 446.61 L296.08 446.52 L296.27 446.43 L296.46 446.35 L296.65 446.28 L296.84 446.22 L297.03 446.19 L297.22 446.18 L297.41 446.19 L297.6 446.22 L297.79 446.27 L297.98 446.33 L298.17 446.41 L298.36 446.5 L298.55 446.6 L298.74 446.68 L298.93 446.75 L299.12 446.81 L299.31 446.78 L299.5 446.69 L299.69 446.59 L299.88 446.48 L300.07 446.38 L300.26 446.29 L300.45 446.21 L300.64 446.15 L300.83 446.11 L301.02 446.1 L301.21 446.11 L301.4 446.14 L301.59 446.19 L301.78 446.27 L301.97 446.36 L302.16 446.46 L302.35 446.56 L302.54 446.65 L302.73 446.74 L302.92 446.8 L303.11 446.78 L303.3 446.68 L303.49 446.56 L303.68 446.43 L303.87 446.32 L304.06 446.21 L304.25 446.12 L304.44 446.05 L304.63 446.01 L304.82 445.99 L305.01 446 L305.2 446.03 L305.39 446.09 L305.58 446.18 L305.77 446.28 L305.96 446.39 L306.15 446.51 L306.34 446.62 L306.53 446.72 L306.72 446.8 L306.91 446.76 L307.1 446.6 L307.29 446.41 L307.48 446.22 L307.67 446.04 L307.86 445.87 L308.05 445.72 L308.24 445.61 L308.43 445.54 L308.62 445.51 L308.81 445.52 L309 445.57 L309.19 445.66 L309.38 445.79 L309.57 445.95 L309.76 446.12 L309.95 446.31 L310.14 446.49 L310.33 446.65 L310.52 446.79 L310.71 446.74 L310.9 446.54 L311.09 446.31 L311.28 446.06 L311.47 445.83 L311.66 445.61 L311.85 445.43 L312.04 445.29 L312.23 445.19 L312.42 445.15 L312.61 445.16 L312.8 445.22 L312.99 445.34 L313.18 445.5 L313.37 445.7 L313.56 445.92 L313.75 446.16 L313.94 446.39 L314.13 446.6 L314.32 446.78 L314.51 446.72 L314.7 446.46 L314.89 446.16 L315.08 445.84 L315.27 445.53 L315.46 445.25 L315.65 445.01 L315.84 444.82 L316.03 444.69 L316.22 444.64 L316.41 444.65 L316.6 444.73 L316.79 444.88 L316.98 445.09 L317.17 445.34 L317.36 445.63 L317.55 445.94 L317.74 446.25 L317.93 446.53 L318.12 446.76 L318.31 446.69 L318.5 446.33 L318.69 445.91 L318.88 445.48 L319.07 445.05 L319.26 444.67 L319.45 444.33 L319.64 444.07 L319.83 443.9 L320.02 443.82 L320.21 443.83 L320.4 443.94 L320.59 444.14 L320.78 444.42 L320.97 444.77 L321.16 445.17 L321.35 445.6 L321.54 446.02 L321.73 446.42 L321.92 446.74 L322.11 446.59 L322.3 445.98 L322.49 445.27 L322.68 444.52 L322.87 443.8 L323.06 443.13 L323.25 442.56 L323.44 442.11 L323.63 441.81 L323.82 441.66 L324.01 441.68 L324.2 441.86 L324.39 442.2 L324.58 442.68 L324.77 443.28 L324.96 443.96 L325.15 444.69 L325.34 445.42 L325.53 446.11 L325.72 446.68 L325.91 446.44 L326.1 445.42 L326.29 444.22 L326.48 442.98 L326.67 441.76 L326.86 440.65 L327.05 439.69 L327.24 438.93 L327.43 438.42 L327.62 438.17 L327.81 438.2 L328 438.5 L328.19 439.07 L328.38 439.87 L328.57 440.86 L328.76 442 L328.95 443.23 L329.14 444.46 L329.33 445.62 L329.52 446.58 L329.71 446 L329.9 443.82 L330.09 441.28 L330.28 438.62 L330.47 436.02 L330.66 433.63 L330.85 431.57 L331.04 429.95 L331.23 428.85 L331.42 428.31 L331.61 428.36 L331.8 429.01 L331.99 430.21 L332.18 431.91 L332.37 434.03 L332.56 436.47 L332.75 439.09 L332.94 441.73 L333.13 444.23 L333.32 446.29" fill="none" stroke="#1f77b4" stroke-width="2.55" stroke-linejoin="round" stroke-linecap="butt" />
<path d="M333.32 446.34 L333.5 445.85 L335.2 350.42 L335.6 350.42 L333.9 446.85" fill="none" stroke="#ff7f0e" stroke-width="2.55" stroke-linejoin="miter" stroke-linecap="butt" />
<path d="M93.35 446.83 L93.54 445.33 L93.73 443.21 L93.92 440.85 L94.11 438.46 L94.3 436.17 L94.49 434.12 L94.68 432.42 L94.87 431.14 L95.06 430.34 L95.25 430.06 L95.44 430.33 L95.63 431.11 L95.82 432.39 L96.01 434.09 L96.2 436.13 L96.39 438.41 L96.58 440.81 L96.77 443.18 L96.96 445.32 L97.15 446.83 L97.34 446.13 L97.53 445.15 L97.72 444.05 L97.91 442.93 L98.1 441.86 L98.29 440.9 L98.48 440.1 L98.67 439.5 L98.86 439.12 L99.05 438.99 L99.24 439.11 L99.43 439.48 L99.62 440.07 L99.81 440.86 L100 441.82 L100.19 442.88 L100.38 444.01 L100.57 445.11 L100.76 446.12 L100.95 446.83 L101.14 446.42 L101.33 445.83 L101.52 445.18 L101.71 444.52 L101.9 443.88 L102.09 443.3 L102.28 442.82 L102.47 442.46 L102.66 442.23 L102.85 442.15 L103.04 442.22 L103.23 442.44 L103.42 442.79 L103.61 443.26 L103.8 443.83 L103.99 444.47 L104.18 445.14 L104.37 445.8 L104.56 446.4 L104.75 446.83 L104.94 446.59 L105.13 446.26 L105.32 445.88 L105.51 445.5 L105.7 445.12 L105.89 444.79 L106.08 444.5 L106.27 444.29 L106.46 444.15 L106.65 444.11 L106.84 444.14 L107.03 444.27 L107.22 444.47 L107.41 444.74 L107.6 445.08 L107.79 445.45 L107.98 445.84 L108.17 446.22 L108.36 446.58 L108.55 446.83 L108.74 446.66 L108.93 446.42 L109.12 446.15 L109.31 445.87 L109.5 445.6 L109.69 445.35 L109.88 445.14 L110.07 444.99 L110.26 444.89 L110.45 444.85 L110.64 444.87 L110.83 444.96 L111.02 445.11 L111.21 445.31 L111.4 445.55 L111.59 445.82 L111.78 446.1 L111.97 446.38 L112.16 446.64 L112.35 446.82 L112.54 446.7 L112.73 446.52 L112.92 446.32 L113.11 446.1 L113.3 445.89 L113.49 445.7 L113.68 445.54 L113.87 445.42 L114.06 445.34 L114.25 445.31 L114.44 445.33 L114.63 445.4 L114.82 445.51 L115.01 445.66 L115.2 445.84 L115.39 446.05 L115.58 446.27 L115.77 446.48 L115.96 446.68 L116.15 446.82 L116.34 446.73 L116.53 446.59 L116.72 446.43 L116.91 446.26 L117.1 446.1 L117.29 445.95 L117.48 445.82 L117.67 445.72 L117.86 445.66 L118.05 445.64 L118.24 445.65 L118.43 445.7 L118.62 445.79 L118.81 445.91 L119 446.05 L119.19 446.21 L119.38 446.38 L119.57 446.55 L119.76 446.71 L119.95 446.82 L120.14 446.77 L120.33 446.68 L120.52 446.59 L120.71 446.48 L120.9 446.38 L121.09 446.28 L121.28 446.2 L121.47 446.13 L121.66 446.09 L121.85 446.07 L122.04 446.08 L122.23 446.11 L122.42 446.16 L122.61 446.24 L122.8 446.33 L122.99 446.43 L123.18 446.54 L123.37 446.65 L123.56 446.75 L123.75 446.82 L123.94 446.78 L124.13 446.7 L124.32 446.62 L124.51 446.53 L124.7 446.44 L124.89 446.35 L125.08 446.28 L125.27 446.23 L125.46 446.19 L125.65 446.17 L125.84 446.17 L126.03 446.2 L126.22 446.25 L126.41 446.31 L126.6 446.39 L126.79 446.48 L126.98 446.57 L127.17 446.67 L127.36 446.76 L127.55 446.82 L127.74 446.78 L127.93 446.72 L128.12 446.65 L128.31 446.57 L128.5 446.49 L128.69 446.41 L128.88 446.35 L129.07 446.3 L129.26 446.26 L129.45 446.25 L129.64 446.25 L129.83 446.27 L130.02 446.31 L130.21 446.37 L130.4 446.44 L130.59 446.52 L130.78 446.6 L130.97 446.68 L131.16 446.76 L131.35 446.82 L131.54 446.79 L131.73 446.73 L131.92 446.67 L132.11 446.6 L132.3 446.53 L132.49 446.46 L132.68 446.4 L132.87 446.35 L133.06 446.32 L133.25 446.31 L133.44 446.31 L133.63 446.33 L133.82 446.36 L134.01 446.41 L134.2 446.47 L134.39 446.54 L134.58 446.62 L134.77 446.7 L134.96 446.77 L135.15 446.82 L135.34 446.79 L135.53 446.75 L135.72 446.69 L135.91 446.63 L136.1 446.56 L136.29 446.5 L136.48 446.44 L136.67 446.4 L136.86 446.37 L137.05 446.36 L137.24 446.36 L137.43 446.37 L137.62 446.4 L137.81 446.45 L138 446.5 L138.19 446.57 L138.38 446.64 L138.57 446.71 L138.76 446.77 L138.95 446.82 L139.14 446.8 L139.33 446.75 L139.52 446.71 L139.71 446.65 L139.9 446.59 L140.09 446.53 L140.28 446.48 L140.47 446.44 L140.66 446.41 L140.85 446.4 L141.04 446.4 L141.23 446.41 L141.42 446.44 L141.61 446.48 L141.8 446.53 L141.99 446.59 L142.18 446.65 L142.37 446.71 L142.56 446.77 L142.75 446.82 L142.94 446.8 L143.13 446.76 L143.32 446.72 L143.51 446.67 L143.7 446.61 L143.89 446.55 L144.08 446.51 L144.27 446.47 L144.46 446.44 L144.65 446.43 L144.84 446.43 L145.03 446.44 L145.22 446.47 L145.41 446.5 L145.6 446.55 L145.79 446.6 L145.98 446.66 L146.17 446.72 L146.36 446.78 L146.55 446.82 L146.74 446.8 L146.93 446.77 L147.12 446.73 L147.31 446.68 L147.5 446.63 L147.69 446.58 L147.88 446.53 L148.07 446.5 L148.26 446.47 L148.45 446.46 L148.64 446.46 L148.83 446.47 L149.02 446.49 L149.21 446.52 L149.4 446.57 L149.59 446.62 L149.78 446.67 L149.97 446.73 L150.16 446.78 L150.35 446.82 L150.54 446.8 L150.73 446.77 L150.92 446.74 L151.11 446.69 L151.3 446.64 L151.49 446.6 L151.68 446.55 L151.87 446.52 L152.06 446.49 L152.25 446.48 L152.44 446.48 L152.63 446.49 L152.82 446.51 L153.01 446.54 L153.2 446.58 L153.39 446.63 L153.58 446.68 L153.77 446.73 L153.96 446.78 L154.15 446.82 L154.34 446.8 L154.53 446.78 L154.72 446.75 L154.91 446.7 L155.1 446.66 L155.29 446.61 L155.48 446.57 L155.67 446.54 L155.86 446.52 L156.05 446.5 L156.24 446.5 L156.43 446.51 L156.62 446.53 L156.81 446.56 L157 446.59 L157.19 446.64 L157.38 446.68 L157.57 446.73 L157.76 446.78 L157.95 446.82 L158.14 446.8 L158.33 446.78 L158.52 446.75 L158.71 446.71 L158.9 446.67 L159.09 446.63 L159.28 446.59 L159.47 446.56 L159.66 446.53 L159.85 446.52 L160.04 446.52 L160.23 446.52 L160.42 446.54 L160.61 446.57 L160.8 446.6 L160.99 446.64 L161.18 446.69 L161.37 446.74 L161.56 446.78 L161.75 446.82 L161.94 446.81 L162.13 446.79 L162.32 446.76 L162.51 446.72 L162.7 446.68 L162.89 446.64 L163.08 446.6 L163.27 446.57 L163.46 446.55 L163.65 446.54 L163.84 446.53 L164.03 446.54 L164.22 446.55 L164.41 446.58 L164.6 446.61 L164.79 446.65 L164.98 446.69 L165.17 446.74 L165.36 446.78 L165.55 446.81 L165.74 446.81 L165.93 446.79 L166.12 446.76 L166.31 446.73 L166.5 446.69 L166.69 446.65 L166.88 446.61 L167.07 446.58 L167.26 446.56 L167.45 446.55 L167.64 446.54 L167.83 446.55 L168.02 446.57 L168.21 446.59 L168.4 446.62 L168.59 446.66 L168.78 446.7 L168.97 446.74 L169.16 446.78 L169.35 446.81 L169.54 446.81 L169.73 446.79 L169.92 446.77 L170.11 446.74 L170.3 446.7 L170.49 446.66 L170.68 446.62 L170.87 446.59 L171.06 446.57 L171.25 446.56 L171.44 446.56 L171.63 446.56 L171.82 446.57 L172.01 446.6 L172.2 446.63 L172.39 446.66 L172.58 446.7 L172.77 446.74 L172.96 446.78 L173.15 446.81 L173.34 446.81 L173.53 446.79 L173.72 446.77 L173.91 446.74 L174.1 446.7 L174.29 446.67 L174.48 446.63 L174.67 446.6 L174.86 446.58 L175.05 446.57 L175.24 446.57 L175.43 446.57 L175.62 446.58 L175.81 446.6 L176 446.63 L176.19 446.67 L176.38 446.7 L176.57 446.74 L176.76 446.78 L176.95 446.81 L177.14 446.81 L177.33 446.8 L177.52 446.78 L177.71 446.75 L177.9 446.71 L178.09 446.67 L178.28 446.64 L178.47 446.61 L178.66 446.59 L178.85 446.58 L179.04 446.57 L179.23 446.58 L179.42 446.59 L179.61 446.61 L179.8 446.64 L179.99 446.67 L180.18 446.7 L180.37 446.74 L180.56 446.78 L180.75 446.81 L180.94 446.81 L181.13 446.8 L181.32 446.78 L181.51 446.75 L181.7 446.72 L181.89 446.68 L182.08 446.65 L182.27 446.62 L182.46 446.6 L182.65 446.59 L182.84 446.58 L183.03 446.58 L183.22 446.59 L183.41 446.61 L183.6 446.64 L183.79 446.67 L183.98 446.71 L184.17 446.74 L184.36 446.78 L184.55 446.81 L184.74 446.81 L184.93 446.8 L185.12 446.78 L185.31 446.76 L185.5 446.72 L185.69 446.69 L185.88 446.66 L186.07 446.63 L186.26 446.61 L186.45 446.59 L186.64 446.59 L186.83 446.59 L187.02 446.6 L187.21 446.62 L187.4 446.64 L187.59 446.67 L187.78 446.71 L187.97 446.74 L188.16 446.78 L188.35 446.81 L188.54 446.81 L188.73 446.8 L188.92 446.79 L189.11 446.76 L189.3 446.73 L189.49 446.69 L189.68 446.66 L189.87 446.63 L190.06 446.61 L190.25 446.6 L190.44 446.59 L190.63 446.59 L190.82 446.6 L191.01 446.62 L191.2 446.64 L191.39 446.67 L191.58 446.71 L191.77 446.74 L191.96 446.78 L192.15 446.81 L192.34 446.81 L192.53 446.8 L192.72 446.79 L192.91 446.77 L193.1 446.73 L193.29 446.7 L193.48 446.67 L193.67 446.64 L193.86 446.62 L194.05 446.6 L194.24 446.6 L194.43 446.6 L194.62 446.61 L194.81 446.62 L195 446.65 L195.19 446.67 L195.38 446.71 L195.57 446.74 L195.76 446.78 L195.95 446.81 L196.14 446.81 L196.33 446.8 L196.52 446.79 L196.71 446.77 L196.9 446.74 L197.09 446.7 L197.28 446.67 L197.47 446.64 L197.66 446.62 L197.85 446.61 L198.04 446.6 L198.23 446.6 L198.42 446.61 L198.61 446.62 L198.8 446.65 L198.99 446.67 L199.18 446.71 L199.37 446.74 L199.56 446.77 L199.75 446.8 L199.94 446.81 L200.13 446.8 L200.32 446.79 L200.51 446.77 L200.7 446.74 L200.89 446.71 L201.08 446.67 L201.27 446.65 L201.46 446.63 L201.65 446.61 L201.84 446.6 L202.03 446.6 L202.22 446.61 L202.41 446.63 L202.6 446.65 L202.79 446.67 L202.98 446.71 L203.17 446.74 L203.36 446.77 L203.55 446.8 L203.74 446.81 L203.93 446.8 L204.12 446.8 L204.31 446.78 L204.5 446.74 L204.69 446.71 L204.88 446.68 L205.07 446.65 L205.26 446.63 L205.45 446.61 L205.64 446.61 L205.83 446.6 L206.02 446.61 L206.21 446.63 L206.4 446.65 L206.59 446.67 L206.78 446.7 L206.97 446.74 L207.16 446.77 L207.35 446.8 L207.54 446.81 L207.73 446.8 L207.92 446.8 L208.11 446.78 L208.3 446.75 L208.49 446.71 L208.68 446.68 L208.87 446.65 L209.06 446.63 L209.25 446.62 L209.44 446.61 L209.63 446.61 L209.82 446.61 L210.01 446.63 L210.2 446.65 L210.39 446.67 L210.58 446.7 L210.77 446.74 L210.96 446.77 L211.15 446.8 L211.34 446.8 L211.53 446.8 L211.72 446.8 L211.91 446.78 L212.1 446.75 L212.29 446.71 L212.48 446.68 L212.67 446.66 L212.86 446.63 L213.05 446.62 L213.24 446.61 L213.43 446.61 L213.62 446.61 L213.81 446.62 L214 446.65 L214.19 446.67 L214.38 446.7 L214.57 446.73 L214.76 446.77 L214.95 446.8 L215.14 446.8 L215.33 446.81 L215.52 446.8 L215.71 446.78 L215.9 446.75 L216.09 446.72 L216.28 446.68 L216.47 446.66 L216.66 446.63 L216.85 446.62 L217.04 446.61 L217.23 446.61 L217.42 446.61 L217.61 446.62 L217.8 446.64 L217.99 446.67 L218.18 446.7 L218.37 446.73 L218.56 446.76 L218.75 446.79 L218.94 446.8 L219.13 446.81 L219.32 446.8 L219.51 446.78 L219.7 446.75 L219.89 446.72 L220.08 446.69 L220.27 446.66 L220.46 446.63 L220.65 446.62 L220.84 446.61 L221.03 446.6 L221.22 446.61 L221.41 446.62 L221.6 446.64 L221.79 446.67 L221.98 446.7 L222.17 446.73 L222.36 446.76 L222.55 446.79 L222.74 446.8 L222.93 446.81 L223.12 446.8 L223.31 446.79 L223.5 446.75 L223.69 446.72 L223.88 446.69 L224.07 446.66 L224.26 446.63 L224.45 446.62 L224.64 446.61 L224.83 446.6 L225.02 446.61 L225.21 446.62 L225.4 446.64 L225.59 446.66 L225.78 446.69 L225.97 446.72 L226.16 446.76 L226.35 446.79 L226.54 446.8 L226.73 446.81 L226.92 446.81 L227.11 446.79 L227.3 446.76 L227.49 446.72 L227.68 446.69 L227.87 446.66 L228.06 446.63 L228.25 446.61 L228.44 446.6 L228.63 446.6 L228.82 446.6 L229.01 446.62 L229.2 446.63 L229.39 446.66 L229.58 446.69 L229.77 446.72 L229.96 446.76 L230.15 446.79 L230.34 446.8 L230.53 446.81 L230.72 446.81 L230.91 446.79 L231.1 446.76 L231.29 446.72 L231.48 446.69 L231.67 446.66 L231.86 446.63 L232.05 446.61 L232.24 446.6 L232.43 446.6 L232.62 446.6 L232.81 446.61 L233 446.63 L233.19 446.65 L233.38 446.68 L233.57 446.72 L233.76 446.75 L233.95 446.78 L234.14 446.8 L234.33 446.81 L234.52 446.81 L234.71 446.79 L234.9 446.76 L235.09 446.72 L235.28 446.69 L235.47 446.66 L235.66 446.63 L235.85 446.61 L236.04 446.6 L236.23 446.59 L236.42 446.6 L236.61 446.61 L236.8 446.62 L236.99 446.65 L237.18 446.68 L237.37 446.71 L237.56 446.75 L237.75 446.78 L237.94 446.8 L238.13 446.8 L238.32 446.81 L238.51 446.79 L238.7 446.76 L238.89 446.72 L239.08 446.69 L239.27 446.65 L239.46 446.63 L239.65 446.61 L239.84 446.59 L240.03 446.59 L240.22 446.59 L240.41 446.6 L240.6 446.62 L240.79 446.64 L240.98 446.67 L241.17 446.71 L241.36 446.74 L241.55 446.78 L241.74 446.79 L241.93 446.8 L242.12 446.81 L242.31 446.79 L242.5 446.76 L242.69 446.72 L242.88 446.69 L243.07 446.65 L243.26 446.62 L243.45 446.6 L243.64 446.59 L243.83 446.58 L244.02 446.58 L244.21 446.59 L244.4 446.61 L244.59 446.64 L244.78 446.67 L244.97 446.7 L245.16 446.74 L245.35 446.77 L245.54 446.79 L245.73 446.8 L245.92 446.81 L246.11 446.79 L246.3 446.76 L246.49 446.72 L246.68 446.68 L246.87 446.65 L247.06 446.62 L247.25 446.6 L247.44 446.58 L247.63 446.57 L247.82 446.58 L248.01 446.59 L248.2 446.6 L248.39 446.63 L248.58 446.66 L248.77 446.7 L248.96 446.73 L249.15 446.77 L249.34 446.79 L249.53 446.8 L249.72 446.81 L249.91 446.8 L250.1 446.76 L250.29 446.72 L250.48 446.68 L250.67 446.65 L250.86 446.61 L251.05 446.59 L251.24 446.57 L251.43 446.57 L251.62 446.57 L251.81 446.58 L252 446.59 L252.19 446.62 L252.38 446.65 L252.57 446.69 L252.76 446.73 L252.95 446.76 L253.14 446.79 L253.33 446.8 L253.52 446.81 L253.71 446.8 L253.9 446.76 L254.09 446.72 L254.28 446.68 L254.47 446.64 L254.66 446.61 L254.85 446.58 L255.04 446.57 L255.23 446.56 L255.42 446.56 L255.61 446.57 L255.8 446.58 L255.99 446.61 L256.18 446.64 L256.37 446.68 L256.56 446.72 L256.75 446.76 L256.94 446.78 L257.13 446.8 L257.32 446.81 L257.51 446.8 L257.7 446.76 L257.89 446.72 L258.08 446.67 L258.27 446.64 L258.46 446.6 L258.65 446.57 L258.84 446.56 L259.03 446.55 L259.22 446.55 L259.41 446.55 L259.6 446.57 L259.79 446.6 L259.98 446.63 L260.17 446.67 L260.36 446.71 L260.55 446.75 L260.74 446.78 L260.93 446.8 L261.12 446.81 L261.31 446.8 L261.5 446.76 L261.69 446.71 L261.88 446.67 L262.07 446.63 L262.26 446.59 L262.45 446.56 L262.64 446.54 L262.83 446.53 L263.02 446.53 L263.21 446.54 L263.4 446.56 L263.59 446.59 L263.78 446.62 L263.97 446.66 L264.16 446.7 L264.35 446.75 L264.54 446.77 L264.73 446.8 L264.92 446.81 L265.11 446.8 L265.3 446.76 L265.49 446.71 L265.68 446.66 L265.87 446.62 L266.06 446.58 L266.25 446.55 L266.44 446.53 L266.63 446.52 L266.82 446.52 L267.01 446.53 L267.2 446.55 L267.39 446.57 L267.58 446.61 L267.77 446.65 L267.96 446.7 L268.15 446.74 L268.34 446.77 L268.53 446.8 L268.72 446.81 L268.91 446.8 L269.1 446.75 L269.29 446.71 L269.48 446.66 L269.67 446.61 L269.86 446.57 L270.05 446.54 L270.24 446.52 L270.43 446.5 L270.62 446.5 L270.81 446.51 L271 446.53 L271.19 446.56 L271.38 446.59 L271.57 446.64 L271.76 446.68 L271.95 446.73 L272.14 446.77 L272.33 446.79 L272.52 446.81 L272.71 446.8 L272.9 446.75 L273.09 446.7 L273.28 446.65 L273.47 446.6 L273.66 446.56 L273.85 446.52 L274.04 446.5 L274.23 446.48 L274.42 446.48 L274.61 446.49 L274.8 446.51 L274.99 446.54 L275.18 446.58 L275.37 446.62 L275.56 446.67 L275.75 446.72 L275.94 446.76 L276.13 446.79 L276.32 446.81 L276.51 446.8 L276.7 446.75 L276.89 446.69 L277.08 446.64 L277.27 446.59 L277.46 446.54 L277.65 446.5 L277.84 446.48 L278.03 446.46 L278.22 446.46 L278.41 446.46 L278.6 446.48 L278.79 446.52 L278.98 446.56 L279.17 446.61 L279.36 446.66 L279.55 446.71 L279.74 446.75 L279.93 446.79 L280.12 446.81 L280.31 446.8 L280.5 446.75 L280.69 446.69 L280.88 446.63 L281.07 446.57 L281.26 446.52 L281.45 446.48 L281.64 446.45 L281.83 446.43 L282.02 446.43 L282.21 446.44 L282.4 446.46 L282.59 446.49 L282.78 446.53 L282.97 446.58 L283.16 446.64 L283.35 446.7 L283.54 446.74 L283.73 446.78 L283.92 446.81 L284.11 446.8 L284.3 446.74 L284.49 446.68 L284.68 446.61 L284.87 446.55 L285.06 446.5 L285.25 446.45 L285.44 446.42 L285.63 446.4 L285.82 446.39 L286.01 446.4 L286.2 446.42 L286.39 446.46 L286.58 446.51 L286.77 446.56 L286.96 446.62 L287.15 446.68 L287.34 446.73 L287.53 446.78 L287.72 446.81 L287.91 446.8 L288.1 446.74 L288.29 446.67 L288.48 446.6 L288.67 446.53 L288.86 446.47 L289.05 446.42 L289.24 446.38 L289.43 446.36 L289.62 446.35 L289.81 446.36 L290 446.39 L290.19 446.42 L290.38 446.47 L290.57 446.53 L290.76 446.6 L290.95 446.67 L291.14 446.72 L291.33 446.77 L291.52 446.81 L291.71 446.79 L291.9 446.73 L292.09 446.65 L292.28 446.58 L292.47 446.5 L292.66 446.44 L292.85 446.38 L293.04 446.34 L293.23 446.31 L293.42 446.31 L293.61 446.31 L293.8 446.34 L293.99 446.38 L294.18 446.43 L294.37 446.5 L294.56 446.57 L294.75 446.65 L294.94 446.71 L295.13 446.77 L295.32 446.81 L295.51 446.79 L295.7 446.72 L295.89 446.64 L296.08 446.55 L296.27 446.47 L296.46 446.39 L296.65 446.33 L296.84 446.29 L297.03 446.26 L297.22 446.25 L297.41 446.25 L297.6 446.28 L297.79 446.32 L297.98 446.38 L298.17 446.46 L298.36 446.54 L298.55 446.62 L298.74 446.69 L298.93 446.76 L299.12 446.81 L299.31 446.79 L299.5 446.71 L299.69 446.61 L299.88 446.52 L300.07 446.42 L300.26 446.34 L300.45 446.27 L300.64 446.22 L300.83 446.18 L301.02 446.17 L301.21 446.18 L301.4 446.21 L301.59 446.26 L301.78 446.32 L301.97 446.4 L302.16 446.49 L302.35 446.59 L302.54 446.67 L302.73 446.75 L302.92 446.81 L303.11 446.79 L303.3 446.69 L303.49 446.59 L303.68 446.47 L303.87 446.37 L304.06 446.27 L304.25 446.19 L304.44 446.13 L304.63 446.09 L304.82 446.07 L305.01 446.08 L305.2 446.11 L305.39 446.17 L305.58 446.24 L305.77 446.33 L305.96 446.44 L306.15 446.55 L306.34 446.64 L306.53 446.73 L306.72 446.81 L306.91 446.77 L307.1 446.62 L307.29 446.46 L307.48 446.28 L307.67 446.12 L307.86 445.96 L308.05 445.83 L308.24 445.73 L308.43 445.67 L308.62 445.64 L308.81 445.65 L309 445.69 L309.19 445.78 L309.38 445.89 L309.57 446.03 L309.76 446.19 L309.95 446.36 L310.14 446.52 L310.33 446.67 L310.52 446.79 L310.71 446.75 L310.9 446.57 L311.09 446.36 L311.28 446.14 L311.47 445.93 L311.66 445.73 L311.85 445.57 L312.04 445.44 L312.23 445.35 L312.42 445.31 L312.61 445.32 L312.8 445.38 L312.99 445.49 L313.18 445.63 L313.37 445.81 L313.56 446.01 L313.75 446.23 L313.94 446.43 L314.13 446.63 L314.32 446.79 L314.51 446.73 L314.7 446.5 L314.89 446.22 L315.08 445.94 L315.27 445.66 L315.46 445.4 L315.65 445.19 L315.84 445.02 L316.03 444.9 L316.22 444.85 L316.41 444.86 L316.6 444.94 L316.79 445.07 L316.98 445.26 L317.17 445.49 L317.36 445.75 L317.55 446.03 L317.74 446.31 L317.93 446.56 L318.12 446.77 L318.31 446.7 L318.5 446.38 L318.69 446 L318.88 445.61 L319.07 445.23 L319.26 444.88 L319.45 444.58 L319.64 444.34 L319.83 444.18 L320.02 444.11 L320.21 444.12 L320.4 444.22 L320.59 444.4 L320.78 444.66 L320.97 444.97 L321.16 445.34 L321.35 445.72 L321.54 446.1 L321.73 446.46 L321.92 446.75 L322.11 446.62 L322.3 446.06 L322.49 445.42 L322.68 444.75 L322.87 444.09 L323.06 443.49 L323.25 442.98 L323.44 442.57 L323.63 442.3 L323.82 442.16 L324.01 442.18 L324.2 442.35 L324.39 442.65 L324.58 443.09 L324.77 443.63 L324.96 444.24 L325.15 444.9 L325.34 445.56 L325.53 446.18 L325.72 446.69 L325.91 446.48 L326.1 445.56 L326.29 444.48 L326.48 443.35 L326.67 442.26 L326.86 441.25 L327.05 440.38 L327.24 439.7 L327.43 439.24 L327.62 439.01 L327.81 439.04 L328 439.31 L328.19 439.82 L328.38 440.54 L328.57 441.44 L328.76 442.47 L328.95 443.58 L329.14 444.69 L329.33 445.74 L329.52 446.6 L329.71 446.08 L329.9 444.12 L330.09 441.82 L330.28 439.41 L330.47 437.07 L330.66 434.91 L330.85 433.06 L331.04 431.59 L331.23 430.6 L331.42 430.11 L331.61 430.16 L331.8 430.74 L331.99 431.82 L332.18 433.36 L332.37 435.28 L332.56 437.47 L332.75 439.84 L332.94 442.23 L333.13 444.48 L333.32 446.34" fill="none" stroke="#ff7f0e" stroke-width="2.55" stroke-linejoin="round" stroke-linecap="butt" />
</g>
<rect x="81.4" y="306.8" width="266.05" height="140.1" fill="none" stroke="#000" stroke-width="1.4"/>
<line x1="435.7" y1="446.9" x2="435.7" y2="453.2" stroke="#000" stroke-width="1.4"/>
<text x="435.7" y="471.35" font-size="16.35" text-anchor="middle">0.0</text>
<line x1="494.3" y1="446.9" x2="494.3" y2="453.2" stroke="#000" stroke-width="1.4"/>
<text x="494.3" y="471.35" font-size="16.35" text-anchor="middle">0.1</text>
<line x1="552.9" y1="446.9" x2="552.9" y2="453.2" stroke="#000" stroke-width="1.4"/>
<text x="552.9" y="471.35" font-size="16.35" text-anchor="middle">0.2</text>
<line x1="611.5" y1="446.9" x2="611.5" y2="453.2" stroke="#000" stroke-width="1.4"/>
<text x="611.5" y="471.35" font-size="16.35" text-anchor="middle">0.3</text>
<line x1="670.1" y1="446.9" x2="670.1" y2="453.2" stroke="#000" stroke-width="1.4"/>
<text x="670.1" y="471.35" font-size="16.35" text-anchor="middle">0.4</text>
<line x1="409.6" y1="329.25" x2="415.9" y2="329.25" stroke="#000" stroke-width="1.4"/>
<text x="403.8" y="335.1" font-size="16.35" text-anchor="end">150</text>
<line x1="409.6" y1="368.45" x2="415.9" y2="368.45" stroke="#000" stroke-width="1.4"/>
<text x="403.8" y="374.3" font-size="16.35" text-anchor="end">100</text>
<line x1="409.6" y1="407.65" x2="415.9" y2="407.65" stroke="#000" stroke-width="1.4"/>
<text x="403.8" y="413.5" font-size="16.35" text-anchor="end">50</text>
<line x1="409.6" y1="446.85" x2="415.9" y2="446.85" stroke="#000" stroke-width="1.4"/>
<text x="403.8" y="452.7" font-size="16.35" text-anchor="end">0</text>
<text x="548.97" y="493.3" font-size="16.5" text-anchor="middle">LOF/kb</text>
<text x="549.07" y="323.4" font-size="14.75" text-anchor="middle">KS statistic = 0.44</text>
<text x="549.07" y="339.8" font-size="14.75" text-anchor="middle">(p&lt;=0.001)</text>
<g clip-path="url(#c11)">
<path d="M427.5 446.84 L427.7 446.83 L427.9 446.8 L428.1 446.75 L428.31 446.68 L428.51 446.6 L428.71 446.51 L428.91 446.4 L429.11 446.29 L429.31 446.16 L429.51 446.02 L429.72 445.84 L429.92 445.61 L430.12 445.33 L430.32 445.01 L430.52 444.64 L430.72 444.21 L430.92 443.71 L431.13 443.1 L431.33 442.36 L431.53 441.48 L431.73 440.5 L431.93 439.42 L432.13 438.29 L432.33 437.11 L432.54 435.9 L432.74 434.63 L432.94 433.28 L433.14 431.84 L433.34 430.33 L433.54 428.77 L433.74 427.21 L433.95 425.66 L434.15 424.14 L434.35 422.63 L434.55 421.1 L434.75 419.54 L434.95 418 L435.15 416.51 L435.36 415.12 L435.56 413.88 L435.76 412.8 L435.96 411.88 L436.16 411.06 L436.36 410.32 L436.56 409.67 L436.77 409.14 L436.97 408.78 L437.17 408.62 L437.37 408.66 L437.57 408.9 L437.77 409.29 L437.97 409.8 L438.18 410.38 L438.38 411.01 L438.58 411.67 L438.78 412.35 L438.98 413.09 L439.18 413.91 L439.38 414.8 L439.59 415.75 L439.79 416.74 L439.99 417.75 L440.19 418.76 L440.39 419.76 L440.59 420.73 L440.79 421.65 L440.99 422.54 L441.2 423.4 L441.4 424.25 L441.6 425.09 L441.8 425.91 L442 426.7 L442.2 427.45 L442.4 428.17 L442.61 428.85 L442.81 429.5 L443.01 430.14 L443.21 430.76 L443.41 431.36 L443.61 431.95 L443.81 432.5 L444.02 433.02 L444.22 433.5 L444.42 433.93 L444.62 434.32 L444.82 434.66 L445.02 434.96 L445.22 435.23 L445.43 435.48 L445.63 435.72 L445.83 435.94 L446.03 436.14 L446.23 436.34 L446.43 436.53 L446.63 436.71 L446.84 436.88 L447.04 437.06 L447.24 437.23 L447.44 437.41 L447.64 437.58 L447.84 437.76 L448.04 437.92 L448.25 438.09 L448.45 438.24 L448.65 438.4 L448.85 438.55 L449.05 438.7 L449.25 438.86 L449.45 439.01 L449.66 439.17 L449.86 439.34 L450.06 439.52 L450.26 439.7 L450.46 439.89 L450.66 440.09 L450.86 440.29 L451.07 440.5 L451.27 440.71 L451.47 440.92 L451.67 441.14 L451.87 441.36 L452.07 441.58 L452.27 441.8 L452.48 442.02 L452.68 442.25 L452.88 442.5 L453.08 442.77 L453.28 443.05 L453.48 443.34 L453.68 443.63 L453.89 443.91 L454.09 444.18 L454.29 444.41 L454.49 444.61 L454.69 444.76 L454.89 444.87 L455.09 444.92 L455.3 444.95 L455.5 444.96 L455.7 444.97 L455.9 444.97 L456.1 444.98 L456.3 444.98 L456.5 444.98 L456.71 444.99 L456.91 444.99 L457.11 444.99 L457.31 444.99 L457.51 445 L457.71 445 L457.91 445 L458.12 445 L458.32 445 L458.52 445 L458.72 444.99 L458.92 444.98 L459.12 444.97 L459.32 444.95 L459.53 444.93 L459.73 444.91 L459.93 444.88 L460.13 444.85 L460.33 444.83 L460.53 444.8 L460.73 444.78 L460.94 444.75 L461.14 444.73 L461.34 444.72 L461.54 444.71 L461.74 444.71 L461.94 444.72 L462.14 444.74 L462.35 444.78 L462.55 444.84 L462.75 444.9 L462.95 444.98 L463.15 445.06 L463.35 445.15 L463.55 445.24 L463.76 445.34 L463.96 445.43 L464.16 445.51 L464.36 445.59 L464.56 445.66 L464.76 445.72 L464.96 445.76 L465.17 445.79 L465.37 445.81 L465.57 445.83 L465.77 445.84 L465.97 445.85 L466.17 445.86 L466.37 445.88 L466.58 445.89 L466.78 445.9 L466.98 445.91 L467.18 445.92 L467.38 445.93 L467.58 445.94 L467.78 445.94 L467.98 445.95 L468.19 445.96 L468.39 445.97 L468.59 445.97 L468.79 445.98 L468.99 445.99 L469.19 445.99 L469.39 446 L469.6 446 L469.8 446.01 L470 446.02 L470.2 446.02 L470.4 446.03 L470.6 446.03 L470.8 446.04 L471.01 446.04 L471.21 446.05 L471.41 446.05 L471.61 446.05 L471.81 446.06 L472.01 446.06 L472.21 446.07 L472.42 446.07 L472.62 446.08 L472.82 446.08 L473.02 446.09 L473.22 446.09 L473.42 446.1 L473.62 446.1 L473.83 446.11 L474.03 446.11 L474.23 446.12 L474.43 446.13 L474.63 446.13 L474.83 446.14 L475.03 446.14 L475.24 446.15 L475.44 446.16 L475.64 446.16 L475.84 446.17 L476.04 446.17 L476.24 446.18 L476.44 446.18 L476.65 446.19 L476.85 446.19 L477.05 446.19 L477.25 446.19 L477.45 446.2 L477.65 446.2 L477.85 446.2 L478.06 446.19 L478.26 446.19 L478.46 446.17 L478.66 446.14 L478.86 446.11 L479.06 446.07 L479.26 446.03 L479.47 445.98 L479.67 445.94 L479.87 445.88 L480.07 445.83 L480.27 445.78 L480.47 445.73 L480.67 445.68 L480.88 445.64 L481.08 445.6 L481.28 445.56 L481.48 445.54 L481.68 445.52 L481.88 445.51 L482.08 445.51 L482.29 445.52 L482.49 445.53 L482.69 445.56 L482.89 445.59 L483.09 445.63 L483.29 445.67 L483.49 445.72 L483.7 445.76 L483.9 445.81 L484.1 445.87 L484.3 445.92 L484.5 445.97 L484.7 446.01 L484.9 446.06 L485.11 446.1 L485.31 446.13 L485.51 446.16 L485.71 446.18 L485.91 446.19 L486.11 446.2 L486.31 446.21 L486.52 446.21 L486.72 446.21 L486.92 446.22 L487.12 446.22 L487.32 446.22 L487.52 446.23 L487.72 446.23 L487.93 446.23 L488.13 446.24 L488.33 446.24 L488.53 446.24 L488.73 446.24 L488.93 446.25 L489.13 446.25 L489.34 446.25 L489.54 446.25 L489.74 446.26 L489.94 446.26 L490.14 446.26 L490.34 446.26 L490.54 446.26 L490.75 446.27 L490.95 446.27 L491.15 446.27 L491.35 446.27 L491.55 446.27 L491.75 446.28 L491.95 446.28 L492.16 446.28 L492.36 446.28 L492.56 446.28 L492.76 446.28 L492.96 446.28 L493.16 446.29 L493.36 446.29 L493.57 446.29 L493.77 446.29 L493.97 446.29 L494.17 446.29 L494.37 446.29 L494.57 446.29 L494.77 446.29 L494.97 446.29 L495.18 446.3 L495.38 446.3 L495.58 446.3 L495.78 446.3 L495.98 446.3 L496.18 446.3 L496.38 446.3 L496.59 446.3 L496.79 446.3 L496.99 446.3 L497.19 446.3 L497.39 446.3 L497.59 446.3 L497.79 446.3 L498 446.3 L498.2 446.29 L498.4 446.29 L498.6 446.28 L498.8 446.26 L499 446.24 L499.2 446.22 L499.41 446.2 L499.61 446.17 L499.81 446.14 L500.01 446.11 L500.21 446.08 L500.41 446.04 L500.61 446.01 L500.82 445.97 L501.02 445.93 L501.22 445.9 L501.42 445.86 L501.62 445.82 L501.82 445.79 L502.02 445.75 L502.23 445.72 L502.43 445.68 L502.63 445.65 L502.83 445.62 L503.03 445.6 L503.23 445.57 L503.43 445.55 L503.64 445.53 L503.84 445.52 L504.04 445.51 L504.24 445.5 L504.44 445.5 L504.64 445.51 L504.84 445.52 L505.05 445.53 L505.25 445.55 L505.45 445.57 L505.65 445.6 L505.85 445.63 L506.05 445.67 L506.25 445.7 L506.46 445.74 L506.66 445.78 L506.86 445.82 L507.06 445.86 L507.26 445.91 L507.46 445.95 L507.66 445.99 L507.87 446.03 L508.07 446.07 L508.27 446.11 L508.47 446.14 L508.67 446.18 L508.87 446.21 L509.07 446.23 L509.28 446.25 L509.48 446.27 L509.68 446.29 L509.88 446.29 L510.08 446.3 L510.28 446.3 L510.48 446.3 L510.69 446.31 L510.89 446.31 L511.09 446.31 L511.29 446.31 L511.49 446.32 L511.69 446.32 L511.89 446.32 L512.1 446.32 L512.3 446.32 L512.5 446.32 L512.7 446.33 L512.9 446.33 L513.1 446.33 L513.3 446.33 L513.51 446.33 L513.71 446.34 L513.91 446.34 L514.11 446.34 L514.31 446.34 L514.51 446.34 L514.71 446.35 L514.92 446.35 L515.12 446.35 L515.32 446.35 L515.52 446.35 L515.72 446.35 L515.92 446.36 L516.12 446.36 L516.33 446.36 L516.53 446.36 L516.73 446.36 L516.93 446.36 L517.13 446.37 L517.33 446.37 L517.53 446.37 L517.74 446.37 L517.94 446.37 L518.14 446.37 L518.34 446.38 L518.54 446.38 L518.74 446.38 L518.94 446.38 L519.15 446.38 L519.35 446.38 L519.55 446.38 L519.75 446.39 L519.95 446.39 L520.15 446.39 L520.35 446.39 L520.56 446.39 L520.76 446.39 L520.96 446.39 L521.16 446.4 L521.36 446.4 L521.56 446.4 L521.76 446.4 L521.96 446.4 L522.17 446.4 L522.37 446.4 L522.57 446.4 L522.77 446.41 L522.97 446.41 L523.17 446.41 L523.37 446.41 L523.58 446.41 L523.78 446.41 L523.98 446.41 L524.18 446.41 L524.38 446.42 L524.58 446.42 L524.78 446.42 L524.99 446.42 L525.19 446.42 L525.39 446.42 L525.59 446.42 L525.79 446.42 L525.99 446.43 L526.19 446.43 L526.4 446.43 L526.6 446.43 L526.8 446.43 L527 446.43 L527.2 446.43 L527.4 446.43 L527.6 446.43 L527.81 446.43 L528.01 446.44 L528.21 446.44 L528.41 446.44 L528.61 446.44 L528.81 446.44 L529.01 446.44 L529.22 446.44 L529.42 446.44 L529.62 446.44 L529.82 446.44 L530.02 446.45 L530.22 446.45 L530.42 446.45 L530.63 446.45 L530.83 446.45 L531.03 446.45 L531.23 446.45 L531.43 446.45 L531.63 446.45 L531.83 446.45 L532.04 446.45 L532.24 446.45 L532.44 446.46 L532.64 446.46 L532.84 446.46 L533.04 446.46 L533.24 446.46 L533.45 446.46 L533.65 446.46 L533.85 446.46 L534.05 446.46 L534.25 446.46 L534.45 446.46 L534.65 446.46 L534.86 446.46 L535.06 446.47 L535.26 446.47 L535.46 446.47 L535.66 446.47 L535.86 446.47 L536.06 446.47 L536.27 446.47 L536.47 446.47 L536.67 446.47 L536.87 446.47 L537.07 446.47 L537.27 446.47 L537.47 446.47 L537.68 446.47 L537.88 446.47 L538.08 446.47 L538.28 446.48 L538.48 446.48 L538.68 446.48 L538.88 446.48 L539.09 446.48 L539.29 446.48 L539.49 446.48 L539.69 446.48 L539.89 446.48 L540.09 446.48 L540.29 446.48 L540.5 446.48 L540.7 446.48 L540.9 446.48 L541.1 446.48 L541.3 446.48 L541.5 446.48 L541.7 446.48 L541.91 446.48 L542.11 446.48 L542.31 446.48 L542.51 446.49 L542.71 446.49 L542.91 446.49 L543.11 446.49 L543.32 446.49 L543.52 446.49 L543.72 446.49 L543.92 446.49 L544.12 446.49 L544.32 446.49 L544.52 446.49 L544.73 446.49 L544.93 446.49 L545.13 446.49 L545.33 446.49 L545.53 446.49 L545.73 446.49 L545.93 446.49 L546.14 446.49 L546.34 446.49 L546.54 446.49 L546.74 446.49 L546.94 446.49 L547.14 446.49 L547.34 446.49 L547.55 446.49 L547.75 446.49 L547.95 446.49 L548.15 446.49 L548.35 446.49 L548.55 446.49 L548.75 446.49 L548.95 446.49 L549.16 446.5 L549.36 446.5 L549.56 446.5 L549.76 446.5 L549.96 446.5 L550.16 446.5 L550.36 446.5 L550.57 446.5 L550.77 446.5 L550.97 446.5 L551.17 446.5 L551.37 446.5 L551.57 446.5 L551.77 446.5 L551.98 446.5 L552.18 446.5 L552.38 446.5 L552.58 446.5 L552.78 446.5 L552.98 446.5 L553.18 446.5 L553.39 446.5 L553.59 446.5 L553.79 446.5 L553.99 446.5 L554.19 446.5 L554.39 446.5 L554.59 446.5 L554.8 446.5 L555 446.5 L555.2 446.5 L555.4 446.5 L555.6 446.5 L555.8 446.5 L556 446.5 L556.21 446.5 L556.41 446.5 L556.61 446.5 L556.81 446.5 L557.01 446.5 L557.21 446.5 L557.41 446.5 L557.62 446.5 L557.82 446.5 L558.02 446.5 L558.22 446.5 L558.42 446.5 L558.62 446.5 L558.82 446.5 L559.03 446.5 L559.23 446.5 L559.43 446.5 L559.63 446.5 L559.83 446.5 L560.03 446.5 L560.23 446.5 L560.44 446.5 L560.64 446.5 L560.84 446.49 L561.04 446.49 L561.24 446.49 L561.44 446.48 L561.64 446.48 L561.85 446.47 L562.05 446.47 L562.25 446.46 L562.45 446.46 L562.65 446.45 L562.85 446.44 L563.05 446.44 L563.26 446.43 L563.46 446.42 L563.66 446.41 L563.86 446.4 L564.06 446.4 L564.26 446.39 L564.46 446.38 L564.67 446.37 L564.87 446.36 L565.07 446.35 L565.27 446.34 L565.47 446.33 L565.67 446.32 L565.87 446.31 L566.08 446.29 L566.28 446.28 L566.48 446.26 L566.68 446.25 L566.88 446.22 L567.08 446.2 L567.28 446.18 L567.49 446.15 L567.69 446.12 L567.89 446.09 L568.09 446.06 L568.29 446.03 L568.49 445.99 L568.69 445.96 L568.9 445.93 L569.1 445.9 L569.3 445.86 L569.5 445.83 L569.7 445.8 L569.9 445.77 L570.1 445.75 L570.31 445.72 L570.51 445.7 L570.71 445.67 L570.91 445.65 L571.11 445.64 L571.31 445.62 L571.51 445.61 L571.72 445.61 L571.92 445.6 L572.12 445.6 L572.32 445.61 L572.52 445.61 L572.72 445.62 L572.92 445.64 L573.13 445.65 L573.33 445.67 L573.53 445.69 L573.73 445.71 L573.93 445.73 L574.13 445.76 L574.33 445.78 L574.54 445.8 L574.74 445.83 L574.94 445.85 L575.14 445.87 L575.34 445.9 L575.54 445.92 L575.74 445.94 L575.94 445.95 L576.15 445.97 L576.35 445.98 L576.55 445.99 L576.75 445.99 L576.95 446 L577.15 446 L577.35 445.99 L577.56 445.99 L577.76 445.98 L577.96 445.96 L578.16 445.95 L578.36 445.93 L578.56 445.91 L578.76 445.89 L578.97 445.87 L579.17 445.85 L579.37 445.83 L579.57 445.8 L579.77 445.78 L579.97 445.75 L580.17 445.73 L580.38 445.7 L580.58 445.68 L580.78 445.66 L580.98 445.63 L581.18 445.61 L581.38 445.59 L581.58 445.57 L581.79 445.55 L581.99 445.54 L582.19 445.53 L582.39 445.52 L582.59 445.51 L582.79 445.5 L582.99 445.5 L583.2 445.51 L583.4 445.51 L583.6 445.52 L583.8 445.54 L584 445.56 L584.2 445.58 L584.4 445.6 L584.61 445.63 L584.81 445.66 L585.01 445.69 L585.21 445.73 L585.41 445.76 L585.61 445.8 L585.81 445.84 L586.02 445.88 L586.22 445.92 L586.42 445.95 L586.62 445.99 L586.82 446.03 L587.02 446.06 L587.22 446.1 L587.43 446.13 L587.63 446.16 L587.83 446.19 L588.03 446.22 L588.23 446.24 L588.43 446.26 L588.63 446.28 L588.84 446.29 L589.04 446.3 L589.24 446.31 L589.44 446.31 L589.64 446.32 L589.84 446.33 L590.04 446.33 L590.25 446.34 L590.45 446.35 L590.65 446.35 L590.85 446.36 L591.05 446.37 L591.25 446.37 L591.45 446.38 L591.66 446.38 L591.86 446.39 L592.06 446.39 L592.26 446.4 L592.46 446.4 L592.66 446.41 L592.86 446.41 L593.07 446.42 L593.27 446.42 L593.47 446.43 L593.67 446.43 L593.87 446.44 L594.07 446.44 L594.27 446.44 L594.48 446.45 L594.68 446.45 L594.88 446.45 L595.08 446.46 L595.28 446.46 L595.48 446.46 L595.68 446.47 L595.89 446.47 L596.09 446.47 L596.29 446.48 L596.49 446.48 L596.69 446.48 L596.89 446.48 L597.09 446.48 L597.3 446.49 L597.5 446.49 L597.7 446.49 L597.9 446.49 L598.1 446.49 L598.3 446.49 L598.5 446.5 L598.71 446.5 L598.91 446.5 L599.11 446.5 L599.31 446.5 L599.51 446.5 L599.71 446.5 L599.91 446.5 L600.12 446.5 L600.32 446.5 L600.52 446.5 L600.72 446.5 L600.92 446.5 L601.12 446.5 L601.32 446.5 L601.53 446.5 L601.73 446.5 L601.93 446.5 L602.13 446.5 L602.33 446.5 L602.53 446.5 L602.73 446.5 L602.93 446.5 L603.14 446.5 L603.34 446.5 L603.54 446.5 L603.74 446.5 L603.94 446.5 L604.14 446.5 L604.34 446.5 L604.55 446.5 L604.75 446.5 L604.95 446.5 L605.15 446.5 L605.35 446.5 L605.55 446.5 L605.75 446.5 L605.96 446.5 L606.16 446.5 L606.36 446.5 L606.56 446.5 L606.76 446.5 L606.96 446.5 L607.16 446.5 L607.37 446.5 L607.57 446.5 L607.77 446.5 L607.97 446.5 L608.17 446.5 L608.37 446.5 L608.57 446.5 L608.78 446.5 L608.98 446.5 L609.18 446.5 L609.38 446.5 L609.58 446.5 L609.78 446.5 L609.98 446.5 L610.19 446.5 L610.39 446.5 L610.59 446.5 L610.79 446.5 L610.99 446.5 L611.19 446.5 L611.39 446.5 L611.6 446.5 L611.8 446.5 L612 446.5 L612.2 446.5 L612.4 446.5 L612.6 446.5 L612.8 446.5 L613.01 446.5 L613.21 446.5 L613.41 446.5 L613.61 446.5 L613.81 446.5 L614.01 446.5 L614.21 446.5 L614.42 446.5 L614.62 446.5 L614.82 446.5 L615.02 446.5 L615.22 446.5 L615.42 446.5 L615.62 446.5 L615.83 446.5 L616.03 446.5 L616.23 446.5 L616.43 446.5 L616.63 446.5 L616.83 446.5 L617.03 446.5 L617.24 446.5 L617.44 446.5 L617.64 446.5 L617.84 446.5 L618.04 446.5 L618.24 446.5 L618.44 446.5 L618.65 446.5 L618.85 446.5 L619.05 446.5 L619.25 446.5 L619.45 446.5 L619.65 446.5 L619.85 446.5 L620.06 446.5 L620.26 446.5 L620.46 446.5 L620.66 446.5 L620.86 446.5 L621.06 446.5 L621.26 446.5 L621.47 446.5 L621.67 446.5 L621.87 446.5 L622.07 446.5 L622.27 446.5 L622.47 446.5 L622.67 446.5 L622.88 446.5 L623.08 446.5 L623.28 446.5 L623.48 446.5 L623.68 446.5 L623.88 446.5 L624.08 446.5 L624.29 446.5 L624.49 446.5 L624.69 446.5 L624.89 446.5 L625.09 446.5 L625.29 446.5 L625.49 446.5 L625.7 446.5 L625.9 446.5 L626.1 446.5 L626.3 446.5 L626.5 446.5 L626.7 446.5 L626.9 446.5 L627.11 446.5 L627.31 446.5 L627.51 446.5 L627.71 446.5 L627.91 446.5 L628.11 446.5 L628.31 446.5 L628.52 446.5 L628.72 446.5 L628.92 446.5 L629.12 446.5 L629.32 446.5 L629.52 446.5 L629.72 446.5 L629.92 446.5 L630.13 446.5 L630.33 446.5 L630.53 446.5 L630.73 446.5 L630.93 446.5 L631.13 446.5 L631.33 446.5 L631.54 446.5 L631.74 446.5 L631.94 446.5 L632.14 446.5 L632.34 446.5 L632.54 446.5 L632.74 446.5 L632.95 446.5 L633.15 446.5 L633.35 446.5 L633.55 446.5 L633.75 446.5 L633.95 446.5 L634.15 446.5 L634.36 446.5 L634.56 446.5 L634.76 446.5 L634.96 446.5 L635.16 446.5 L635.36 446.5 L635.56 446.5 L635.77 446.5 L635.97 446.5 L636.17 446.5 L636.37 446.5 L636.57 446.5 L636.77 446.5 L636.97 446.5 L637.18 446.5 L637.38 446.5 L637.58 446.5 L637.78 446.5 L637.98 446.5 L638.18 446.5 L638.38 446.5 L638.59 446.5 L638.79 446.5 L638.99 446.5 L639.19 446.5 L639.39 446.5 L639.59 446.5 L639.79 446.5 L640 446.5 L640.2 446.5 L640.4 446.5 L640.6 446.5 L640.8 446.5 L641 446.5 L641.2 446.5 L641.41 446.5 L641.61 446.5 L641.81 446.5 L642.01 446.5 L642.21 446.5 L642.41 446.5 L642.61 446.5 L642.82 446.5 L643.02 446.5 L643.22 446.5 L643.42 446.5 L643.62 446.5 L643.82 446.5 L644.02 446.5 L644.23 446.5 L644.43 446.5 L644.63 446.5 L644.83 446.5 L645.03 446.5 L645.23 446.5 L645.43 446.5 L645.64 446.5 L645.84 446.5 L646.04 446.5 L646.24 446.5 L646.44 446.5 L646.64 446.5 L646.84 446.5 L647.05 446.5 L647.25 446.5 L647.45 446.5 L647.65 446.5 L647.85 446.5 L648.05 446.5 L648.25 446.5 L648.46 446.5 L648.66 446.5 L648.86 446.5 L649.06 446.5 L649.26 446.5 L649.46 446.5 L649.66 446.5 L649.87 446.5 L650.07 446.5 L650.27 446.5 L650.47 446.5 L650.67 446.5 L650.87 446.49 L651.07 446.49 L651.28 446.49 L651.48 446.48 L651.68 446.48 L651.88 446.47 L652.08 446.47 L652.28 446.46 L652.48 446.46 L652.69 446.45 L652.89 446.44 L653.09 446.44 L653.29 446.43 L653.49 446.42 L653.69 446.41 L653.89 446.4 L654.1 446.4 L654.3 446.39 L654.5 446.38 L654.7 446.37 L654.9 446.36 L655.1 446.35 L655.3 446.34 L655.51 446.33 L655.71 446.32 L655.91 446.3 L656.11 446.29 L656.31 446.28 L656.51 446.26 L656.71 446.23 L656.91 446.21 L657.12 446.18 L657.32 446.15 L657.52 446.11 L657.72 446.08 L657.92 446.04 L658.12 446 L658.32 445.96 L658.53 445.93 L658.73 445.89 L658.93 445.85 L659.13 445.81 L659.33 445.77 L659.53 445.73 L659.73 445.7 L659.94 445.66 L660.14 445.63 L660.34 445.6 L660.54 445.58 L660.74 445.56 L660.94 445.54 L661.14 445.52 L661.35 445.51 L661.55 445.5 L661.75 445.5 L661.95 445.51 L662.15 445.51 L662.35 445.52 L662.55 445.53 L662.76 445.55 L662.96 445.57 L663.16 445.59 L663.36 445.62 L663.56 445.64 L663.76 445.67 L663.96 445.7 L664.17 445.73 L664.37 445.77 L664.57 445.81 L664.77 445.84 L664.97 445.88 L665.17 445.92 L665.37 445.96 L665.58 446 L665.78 446.04 L665.98 446.09 L666.18 446.13 L666.38 446.17 L666.58 446.21 L666.78 446.26 L666.99 446.3 L667.19 446.34 L667.39 446.39 L667.59 446.44 L667.79 446.49 L667.99 446.55 L668.19 446.61 L668.4 446.67 L668.6 446.73 L668.8 446.78 L669 446.82" fill="none" stroke="#1f77b4" stroke-width="2.55" stroke-linejoin="round" stroke-linecap="butt" />
<path d="M431.7 446.85 L431.74 446.84 L431.77 446.83 L431.81 446.81 L431.85 446.79 L431.88 446.75 L431.92 446.72 L431.95 446.67 L431.99 446.62 L432.03 446.56 L432.06 446.5 L432.1 446.43 L432.14 446.35 L432.17 446.27 L432.21 446.19 L432.25 446.1 L432.28 446 L432.32 445.9 L432.36 445.8 L432.39 445.69 L432.43 445.58 L432.46 445.46 L432.5 445.34 L432.54 445.18 L432.57 445 L432.61 444.77 L432.65 444.51 L432.68 444.21 L432.72 443.87 L432.76 443.51 L432.79 443.11 L432.83 442.69 L432.86 442.24 L432.9 441.76 L432.94 441.27 L432.97 440.75 L433.01 440.22 L433.05 439.67 L433.08 439.1 L433.12 438.49 L433.16 437.81 L433.19 437.04 L433.23 436.19 L433.26 435.26 L433.3 434.26 L433.34 433.2 L433.37 432.08 L433.41 430.9 L433.45 429.69 L433.48 428.44 L433.52 427.15 L433.56 425.85 L433.59 424.53 L433.63 423.21 L433.67 421.88 L433.7 420.56 L433.74 419.25 L433.77 417.96 L433.81 416.7 L433.85 415.48 L433.88 414.29 L433.92 413.12 L433.96 411.97 L433.99 410.82 L434.03 409.66 L434.07 408.5 L434.1 407.34 L434.14 406.18 L434.17 405.02 L434.21 403.85 L434.25 402.69 L434.28 401.53 L434.32 400.37 L434.36 399.22 L434.39 398.07 L434.43 396.92 L434.47 395.78 L434.5 394.65 L434.54 393.53 L434.58 392.41 L434.61 391.3 L434.65 390.21 L434.68 389.12 L434.72 388.04 L434.76 386.98 L434.79 385.92 L434.83 384.87 L434.87 383.83 L434.9 382.8 L434.94 381.77 L434.98 380.75 L435.01 379.73 L435.05 378.72 L435.08 377.71 L435.12 376.71 L435.16 375.71 L435.19 374.71 L435.23 373.71 L435.27 372.71 L435.3 371.72 L435.34 370.72 L435.38 369.73 L435.41 368.73 L435.45 367.73 L435.48 366.73 L435.52 365.73 L435.56 364.72 L435.59 363.7 L435.63 362.66 L435.67 361.58 L435.7 360.46 L435.74 359.32 L435.78 358.15 L435.81 356.98 L435.85 355.82 L435.89 354.67 L435.92 353.54 L435.96 352.45 L435.99 351.41 L436.03 350.42 L436.07 349.5 L436.1 348.67 L436.14 347.92 L436.18 347.26 L436.21 346.68 L436.25 346.15 L436.29 345.63 L436.32 345.11 L436.36 344.61 L436.39 344.13 L436.43 343.65 L436.47 343.2 L436.5 342.77 L436.54 342.36 L436.58 341.97 L436.61 341.62 L436.65 341.3 L436.69 341.01 L436.72 340.76 L436.76 340.55 L436.8 340.39 L436.83 340.27 L436.87 340.2 L436.9 340.17 L436.94 340.2 L436.98 340.26 L437.01 340.36 L437.05 340.5 L437.09 340.67 L437.12 340.87 L437.16 341.11 L437.2 341.37 L437.23 341.66 L437.27 341.97 L437.3 342.3 L437.34 342.66 L437.38 343.03 L437.41 343.42 L437.45 343.82 L437.49 344.24 L437.52 344.67 L437.56 345.11 L437.6 345.55 L437.63 346 L437.67 346.46 L437.71 346.93 L437.74 347.45 L437.78 348.02 L437.81 348.65 L437.85 349.34 L437.89 350.08 L437.92 350.87 L437.96 351.71 L438 352.59 L438.03 353.5 L438.07 354.44 L438.11 355.4 L438.14 356.39 L438.18 357.39 L438.21 358.4 L438.25 359.42 L438.29 360.44 L438.32 361.45 L438.36 362.46 L438.4 363.46 L438.43 364.47 L438.47 365.5 L438.51 366.55 L438.54 367.64 L438.58 368.75 L438.61 369.88 L438.65 371.02 L438.69 372.19 L438.72 373.36 L438.76 374.55 L438.8 375.74 L438.83 376.94 L438.87 378.14 L438.91 379.34 L438.94 380.53 L438.98 381.72 L439.02 382.9 L439.05 384.07 L439.09 385.22 L439.12 386.35 L439.16 387.46 L439.2 388.56 L439.23 389.65 L439.27 390.73 L439.31 391.82 L439.34 392.91 L439.38 394 L439.42 395.09 L439.45 396.18 L439.49 397.27 L439.52 398.35 L439.56 399.43 L439.6 400.49 L439.63 401.55 L439.67 402.6 L439.71 403.64 L439.74 404.67 L439.78 405.68 L439.82 406.67 L439.85 407.65 L439.89 408.61 L439.93 409.55 L439.96 410.47 L440 411.36 L440.03 412.23 L440.07 413.08 L440.11 413.9 L440.14 414.71 L440.18 415.52 L440.22 416.33 L440.25 417.14 L440.29 417.94 L440.33 418.74 L440.36 419.54 L440.4 420.33 L440.43 421.11 L440.47 421.89 L440.51 422.66 L440.54 423.42 L440.58 424.17 L440.62 424.9 L440.65 425.63 L440.69 426.34 L440.73 427.04 L440.76 427.73 L440.8 428.4 L440.83 429.05 L440.87 429.69 L440.91 430.3 L440.94 430.9 L440.98 431.48 L441.02 432.03 L441.05 432.57 L441.09 433.08 L441.13 433.57 L441.16 434.03 L441.2 434.46 L441.24 434.87 L441.27 435.26 L441.31 435.62 L441.34 435.97 L441.38 436.3 L441.42 436.63 L441.45 436.96 L441.49 437.28 L441.53 437.6 L441.56 437.91 L441.6 438.21 L441.64 438.51 L441.67 438.8 L441.71 439.09 L441.74 439.37 L441.78 439.64 L441.82 439.9 L441.85 440.16 L441.89 440.42 L441.93 440.66 L441.96 440.9 L442 441.13 L442.04 441.36 L442.07 441.58 L442.11 441.79 L442.15 441.99 L442.18 442.19 L442.22 442.37 L442.25 442.55 L442.29 442.72 L442.33 442.89 L442.36 443.04 L442.4 443.19 L442.44 443.33 L442.47 443.46 L442.51 443.58 L442.55 443.69 L442.58 443.8 L442.62 443.9 L442.65 443.99 L442.69 444.08 L442.73 444.18 L442.76 444.27 L442.8 444.36 L442.84 444.45 L442.87 444.54 L442.91 444.63 L442.95 444.71 L442.98 444.8 L443.02 444.88 L443.05 444.96 L443.09 445.04 L443.13 445.12 L443.16 445.2 L443.2 445.28 L443.24 445.35 L443.27 445.43 L443.31 445.5 L443.35 445.57 L443.38 445.63 L443.42 445.7 L443.46 445.76 L443.49 445.83 L443.53 445.88 L443.56 445.94 L443.6 446 L443.64 446.05 L443.67 446.1 L443.71 446.15 L443.75 446.19 L443.78 446.24 L443.82 446.28 L443.86 446.32 L443.89 446.35 L443.93 446.38 L443.96 446.41 L444 446.44 L444.04 446.46 L444.07 446.49 L444.11 446.5 L444.15 446.52 L444.18 446.53 L444.22 446.54 L444.26 446.55 L444.29 446.55 L444.33 446.55 L444.37 446.55 L444.4 446.54 L444.44 446.54 L444.47 446.53 L444.51 446.52 L444.55 446.51 L444.58 446.49 L444.62 446.48 L444.66 446.46 L444.69 446.45 L444.73 446.43 L444.77 446.41 L444.8 446.39 L444.84 446.37 L444.87 446.35 L444.91 446.32 L444.95 446.3 L444.98 446.28 L445.02 446.25 L445.06 446.23 L445.09 446.2 L445.13 446.18 L445.17 446.15 L445.2 446.12 L445.24 446.1 L445.27 446.07 L445.31 446.04 L445.35 446.01 L445.38 445.97 L445.42 445.92 L445.46 445.87 L445.49 445.82 L445.53 445.76 L445.57 445.7 L445.6 445.63 L445.64 445.57 L445.68 445.5 L445.71 445.43 L445.75 445.35 L445.78 445.28 L445.82 445.21 L445.86 445.13 L445.89 445.06 L445.93 444.99 L445.97 444.92 L446 444.86 L446.04 444.8 L446.08 444.74 L446.11 444.68 L446.15 444.63 L446.18 444.59 L446.22 444.55 L446.26 444.52 L446.29 444.49 L446.33 444.47 L446.37 444.46 L446.4 444.45 L446.44 444.45 L446.48 444.46 L446.51 444.47 L446.55 444.48 L446.59 444.5 L446.62 444.52 L446.66 444.54 L446.69 444.56 L446.73 444.59 L446.77 444.61 L446.8 444.64 L446.84 444.67 L446.88 444.71 L446.91 444.74 L446.95 444.77 L446.99 444.81 L447.02 444.84 L447.06 444.88 L447.09 444.92 L447.13 444.95 L447.17 444.99 L447.2 445.02 L447.24 445.05 L447.28 445.09 L447.31 445.12 L447.35 445.15 L447.39 445.17 L447.42 445.2 L447.46 445.22 L447.49 445.25 L447.53 445.27 L447.57 445.29 L447.6 445.31 L447.64 445.33 L447.68 445.35 L447.71 445.37 L447.75 445.4 L447.79 445.42 L447.82 445.44 L447.86 445.46 L447.9 445.48 L447.93 445.5 L447.97 445.52 L448 445.54 L448.04 445.56 L448.08 445.57 L448.11 445.59 L448.15 445.6 L448.19 445.61 L448.22 445.62 L448.26 445.63 L448.3 445.64 L448.33 445.65 L448.37 445.65 L448.4 445.65 L448.44 445.64 L448.48 445.64 L448.51 445.63 L448.55 445.61 L448.59 445.59 L448.62 445.57 L448.66 445.54 L448.7 445.51 L448.73 445.48 L448.77 445.44 L448.81 445.41 L448.84 445.37 L448.88 445.33 L448.91 445.28 L448.95 445.24 L448.99 445.19 L449.02 445.15 L449.06 445.1 L449.1 445.05 L449.13 445.01 L449.17 444.96 L449.21 444.92 L449.24 444.87 L449.28 444.83 L449.31 444.78 L449.35 444.74 L449.39 444.7 L449.42 444.66 L449.46 444.63 L449.5 444.6 L449.53 444.57 L449.57 444.54 L449.61 444.51 L449.64 444.49 L449.68 444.48 L449.72 444.46 L449.75 444.46 L449.79 444.45 L449.82 444.45 L449.86 444.46 L449.9 444.47 L449.93 444.48 L449.97 444.5 L450.01 444.52 L450.04 444.54 L450.08 444.57 L450.12 444.6 L450.15 444.63 L450.19 444.67 L450.22 444.7 L450.26 444.74 L450.3 444.78 L450.33 444.83 L450.37 444.87 L450.41 444.92 L450.44 444.96 L450.48 445.01 L450.52 445.06 L450.55 445.11 L450.59 445.15 L450.62 445.2 L450.66 445.25 L450.7 445.3 L450.73 445.35 L450.77 445.39 L450.81 445.44 L450.84 445.48 L450.88 445.52 L450.92 445.56 L450.95 445.6 L450.99 445.64 L451.03 445.67 L451.06 445.71 L451.1 445.75 L451.13 445.79 L451.17 445.83 L451.21 445.87 L451.24 445.91 L451.28 445.95 L451.32 445.99 L451.35 446.03 L451.39 446.07 L451.43 446.11 L451.46 446.15 L451.5 446.19 L451.53 446.23 L451.57 446.27 L451.61 446.31 L451.64 446.34 L451.68 446.38 L451.72 446.41 L451.75 446.44 L451.79 446.47 L451.83 446.5 L451.86 446.53 L451.9 446.56 L451.94 446.58 L451.97 446.6 L452.01 446.62 L452.04 446.63 L452.08 446.64 L452.12 446.65 L452.15 446.66 L452.19 446.67 L452.23 446.68 L452.26 446.69 L452.3 446.7 L452.34 446.71 L452.37 446.71 L452.41 446.72 L452.44 446.73 L452.48 446.74 L452.52 446.74 L452.55 446.75 L452.59 446.76 L452.63 446.77 L452.66 446.77 L452.7 446.78 L452.74 446.78 L452.77 446.79 L452.81 446.8 L452.84 446.8 L452.88 446.81 L452.92 446.81 L452.95 446.82 L452.99 446.82 L453.03 446.82 L453.06 446.83 L453.1 446.83 L453.14 446.83 L453.17 446.84 L453.21 446.84 L453.25 446.84 L453.28 446.84 L453.32 446.85 L453.35 446.85 L453.39 446.85 L453.43 446.85 L453.46 446.85 L453.5 446.85" fill="none" stroke="#ff7f0e" stroke-width="2.55" stroke-linejoin="round" stroke-linecap="butt" />
</g>
<rect x="415.9" y="306.8" width="266.15" height="140.1" fill="none" stroke="#000" stroke-width="1.4"/>
<line x1="112.7" y1="665.4" x2="112.7" y2="671.7" stroke="#000" stroke-width="1.4"/>
<text x="112.7" y="689.85" font-size="16.35" text-anchor="middle">0.00</text>
<line x1="169.6" y1="665.4" x2="169.6" y2="671.7" stroke="#000" stroke-width="1.4"/>
<text x="169.6" y="689.85" font-size="16.35" text-anchor="middle">0.25</text>
<line x1="226.5" y1="665.4" x2="226.5" y2="671.7" stroke="#000" stroke-width="1.4"/>
<text x="226.5" y="689.85" font-size="16.35" text-anchor="middle">0.50</text>
<line x1="283.4" y1="665.4" x2="283.4" y2="671.7" stroke="#000" stroke-width="1.4"/>
<text x="283.4" y="689.85" font-size="16.35" text-anchor="middle">0.75</text>
<line x1="340.3" y1="665.4" x2="340.3" y2="671.7" stroke="#000" stroke-width="1.4"/>
<text x="340.3" y="689.85" font-size="16.35" text-anchor="middle">1.00</text>
<line x1="75.1" y1="535.9" x2="81.4" y2="535.9" stroke="#000" stroke-width="1.4"/>
<text x="69.3" y="541.75" font-size="16.35" text-anchor="end">20</text>
<line x1="75.1" y1="600.6" x2="81.4" y2="600.6" stroke="#000" stroke-width="1.4"/>
<text x="69.3" y="606.45" font-size="16.35" text-anchor="end">10</text>
<line x1="75.1" y1="665.4" x2="81.4" y2="665.4" stroke="#000" stroke-width="1.4"/>
<text x="69.3" y="671.25" font-size="16.35" text-anchor="end">0</text>
<text x="214.43" y="711.8" font-size="16.5" text-anchor="middle">Nonsense Entropy</text>
<text x="214.53" y="542.05" font-size="14.75" text-anchor="middle">KS statistic = 0.34</text>
<text x="214.53" y="558.45" font-size="14.75" text-anchor="middle">(p&lt;=0.001)</text>
<g clip-path="url(#c20)">
<path d="M92 665.34 L92.31 665.3 L92.61 665.23 L92.92 665.16 L93.22 665.06 L93.53 664.96 L93.83 664.85 L94.14 664.73 L94.44 664.61 L94.75 664.47 L95.06 664.33 L95.36 664.18 L95.67 664.01 L95.97 663.83 L96.28 663.64 L96.58 663.42 L96.89 663.19 L97.19 662.93 L97.5 662.65 L97.8 662.33 L98.11 661.98 L98.42 661.59 L98.72 661.17 L99.03 660.71 L99.33 660.23 L99.64 659.71 L99.94 659.17 L100.25 658.6 L100.55 658.01 L100.86 657.4 L101.17 656.77 L101.47 656.1 L101.78 655.39 L102.08 654.64 L102.39 653.83 L102.69 652.97 L103 652.06 L103.3 651.12 L103.61 650.15 L103.91 649.17 L104.22 648.19 L104.53 647.22 L104.83 646.25 L105.14 645.3 L105.44 644.36 L105.75 643.41 L106.05 642.47 L106.36 641.52 L106.66 640.58 L106.97 639.65 L107.28 638.74 L107.58 637.85 L107.89 636.99 L108.19 636.16 L108.5 635.36 L108.8 634.58 L109.11 633.83 L109.41 633.09 L109.72 632.36 L110.02 631.66 L110.33 630.98 L110.64 630.34 L110.94 629.74 L111.25 629.2 L111.55 628.72 L111.86 628.3 L112.16 627.94 L112.47 627.62 L112.77 627.34 L113.08 627.09 L113.39 626.85 L113.69 626.63 L114 626.43 L114.3 626.24 L114.61 626.08 L114.91 625.94 L115.22 625.83 L115.52 625.74 L115.83 625.68 L116.14 625.65 L116.44 625.64 L116.75 625.65 L117.05 625.68 L117.36 625.72 L117.66 625.77 L117.97 625.83 L118.27 625.9 L118.58 625.98 L118.88 626.06 L119.19 626.15 L119.5 626.25 L119.8 626.35 L120.11 626.47 L120.41 626.59 L120.72 626.74 L121.02 626.9 L121.33 627.08 L121.63 627.27 L121.94 627.49 L122.25 627.71 L122.55 627.95 L122.86 628.21 L123.16 628.47 L123.47 628.74 L123.77 629.02 L124.08 629.31 L124.38 629.61 L124.69 629.93 L124.99 630.26 L125.3 630.62 L125.61 630.99 L125.91 631.39 L126.22 631.8 L126.52 632.23 L126.83 632.67 L127.13 633.12 L127.44 633.59 L127.74 634.05 L128.05 634.53 L128.36 635.01 L128.66 635.5 L128.97 636 L129.27 636.51 L129.58 637.04 L129.88 637.58 L130.19 638.13 L130.49 638.7 L130.8 639.27 L131.1 639.85 L131.41 640.42 L131.72 640.99 L132.02 641.55 L132.33 642.1 L132.63 642.63 L132.94 643.14 L133.24 643.64 L133.55 644.12 L133.85 644.6 L134.16 645.06 L134.47 645.52 L134.77 645.97 L135.08 646.41 L135.38 646.85 L135.69 647.27 L135.99 647.68 L136.3 648.09 L136.6 648.48 L136.91 648.86 L137.22 649.23 L137.52 649.59 L137.83 649.94 L138.13 650.29 L138.44 650.62 L138.74 650.96 L139.05 651.28 L139.35 651.6 L139.66 651.9 L139.96 652.2 L140.27 652.49 L140.58 652.76 L140.88 653.02 L141.19 653.26 L141.49 653.49 L141.8 653.71 L142.1 653.91 L142.41 654.1 L142.71 654.28 L143.02 654.45 L143.33 654.61 L143.63 654.77 L143.94 654.92 L144.24 655.06 L144.55 655.2 L144.85 655.33 L145.16 655.46 L145.46 655.58 L145.77 655.7 L146.07 655.81 L146.38 655.92 L146.69 656.02 L146.99 656.11 L147.3 656.2 L147.6 656.28 L147.91 656.36 L148.21 656.44 L148.52 656.52 L148.82 656.59 L149.13 656.67 L149.44 656.75 L149.74 656.83 L150.05 656.91 L150.35 657 L150.66 657.1 L150.96 657.19 L151.27 657.3 L151.57 657.4 L151.88 657.51 L152.18 657.63 L152.49 657.74 L152.8 657.86 L153.1 657.98 L153.41 658.1 L153.71 658.23 L154.02 658.35 L154.32 658.48 L154.63 658.6 L154.93 658.73 L155.24 658.86 L155.55 659 L155.85 659.13 L156.16 659.27 L156.46 659.41 L156.77 659.55 L157.07 659.69 L157.38 659.83 L157.68 659.98 L157.99 660.12 L158.29 660.26 L158.6 660.4 L158.91 660.54 L159.21 660.67 L159.52 660.81 L159.82 660.94 L160.13 661.07 L160.43 661.2 L160.74 661.34 L161.04 661.47 L161.35 661.6 L161.66 661.73 L161.96 661.85 L162.27 661.97 L162.57 662.09 L162.88 662.2 L163.18 662.3 L163.49 662.4 L163.79 662.49 L164.1 662.58 L164.41 662.67 L164.71 662.76 L165.02 662.84 L165.32 662.93 L165.63 663.01 L165.93 663.09 L166.24 663.17 L166.54 663.24 L166.85 663.31 L167.15 663.37 L167.46 663.43 L167.77 663.48 L168.07 663.52 L168.38 663.55 L168.68 663.57 L168.99 663.58 L169.29 663.59 L169.6 663.59 L169.9 663.59 L170.21 663.59 L170.52 663.59 L170.82 663.58 L171.13 663.58 L171.43 663.57 L171.74 663.57 L172.04 663.56 L172.35 663.56 L172.65 663.55 L172.96 663.54 L173.26 663.54 L173.57 663.53 L173.88 663.52 L174.18 663.52 L174.49 663.51 L174.79 663.51 L175.1 663.51 L175.4 663.5 L175.71 663.5 L176.01 663.5 L176.32 663.5 L176.63 663.5 L176.93 663.5 L177.24 663.5 L177.54 663.5 L177.85 663.5 L178.15 663.5 L178.46 663.5 L178.76 663.5 L179.07 663.5 L179.37 663.5 L179.68 663.5 L179.99 663.5 L180.29 663.5 L180.6 663.5 L180.9 663.5 L181.21 663.5 L181.51 663.5 L181.82 663.5 L182.12 663.5 L182.43 663.5 L182.74 663.5 L183.04 663.5 L183.35 663.5 L183.65 663.5 L183.96 663.5 L184.26 663.5 L184.57 663.5 L184.87 663.5 L185.18 663.5 L185.49 663.5 L185.79 663.5 L186.1 663.5 L186.4 663.5 L186.71 663.5 L187.01 663.5 L187.32 663.5 L187.62 663.5 L187.93 663.5 L188.23 663.5 L188.54 663.5 L188.85 663.5 L189.15 663.5 L189.46 663.5 L189.76 663.5 L190.07 663.5 L190.37 663.5 L190.68 663.5 L190.98 663.49 L191.29 663.49 L191.6 663.49 L191.9 663.48 L192.21 663.48 L192.51 663.47 L192.82 663.46 L193.12 663.45 L193.43 663.45 L193.73 663.44 L194.04 663.43 L194.34 663.42 L194.65 663.41 L194.96 663.4 L195.26 663.39 L195.57 663.38 L195.87 663.38 L196.18 663.37 L196.48 663.36 L196.79 663.35 L197.09 663.34 L197.4 663.34 L197.71 663.33 L198.01 663.32 L198.32 663.32 L198.62 663.31 L198.93 663.31 L199.23 663.31 L199.54 663.3 L199.84 663.3 L200.15 663.3 L200.45 663.3 L200.76 663.3 L201.07 663.31 L201.37 663.31 L201.68 663.31 L201.98 663.32 L202.29 663.32 L202.59 663.33 L202.9 663.34 L203.2 663.34 L203.51 663.35 L203.82 663.36 L204.12 663.37 L204.43 663.38 L204.73 663.39 L205.04 663.4 L205.34 663.41 L205.65 663.42 L205.95 663.43 L206.26 663.44 L206.57 663.46 L206.87 663.47 L207.18 663.48 L207.48 663.49 L207.79 663.51 L208.09 663.52 L208.4 663.53 L208.7 663.55 L209.01 663.56 L209.31 663.58 L209.62 663.59 L209.93 663.6 L210.23 663.62 L210.54 663.63 L210.84 663.65 L211.15 663.66 L211.45 663.68 L211.76 663.69 L212.06 663.7 L212.37 663.72 L212.68 663.73 L212.98 663.75 L213.29 663.77 L213.59 663.78 L213.9 663.8 L214.2 663.82 L214.51 663.84 L214.81 663.86 L215.12 663.88 L215.42 663.9 L215.73 663.92 L216.04 663.95 L216.34 663.97 L216.65 663.99 L216.95 664.01 L217.26 664.04 L217.56 664.06 L217.87 664.08 L218.17 664.11 L218.48 664.13 L218.79 664.16 L219.09 664.18 L219.4 664.2 L219.7 664.23 L220.01 664.25 L220.31 664.28 L220.62 664.3 L220.92 664.32 L221.23 664.35 L221.53 664.37 L221.84 664.39 L222.15 664.42 L222.45 664.44 L222.76 664.46 L223.06 664.48 L223.37 664.5 L223.67 664.52 L223.98 664.54 L224.28 664.56 L224.59 664.58 L224.9 664.59 L225.2 664.61 L225.51 664.63 L225.81 664.65 L226.12 664.66 L226.42 664.68 L226.73 664.7 L227.03 664.72 L227.34 664.74 L227.65 664.76 L227.95 664.77 L228.26 664.79 L228.56 664.81 L228.87 664.83 L229.17 664.85 L229.48 664.87 L229.78 664.88 L230.09 664.9 L230.39 664.92 L230.7 664.93 L231.01 664.95 L231.31 664.97 L231.62 664.98 L231.92 665 L232.23 665.01 L232.53 665.02 L232.84 665.03 L233.14 665.04 L233.45 665.05 L233.76 665.06 L234.06 665.07 L234.37 665.08 L234.67 665.09 L234.98 665.09 L235.28 665.09 L235.59 665.1 L235.89 665.1 L236.2 665.1 L236.5 665.1 L236.81 665.1 L237.12 665.1 L237.42 665.09 L237.73 665.09 L238.03 665.09 L238.34 665.08 L238.64 665.08 L238.95 665.08 L239.25 665.07 L239.56 665.07 L239.87 665.06 L240.17 665.06 L240.48 665.05 L240.78 665.04 L241.09 665.04 L241.39 665.03 L241.7 665.02 L242 665.02 L242.31 665.01 L242.61 665 L242.92 665 L243.23 664.99 L243.53 664.98 L243.84 664.97 L244.14 664.96 L244.45 664.95 L244.75 664.95 L245.06 664.94 L245.36 664.93 L245.67 664.92 L245.98 664.91 L246.28 664.9 L246.59 664.89 L246.89 664.88 L247.2 664.88 L247.5 664.87 L247.81 664.86 L248.11 664.85 L248.42 664.84 L248.73 664.83 L249.03 664.83 L249.34 664.82 L249.64 664.81 L249.95 664.8 L250.25 664.79 L250.56 664.79 L250.86 664.78 L251.17 664.77 L251.47 664.76 L251.78 664.75 L252.09 664.74 L252.39 664.73 L252.7 664.72 L253 664.72 L253.31 664.71 L253.61 664.7 L253.92 664.69 L254.22 664.68 L254.53 664.67 L254.84 664.66 L255.14 664.65 L255.45 664.64 L255.75 664.62 L256.06 664.61 L256.36 664.6 L256.67 664.59 L256.97 664.58 L257.28 664.57 L257.58 664.56 L257.89 664.55 L258.2 664.54 L258.5 664.53 L258.81 664.52 L259.11 664.51 L259.42 664.5 L259.72 664.49 L260.03 664.47 L260.33 664.46 L260.64 664.45 L260.95 664.44 L261.25 664.43 L261.56 664.42 L261.86 664.41 L262.17 664.4 L262.47 664.39 L262.78 664.38 L263.08 664.37 L263.39 664.36 L263.69 664.35 L264 664.34 L264.31 664.33 L264.61 664.32 L264.92 664.32 L265.22 664.31 L265.53 664.3 L265.83 664.29 L266.14 664.28 L266.44 664.27 L266.75 664.27 L267.06 664.26 L267.36 664.25 L267.67 664.24 L267.97 664.24 L268.28 664.23 L268.58 664.23 L268.89 664.22 L269.19 664.21 L269.5 664.21 L269.81 664.2 L270.11 664.2 L270.42 664.19 L270.72 664.19 L271.03 664.18 L271.33 664.18 L271.64 664.18 L271.94 664.17 L272.25 664.17 L272.55 664.16 L272.86 664.16 L273.17 664.15 L273.47 664.15 L273.78 664.14 L274.08 664.14 L274.39 664.14 L274.69 664.13 L275 664.13 L275.3 664.12 L275.61 664.12 L275.92 664.11 L276.22 664.11 L276.53 664.11 L276.83 664.1 L277.14 664.1 L277.44 664.09 L277.75 664.09 L278.05 664.09 L278.36 664.08 L278.66 664.08 L278.97 664.07 L279.28 664.07 L279.58 664.07 L279.89 664.06 L280.19 664.06 L280.5 664.06 L280.8 664.05 L281.11 664.05 L281.41 664.05 L281.72 664.04 L282.03 664.04 L282.33 664.04 L282.64 664.04 L282.94 664.03 L283.25 664.03 L283.55 664.03 L283.86 664.03 L284.16 664.02 L284.47 664.02 L284.77 664.02 L285.08 664.02 L285.39 664.01 L285.69 664.01 L286 664.01 L286.3 664.01 L286.61 664.01 L286.91 664.01 L287.22 664.01 L287.52 664 L287.83 664 L288.14 664 L288.44 664 L288.75 664 L289.05 664 L289.36 664 L289.66 664 L289.97 664 L290.27 664 L290.58 664 L290.88 664 L291.19 664 L291.5 664 L291.8 664 L292.11 664 L292.41 664 L292.72 664 L293.02 664 L293.33 664 L293.63 664 L293.94 664 L294.25 664 L294.55 664 L294.86 664 L295.16 664 L295.47 664 L295.77 664 L296.08 664 L296.38 664 L296.69 664 L297 664 L297.3 664 L297.61 664 L297.91 664 L298.22 664 L298.52 664 L298.83 664 L299.13 664 L299.44 664 L299.74 664 L300.05 664 L300.36 664 L300.66 664 L300.97 664 L301.27 664 L301.58 664 L301.88 664 L302.19 664 L302.49 664 L302.8 664 L303.11 664 L303.41 664 L303.72 664 L304.02 664 L304.33 664 L304.63 664 L304.94 664 L305.24 664 L305.55 664 L305.85 664 L306.16 664 L306.47 664 L306.77 664 L307.08 664 L307.38 664 L307.69 664 L307.99 664 L308.3 664 L308.6 664 L308.91 664 L309.22 664 L309.52 664 L309.83 664 L310.13 664 L310.44 664 L310.74 664 L311.05 664 L311.35 664.01 L311.66 664.01 L311.96 664.01 L312.27 664.02 L312.58 664.02 L312.88 664.03 L313.19 664.03 L313.49 664.04 L313.8 664.05 L314.1 664.05 L314.41 664.06 L314.71 664.07 L315.02 664.08 L315.33 664.09 L315.63 664.1 L315.94 664.11 L316.24 664.12 L316.55 664.13 L316.85 664.14 L317.16 664.15 L317.46 664.16 L317.77 664.17 L318.08 664.18 L318.38 664.19 L318.69 664.21 L318.99 664.22 L319.3 664.23 L319.6 664.25 L319.91 664.26 L320.21 664.27 L320.52 664.29 L320.82 664.3 L321.13 664.31 L321.44 664.33 L321.74 664.34 L322.05 664.36 L322.35 664.37 L322.66 664.39 L322.96 664.4 L323.27 664.42 L323.57 664.43 L323.88 664.45 L324.19 664.46 L324.49 664.48 L324.8 664.49 L325.1 664.51 L325.41 664.52 L325.71 664.54 L326.02 664.55 L326.32 664.57 L326.63 664.59 L326.93 664.61 L327.24 664.63 L327.55 664.65 L327.85 664.67 L328.16 664.69 L328.46 664.71 L328.77 664.74 L329.07 664.76 L329.38 664.78 L329.68 664.81 L329.99 664.83 L330.3 664.86 L330.6 664.88 L330.91 664.91 L331.21 664.93 L331.52 664.96 L331.82 664.99 L332.13 665.02 L332.43 665.04 L332.74 665.07 L333.04 665.1 L333.35 665.13 L333.66 665.16 L333.96 665.19 L334.27 665.22 L334.57 665.25 L334.88 665.28 L335.18 665.31 L335.49 665.33 L335.79 665.36 L336.1 665.38" fill="none" stroke="#1f77b4" stroke-width="2.55" stroke-linejoin="round" stroke-linecap="butt" />
<path d="M100.8 665.37 L100.9 665.33 L100.99 665.28 L101.09 665.22 L101.18 665.14 L101.28 665.05 L101.37 664.96 L101.47 664.86 L101.56 664.75 L101.66 664.64 L101.75 664.52 L101.85 664.4 L101.94 664.27 L102.04 664.14 L102.13 664 L102.23 663.85 L102.32 663.69 L102.42 663.53 L102.51 663.35 L102.61 663.16 L102.7 662.95 L102.8 662.74 L102.89 662.51 L102.99 662.27 L103.08 662.02 L103.18 661.76 L103.27 661.47 L103.37 661.17 L103.46 660.84 L103.56 660.48 L103.65 660.07 L103.75 659.63 L103.84 659.15 L103.94 658.64 L104.03 658.09 L104.13 657.51 L104.22 656.91 L104.32 656.28 L104.42 655.63 L104.51 654.96 L104.61 654.28 L104.7 653.59 L104.8 652.88 L104.89 652.17 L104.99 651.45 L105.08 650.73 L105.18 649.98 L105.27 649.22 L105.37 648.43 L105.46 647.61 L105.56 646.76 L105.65 645.89 L105.75 645 L105.84 644.08 L105.94 643.15 L106.03 642.2 L106.13 641.23 L106.22 640.25 L106.32 639.26 L106.41 638.27 L106.51 637.26 L106.6 636.25 L106.7 635.24 L106.79 634.23 L106.89 633.22 L106.98 632.2 L107.08 631.19 L107.17 630.16 L107.27 629.13 L107.36 628.09 L107.46 627.04 L107.55 625.98 L107.65 624.91 L107.74 623.83 L107.84 622.73 L107.94 621.62 L108.03 620.5 L108.13 619.36 L108.22 618.2 L108.32 617.02 L108.41 615.83 L108.51 614.61 L108.6 613.38 L108.7 612.11 L108.79 610.81 L108.89 609.47 L108.98 608.08 L109.08 606.66 L109.17 605.21 L109.27 603.73 L109.36 602.22 L109.46 600.7 L109.55 599.16 L109.65 597.62 L109.74 596.08 L109.84 594.54 L109.93 593.02 L110.03 591.5 L110.12 590.01 L110.22 588.55 L110.31 587.1 L110.41 585.68 L110.5 584.26 L110.6 582.84 L110.69 581.42 L110.79 579.99 L110.88 578.57 L110.98 577.16 L111.07 575.76 L111.17 574.4 L111.26 573.07 L111.36 571.78 L111.46 570.54 L111.55 569.36 L111.65 568.24 L111.74 567.18 L111.84 566.18 L111.93 565.22 L112.03 564.31 L112.12 563.45 L112.22 562.65 L112.31 561.93 L112.41 561.31 L112.5 560.77 L112.6 560.29 L112.69 559.87 L112.79 559.49 L112.88 559.16 L112.98 558.9 L113.07 558.72 L113.17 558.63 L113.26 558.65 L113.36 558.77 L113.45 558.98 L113.55 559.26 L113.64 559.61 L113.74 560 L113.83 560.44 L113.93 560.94 L114.02 561.51 L114.12 562.18 L114.21 562.93 L114.31 563.75 L114.4 564.63 L114.5 565.54 L114.59 566.47 L114.69 567.42 L114.78 568.41 L114.88 569.42 L114.98 570.48 L115.07 571.57 L115.17 572.69 L115.26 573.83 L115.36 575 L115.45 576.19 L115.55 577.39 L115.64 578.61 L115.74 579.83 L115.83 581.06 L115.93 582.28 L116.02 583.51 L116.12 584.74 L116.21 585.97 L116.31 587.22 L116.4 588.49 L116.5 589.79 L116.59 591.12 L116.69 592.46 L116.78 593.81 L116.88 595.18 L116.97 596.54 L117.07 597.89 L117.16 599.24 L117.26 600.56 L117.35 601.86 L117.45 603.13 L117.54 604.36 L117.64 605.55 L117.73 606.69 L117.83 607.78 L117.92 608.83 L118.02 609.85 L118.11 610.85 L118.21 611.84 L118.31 612.81 L118.4 613.77 L118.5 614.72 L118.59 615.64 L118.69 616.55 L118.78 617.43 L118.88 618.28 L118.97 619.11 L119.07 619.91 L119.16 620.67 L119.26 621.4 L119.35 622.09 L119.45 622.74 L119.54 623.34 L119.64 623.91 L119.73 624.46 L119.83 624.98 L119.92 625.49 L120.02 626 L120.11 626.5 L120.21 626.99 L120.3 627.46 L120.4 627.92 L120.49 628.35 L120.59 628.75 L120.68 629.12 L120.78 629.45 L120.87 629.74 L120.97 629.99 L121.06 630.19 L121.16 630.33 L121.25 630.43 L121.35 630.49 L121.44 630.53 L121.54 630.55 L121.63 630.57 L121.73 630.59 L121.83 630.6 L121.92 630.61 L122.02 630.63 L122.11 630.63 L122.21 630.64 L122.3 630.65 L122.4 630.66 L122.49 630.67 L122.59 630.67 L122.68 630.68 L122.78 630.69 L122.87 630.7 L122.97 630.71 L123.06 630.72 L123.16 630.74 L123.25 630.75 L123.35 630.77 L123.44 630.79 L123.54 630.82 L123.63 630.85 L123.73 630.89 L123.82 630.94 L123.92 631 L124.01 631.07 L124.11 631.14 L124.2 631.22 L124.3 631.31 L124.39 631.41 L124.49 631.51 L124.58 631.62 L124.68 631.73 L124.77 631.85 L124.87 631.98 L124.96 632.11 L125.06 632.25 L125.15 632.39 L125.25 632.54 L125.35 632.69 L125.44 632.84 L125.54 633 L125.63 633.18 L125.73 633.37 L125.82 633.59 L125.92 633.83 L126.01 634.1 L126.11 634.39 L126.2 634.71 L126.3 635.05 L126.39 635.4 L126.49 635.77 L126.58 636.16 L126.68 636.55 L126.77 636.96 L126.87 637.38 L126.96 637.8 L127.06 638.23 L127.15 638.66 L127.25 639.09 L127.34 639.51 L127.44 639.94 L127.53 640.36 L127.63 640.77 L127.72 641.17 L127.82 641.56 L127.91 641.95 L128.01 642.34 L128.1 642.73 L128.2 643.12 L128.29 643.52 L128.39 643.92 L128.48 644.33 L128.58 644.74 L128.67 645.15 L128.77 645.56 L128.87 645.98 L128.96 646.39 L129.06 646.81 L129.15 647.22 L129.25 647.63 L129.34 648.03 L129.44 648.44 L129.53 648.83 L129.63 649.22 L129.72 649.61 L129.82 649.98 L129.91 650.35 L130.01 650.71 L130.1 651.06 L130.2 651.39 L130.29 651.72 L130.39 652.03 L130.48 652.34 L130.58 652.63 L130.67 652.93 L130.77 653.21 L130.86 653.5 L130.96 653.79 L131.05 654.07 L131.15 654.35 L131.24 654.63 L131.34 654.91 L131.43 655.18 L131.53 655.45 L131.62 655.71 L131.72 655.97 L131.81 656.22 L131.91 656.47 L132 656.71 L132.1 656.94 L132.19 657.17 L132.29 657.38 L132.39 657.59 L132.48 657.79 L132.58 657.99 L132.67 658.17 L132.77 658.34 L132.86 658.5 L132.96 658.65 L133.05 658.79 L133.15 658.92 L133.24 659.05 L133.34 659.16 L133.43 659.28 L133.53 659.39 L133.62 659.5 L133.72 659.62 L133.81 659.73 L133.91 659.83 L134 659.94 L134.1 660.04 L134.19 660.14 L134.29 660.24 L134.38 660.33 L134.48 660.42 L134.57 660.5 L134.67 660.58 L134.76 660.66 L134.86 660.73 L134.95 660.8 L135.05 660.86 L135.14 660.91 L135.24 660.96 L135.33 661 L135.43 661.03 L135.52 661.06 L135.62 661.08 L135.71 661.09 L135.81 661.09 L135.91 661.1 L136 661.09 L136.1 661.09 L136.19 661.08 L136.29 661.08 L136.38 661.07 L136.48 661.06 L136.57 661.04 L136.67 661.03 L136.76 661.01 L136.86 661 L136.95 660.98 L137.05 660.96 L137.14 660.94 L137.24 660.92 L137.33 660.9 L137.43 660.88 L137.52 660.85 L137.62 660.83 L137.71 660.8 L137.81 660.78 L137.9 660.75 L138 660.72 L138.09 660.69 L138.19 660.66 L138.28 660.63 L138.38 660.6 L138.47 660.57 L138.57 660.54 L138.66 660.51 L138.76 660.48 L138.85 660.45 L138.95 660.42 L139.04 660.39 L139.14 660.35 L139.23 660.32 L139.33 660.29 L139.43 660.25 L139.52 660.21 L139.62 660.16 L139.71 660.11 L139.81 660.05 L139.9 659.99 L140 659.93 L140.09 659.86 L140.19 659.79 L140.28 659.72 L140.38 659.64 L140.47 659.56 L140.57 659.48 L140.66 659.4 L140.76 659.31 L140.85 659.22 L140.95 659.14 L141.04 659.05 L141.14 658.96 L141.23 658.87 L141.33 658.78 L141.42 658.69 L141.52 658.6 L141.61 658.51 L141.71 658.42 L141.8 658.34 L141.9 658.25 L141.99 658.17 L142.09 658.09 L142.18 658.01 L142.28 657.94 L142.37 657.86 L142.47 657.79 L142.56 657.73 L142.66 657.67 L142.75 657.61 L142.85 657.55 L142.95 657.5 L143.04 657.46 L143.14 657.42 L143.23 657.39 L143.33 657.36 L143.42 657.34 L143.52 657.32 L143.61 657.31 L143.71 657.31 L143.8 657.31 L143.9 657.32 L143.99 657.33 L144.09 657.35 L144.18 657.38 L144.28 657.41 L144.37 657.44 L144.47 657.48 L144.56 657.52 L144.66 657.57 L144.75 657.62 L144.85 657.67 L144.94 657.73 L145.04 657.79 L145.13 657.85 L145.23 657.91 L145.32 657.98 L145.42 658.05 L145.51 658.12 L145.61 658.19 L145.7 658.26 L145.8 658.34 L145.89 658.41 L145.99 658.49 L146.08 658.56 L146.18 658.64 L146.27 658.71 L146.37 658.79 L146.47 658.86 L146.56 658.94 L146.66 659.01 L146.75 659.08 L146.85 659.15 L146.94 659.22 L147.04 659.29 L147.13 659.35 L147.23 659.42 L147.32 659.48 L147.42 659.55 L147.51 659.61 L147.61 659.68 L147.7 659.75 L147.8 659.81 L147.89 659.88 L147.99 659.96 L148.08 660.03 L148.18 660.1 L148.27 660.17 L148.37 660.25 L148.46 660.32 L148.56 660.4 L148.65 660.47 L148.75 660.55 L148.84 660.62 L148.94 660.7 L149.03 660.78 L149.13 660.85 L149.22 660.93 L149.32 661 L149.41 661.08 L149.51 661.15 L149.6 661.23 L149.7 661.3 L149.79 661.37 L149.89 661.44 L149.99 661.51 L150.08 661.58 L150.18 661.65 L150.27 661.72 L150.37 661.79 L150.46 661.85 L150.56 661.92 L150.65 661.98 L150.75 662.04 L150.84 662.1 L150.94 662.15 L151.03 662.21 L151.13 662.26 L151.22 662.32 L151.32 662.36 L151.41 662.41 L151.51 662.46 L151.6 662.5 L151.7 662.54 L151.79 662.58 L151.89 662.62 L151.98 662.66 L152.08 662.7 L152.17 662.74 L152.27 662.78 L152.36 662.82 L152.46 662.86 L152.55 662.9 L152.65 662.94 L152.74 662.97 L152.84 663.01 L152.93 663.05 L153.03 663.09 L153.12 663.12 L153.22 663.16 L153.32 663.19 L153.41 663.23 L153.51 663.27 L153.6 663.3 L153.7 663.34 L153.79 663.37 L153.89 663.4 L153.98 663.44 L154.08 663.47 L154.17 663.5 L154.27 663.53 L154.36 663.57 L154.46 663.6 L154.55 663.63 L154.65 663.66 L154.74 663.69 L154.84 663.72 L154.93 663.75 L155.03 663.78 L155.12 663.81 L155.22 663.84 L155.31 663.87 L155.41 663.9 L155.5 663.92 L155.6 663.95 L155.69 663.98 L155.79 664 L155.88 664.03 L155.98 664.06 L156.07 664.08 L156.17 664.11 L156.26 664.13 L156.36 664.15 L156.45 664.18 L156.55 664.2 L156.64 664.22 L156.74 664.25 L156.84 664.27 L156.93 664.29 L157.03 664.31 L157.12 664.33 L157.22 664.35 L157.31 664.37 L157.41 664.39 L157.5 664.41 L157.6 664.43 L157.69 664.45 L157.79 664.47 L157.88 664.48 L157.98 664.5 L158.07 664.52 L158.17 664.53 L158.26 664.55 L158.36 664.56 L158.45 664.58 L158.55 664.59 L158.64 664.61 L158.74 664.62 L158.83 664.63 L158.93 664.65 L159.02 664.66 L159.12 664.67 L159.21 664.69 L159.31 664.7 L159.4 664.71 L159.5 664.73 L159.59 664.74 L159.69 664.75 L159.78 664.77 L159.88 664.78 L159.97 664.79 L160.07 664.81 L160.16 664.82 L160.26 664.83 L160.36 664.84 L160.45 664.86 L160.55 664.87 L160.64 664.88 L160.74 664.9 L160.83 664.91 L160.93 664.92 L161.02 664.93 L161.12 664.94 L161.21 664.96 L161.31 664.97 L161.4 664.98 L161.5 664.99 L161.59 665 L161.69 665.01 L161.78 665.03 L161.88 665.04 L161.97 665.05 L162.07 665.06 L162.16 665.07 L162.26 665.08 L162.35 665.09 L162.45 665.1 L162.54 665.11 L162.64 665.12 L162.73 665.13 L162.83 665.14 L162.92 665.15 L163.02 665.16 L163.11 665.17 L163.21 665.18 L163.3 665.19 L163.4 665.2 L163.49 665.21 L163.59 665.22 L163.68 665.23 L163.78 665.23 L163.88 665.24 L163.97 665.25 L164.07 665.26 L164.16 665.27 L164.26 665.27 L164.35 665.28 L164.45 665.29 L164.54 665.3 L164.64 665.3 L164.73 665.31 L164.83 665.31 L164.92 665.32 L165.02 665.33 L165.11 665.33 L165.21 665.34 L165.3 665.34 L165.4 665.35 L165.49 665.35 L165.59 665.36 L165.68 665.36 L165.78 665.37 L165.87 665.37 L165.97 665.37 L166.06 665.38 L166.16 665.38 L166.25 665.38 L166.35 665.39 L166.44 665.39 L166.54 665.39 L166.63 665.39 L166.73 665.39 L166.82 665.4 L166.92 665.4 L167.01 665.4 L167.11 665.4 L167.2 665.4 L167.3 665.4" fill="none" stroke="#ff7f0e" stroke-width="2.55" stroke-linejoin="round" stroke-linecap="butt" />
</g>
<rect x="81.4" y="525.45" width="266.05" height="139.95" fill="none" stroke="#000" stroke-width="1.4"/>
<line x1="455.6" y1="665.4" x2="455.6" y2="671.7" stroke="#000" stroke-width="1.4"/>
<text x="455.6" y="689.85" font-size="16.35" text-anchor="middle">0.0</text>
<line x1="550.4" y1="665.4" x2="550.4" y2="671.7" stroke="#000" stroke-width="1.4"/>
<text x="550.4" y="689.85" font-size="16.35" text-anchor="middle">0.5</text>
<line x1="645.2" y1="665.4" x2="645.2" y2="671.7" stroke="#000" stroke-width="1.4"/>
<text x="645.2" y="689.85" font-size="16.35" text-anchor="middle">1.0</text>
<line x1="409.6" y1="546.3" x2="415.9" y2="546.3" stroke="#000" stroke-width="1.4"/>
<text x="403.8" y="552.15" font-size="16.35" text-anchor="end">4</text>
<line x1="409.6" y1="605.8" x2="415.9" y2="605.8" stroke="#000" stroke-width="1.4"/>
<text x="403.8" y="611.65" font-size="16.35" text-anchor="end">2</text>
<line x1="409.6" y1="665.4" x2="415.9" y2="665.4" stroke="#000" stroke-width="1.4"/>
<text x="403.8" y="671.25" font-size="16.35" text-anchor="end">0</text>
<text x="548.97" y="711.8" font-size="16.5" text-anchor="middle">Missense/tot</text>
<text x="549.07" y="542.05" font-size="14.75" text-anchor="middle">KS statistic = 0.39</text>
<text x="549.07" y="558.45" font-size="14.75" text-anchor="middle">(p&lt;=0.001)</text>
<g clip-path="url(#c21)">
<path d="M427.3 665.4 L427.59 665.4 L427.87 665.4 L428.16 665.4 L428.44 665.4 L428.73 665.4 L429.01 665.39 L429.3 665.39 L429.58 665.39 L429.87 665.39 L430.15 665.39 L430.44 665.38 L430.73 665.38 L431.01 665.38 L431.3 665.37 L431.58 665.37 L431.87 665.37 L432.15 665.36 L432.44 665.36 L432.72 665.35 L433.01 665.35 L433.3 665.35 L433.58 665.34 L433.87 665.34 L434.15 665.33 L434.44 665.32 L434.72 665.32 L435.01 665.31 L435.29 665.31 L435.58 665.3 L435.86 665.3 L436.15 665.29 L436.44 665.28 L436.72 665.28 L437.01 665.27 L437.29 665.26 L437.58 665.26 L437.86 665.25 L438.15 665.24 L438.43 665.24 L438.72 665.23 L439 665.22 L439.29 665.22 L439.58 665.21 L439.86 665.2 L440.15 665.19 L440.43 665.19 L440.72 665.18 L441 665.17 L441.29 665.16 L441.57 665.15 L441.86 665.14 L442.15 665.13 L442.43 665.12 L442.72 665.1 L443 665.09 L443.29 665.08 L443.57 665.06 L443.86 665.05 L444.14 665.03 L444.43 665.02 L444.71 665 L445 664.99 L445.29 664.97 L445.57 664.95 L445.86 664.94 L446.14 664.92 L446.43 664.9 L446.71 664.88 L447 664.87 L447.28 664.85 L447.57 664.83 L447.85 664.81 L448.14 664.78 L448.43 664.76 L448.71 664.73 L449 664.7 L449.28 664.67 L449.57 664.64 L449.85 664.6 L450.14 664.57 L450.42 664.53 L450.71 664.49 L450.99 664.45 L451.28 664.42 L451.57 664.38 L451.85 664.34 L452.14 664.31 L452.42 664.27 L452.71 664.24 L452.99 664.21 L453.28 664.19 L453.56 664.17 L453.85 664.15 L454.14 664.13 L454.42 664.12 L454.71 664.12 L454.99 664.12 L455.28 664.12 L455.56 664.13 L455.85 664.15 L456.13 664.17 L456.42 664.19 L456.7 664.22 L456.99 664.25 L457.28 664.28 L457.56 664.31 L457.85 664.35 L458.13 664.39 L458.42 664.43 L458.7 664.47 L458.99 664.5 L459.27 664.54 L459.56 664.58 L459.84 664.62 L460.13 664.65 L460.42 664.68 L460.7 664.71 L460.99 664.73 L461.27 664.75 L461.56 664.77 L461.84 664.79 L462.13 664.8 L462.41 664.81 L462.7 664.81 L462.99 664.82 L463.27 664.83 L463.56 664.83 L463.84 664.84 L464.13 664.84 L464.41 664.85 L464.7 664.85 L464.98 664.86 L465.27 664.86 L465.55 664.87 L465.84 664.87 L466.13 664.87 L466.41 664.88 L466.7 664.88 L466.98 664.88 L467.27 664.89 L467.55 664.89 L467.84 664.89 L468.12 664.89 L468.41 664.89 L468.69 664.9 L468.98 664.9 L469.27 664.9 L469.55 664.9 L469.84 664.9 L470.12 664.89 L470.41 664.89 L470.69 664.88 L470.98 664.87 L471.26 664.86 L471.55 664.85 L471.84 664.83 L472.12 664.82 L472.41 664.8 L472.69 664.78 L472.98 664.75 L473.26 664.73 L473.55 664.7 L473.83 664.67 L474.12 664.64 L474.4 664.61 L474.69 664.58 L474.98 664.55 L475.26 664.52 L475.55 664.49 L475.83 664.45 L476.12 664.42 L476.4 664.38 L476.69 664.34 L476.97 664.29 L477.26 664.25 L477.54 664.19 L477.83 664.14 L478.12 664.08 L478.4 664.02 L478.69 663.95 L478.97 663.88 L479.26 663.81 L479.54 663.74 L479.83 663.66 L480.11 663.58 L480.4 663.51 L480.69 663.43 L480.97 663.35 L481.26 663.27 L481.54 663.18 L481.83 663.1 L482.11 663.02 L482.4 662.94 L482.68 662.87 L482.97 662.79 L483.25 662.71 L483.54 662.64 L483.83 662.57 L484.11 662.5 L484.4 662.43 L484.68 662.36 L484.97 662.29 L485.25 662.23 L485.54 662.16 L485.82 662.09 L486.11 662.02 L486.39 661.95 L486.68 661.89 L486.97 661.82 L487.25 661.75 L487.54 661.68 L487.82 661.61 L488.11 661.55 L488.39 661.48 L488.68 661.42 L488.96 661.35 L489.25 661.29 L489.54 661.23 L489.82 661.17 L490.11 661.12 L490.39 661.06 L490.68 661.01 L490.96 660.96 L491.25 660.91 L491.53 660.86 L491.82 660.82 L492.1 660.78 L492.39 660.74 L492.68 660.71 L492.96 660.68 L493.25 660.64 L493.53 660.61 L493.82 660.59 L494.1 660.56 L494.39 660.53 L494.67 660.5 L494.96 660.48 L495.24 660.45 L495.53 660.43 L495.82 660.4 L496.1 660.38 L496.39 660.36 L496.67 660.33 L496.96 660.31 L497.24 660.29 L497.53 660.27 L497.81 660.25 L498.1 660.24 L498.38 660.22 L498.67 660.2 L498.96 660.19 L499.24 660.17 L499.53 660.16 L499.81 660.14 L500.1 660.13 L500.38 660.12 L500.67 660.11 L500.95 660.1 L501.24 660.09 L501.53 660.08 L501.81 660.07 L502.1 660.06 L502.38 660.05 L502.67 660.05 L502.95 660.04 L503.24 660.03 L503.52 660.03 L503.81 660.02 L504.09 660.02 L504.38 660.01 L504.67 660.01 L504.95 660 L505.24 660 L505.52 659.99 L505.81 659.99 L506.09 659.98 L506.38 659.98 L506.66 659.97 L506.95 659.96 L507.23 659.96 L507.52 659.95 L507.81 659.94 L508.09 659.93 L508.38 659.92 L508.66 659.91 L508.95 659.9 L509.23 659.89 L509.52 659.87 L509.8 659.86 L510.09 659.84 L510.38 659.82 L510.66 659.8 L510.95 659.78 L511.23 659.75 L511.52 659.73 L511.8 659.7 L512.09 659.67 L512.37 659.64 L512.66 659.61 L512.94 659.58 L513.23 659.54 L513.52 659.51 L513.8 659.47 L514.09 659.43 L514.37 659.39 L514.66 659.34 L514.94 659.3 L515.23 659.24 L515.51 659.18 L515.8 659.12 L516.08 659.05 L516.37 658.97 L516.66 658.89 L516.94 658.8 L517.23 658.7 L517.51 658.6 L517.8 658.49 L518.08 658.38 L518.37 658.27 L518.65 658.15 L518.94 658.02 L519.23 657.89 L519.51 657.76 L519.8 657.63 L520.08 657.49 L520.37 657.36 L520.65 657.21 L520.94 657.07 L521.22 656.92 L521.51 656.77 L521.79 656.61 L522.08 656.45 L522.37 656.28 L522.65 656.1 L522.94 655.92 L523.22 655.72 L523.51 655.53 L523.79 655.32 L524.08 655.11 L524.36 654.9 L524.65 654.67 L524.93 654.44 L525.22 654.21 L525.51 653.97 L525.79 653.72 L526.08 653.46 L526.36 653.2 L526.65 652.92 L526.93 652.64 L527.22 652.34 L527.5 652.04 L527.79 651.72 L528.08 651.38 L528.36 651.04 L528.65 650.69 L528.93 650.32 L529.22 649.95 L529.5 649.57 L529.79 649.18 L530.07 648.78 L530.36 648.38 L530.64 647.97 L530.93 647.56 L531.22 647.15 L531.5 646.72 L531.79 646.3 L532.07 645.86 L532.36 645.42 L532.64 644.97 L532.93 644.5 L533.21 644.03 L533.5 643.55 L533.78 643.06 L534.07 642.56 L534.36 642.06 L534.64 641.55 L534.93 641.04 L535.21 640.52 L535.5 640 L535.78 639.48 L536.07 638.97 L536.35 638.45 L536.64 637.93 L536.93 637.41 L537.21 636.9 L537.5 636.4 L537.78 635.89 L538.07 635.39 L538.35 634.89 L538.64 634.4 L538.92 633.9 L539.21 633.41 L539.49 632.91 L539.78 632.42 L540.07 631.92 L540.35 631.43 L540.64 630.93 L540.92 630.44 L541.21 629.95 L541.49 629.45 L541.78 628.96 L542.06 628.47 L542.35 627.98 L542.63 627.49 L542.92 627 L543.21 626.52 L543.49 626.03 L543.78 625.55 L544.06 625.07 L544.35 624.59 L544.63 624.11 L544.92 623.63 L545.2 623.16 L545.49 622.69 L545.77 622.22 L546.06 621.76 L546.35 621.29 L546.63 620.83 L546.92 620.38 L547.2 619.92 L547.49 619.47 L547.77 619.02 L548.06 618.57 L548.34 618.12 L548.63 617.68 L548.92 617.23 L549.2 616.79 L549.49 616.34 L549.77 615.9 L550.06 615.45 L550.34 615.01 L550.63 614.56 L550.91 614.11 L551.2 613.67 L551.48 613.21 L551.77 612.76 L552.06 612.31 L552.34 611.85 L552.63 611.39 L552.91 610.92 L553.2 610.46 L553.48 609.98 L553.77 609.51 L554.05 609.03 L554.34 608.55 L554.62 608.06 L554.91 607.57 L555.2 607.07 L555.48 606.58 L555.77 606.08 L556.05 605.58 L556.34 605.08 L556.62 604.58 L556.91 604.08 L557.19 603.58 L557.48 603.08 L557.77 602.58 L558.05 602.08 L558.34 601.59 L558.62 601.1 L558.91 600.61 L559.19 600.12 L559.48 599.64 L559.76 599.17 L560.05 598.69 L560.33 598.23 L560.62 597.76 L560.91 597.3 L561.19 596.85 L561.48 596.4 L561.76 595.95 L562.05 595.51 L562.33 595.07 L562.62 594.63 L562.9 594.19 L563.19 593.75 L563.47 593.32 L563.76 592.9 L564.05 592.47 L564.33 592.05 L564.62 591.63 L564.9 591.21 L565.19 590.8 L565.47 590.39 L565.76 589.98 L566.04 589.57 L566.33 589.17 L566.62 588.78 L566.9 588.38 L567.19 587.99 L567.47 587.59 L567.76 587.2 L568.04 586.81 L568.33 586.42 L568.61 586.03 L568.9 585.64 L569.18 585.26 L569.47 584.88 L569.76 584.5 L570.04 584.12 L570.33 583.75 L570.61 583.39 L570.9 583.03 L571.18 582.68 L571.47 582.33 L571.75 582 L572.04 581.67 L572.32 581.35 L572.61 581.04 L572.9 580.74 L573.18 580.44 L573.47 580.15 L573.75 579.87 L574.04 579.6 L574.32 579.33 L574.61 579.07 L574.89 578.81 L575.18 578.56 L575.47 578.31 L575.75 578.07 L576.04 577.84 L576.32 577.62 L576.61 577.41 L576.89 577.21 L577.18 577.01 L577.46 576.83 L577.75 576.64 L578.03 576.47 L578.32 576.3 L578.61 576.13 L578.89 575.96 L579.18 575.8 L579.46 575.64 L579.75 575.48 L580.03 575.34 L580.32 575.2 L580.6 575.08 L580.89 574.96 L581.17 574.87 L581.46 574.79 L581.75 574.73 L582.03 574.68 L582.32 574.66 L582.6 574.65 L582.89 574.66 L583.17 574.68 L583.46 574.72 L583.74 574.76 L584.03 574.82 L584.32 574.88 L584.6 574.96 L584.89 575.04 L585.17 575.13 L585.46 575.22 L585.74 575.32 L586.03 575.43 L586.31 575.54 L586.6 575.66 L586.88 575.79 L587.17 575.94 L587.46 576.1 L587.74 576.28 L588.03 576.48 L588.31 576.71 L588.6 576.96 L588.88 577.22 L589.17 577.51 L589.45 577.81 L589.74 578.12 L590.02 578.45 L590.31 578.79 L590.6 579.14 L590.88 579.5 L591.17 579.86 L591.45 580.24 L591.74 580.63 L592.02 581.04 L592.31 581.46 L592.59 581.91 L592.88 582.37 L593.16 582.85 L593.45 583.35 L593.74 583.87 L594.02 584.4 L594.31 584.95 L594.59 585.51 L594.88 586.08 L595.16 586.66 L595.45 587.25 L595.73 587.84 L596.02 588.45 L596.31 589.06 L596.59 589.69 L596.88 590.34 L597.16 590.99 L597.45 591.66 L597.73 592.35 L598.02 593.05 L598.3 593.76 L598.59 594.49 L598.87 595.22 L599.16 595.96 L599.45 596.71 L599.73 597.46 L600.02 598.22 L600.3 598.98 L600.59 599.74 L600.87 600.51 L601.16 601.29 L601.44 602.07 L601.73 602.86 L602.01 603.66 L602.3 604.47 L602.59 605.28 L602.87 606.1 L603.16 606.92 L603.44 607.75 L603.73 608.59 L604.01 609.42 L604.3 610.26 L604.58 611.1 L604.87 611.95 L605.16 612.79 L605.44 613.63 L605.73 614.47 L606.01 615.3 L606.3 616.14 L606.58 616.97 L606.87 617.81 L607.15 618.64 L607.44 619.47 L607.72 620.3 L608.01 621.14 L608.3 621.97 L608.58 622.81 L608.87 623.64 L609.15 624.48 L609.44 625.32 L609.72 626.15 L610.01 626.99 L610.29 627.82 L610.58 628.65 L610.86 629.47 L611.15 630.29 L611.44 631.11 L611.72 631.92 L612.01 632.73 L612.29 633.53 L612.58 634.33 L612.86 635.12 L613.15 635.91 L613.43 636.71 L613.72 637.5 L614.01 638.28 L614.29 639.07 L614.58 639.84 L614.86 640.6 L615.15 641.35 L615.43 642.07 L615.72 642.76 L616 643.42 L616.29 644.06 L616.57 644.67 L616.86 645.25 L617.15 645.81 L617.43 646.35 L617.72 646.87 L618 647.38 L618.29 647.87 L618.57 648.35 L618.86 648.82 L619.14 649.27 L619.43 649.72 L619.71 650.15 L620 650.58 L620.29 650.99 L620.57 651.39 L620.86 651.79 L621.14 652.18 L621.43 652.55 L621.71 652.93 L622 653.29 L622.28 653.65 L622.57 654.01 L622.86 654.36 L623.14 654.7 L623.43 655.03 L623.71 655.36 L624 655.68 L624.28 656 L624.57 656.3 L624.85 656.6 L625.14 656.88 L625.42 657.16 L625.71 657.43 L626 657.68 L626.28 657.93 L626.57 658.17 L626.85 658.4 L627.14 658.62 L627.42 658.83 L627.71 659.04 L627.99 659.24 L628.28 659.44 L628.56 659.64 L628.85 659.83 L629.14 660.01 L629.42 660.19 L629.71 660.37 L629.99 660.54 L630.28 660.71 L630.56 660.87 L630.85 661.02 L631.13 661.17 L631.42 661.32 L631.71 661.46 L631.99 661.59 L632.28 661.72 L632.56 661.85 L632.85 661.97 L633.13 662.09 L633.42 662.2 L633.7 662.31 L633.99 662.42 L634.27 662.53 L634.56 662.64 L634.85 662.75 L635.13 662.85 L635.42 662.95 L635.7 663.05 L635.99 663.15 L636.27 663.25 L636.56 663.34 L636.84 663.43 L637.13 663.52 L637.41 663.6 L637.7 663.68 L637.99 663.76 L638.27 663.84 L638.56 663.91 L638.84 663.98 L639.13 664.05 L639.41 664.11 L639.7 664.17 L639.98 664.22 L640.27 664.27 L640.55 664.31 L640.84 664.36 L641.13 664.4 L641.41 664.43 L641.7 664.47 L641.98 664.5 L642.27 664.54 L642.55 664.57 L642.84 664.6 L643.12 664.63 L643.41 664.66 L643.7 664.69 L643.98 664.72 L644.27 664.75 L644.55 664.78 L644.84 664.81 L645.12 664.84 L645.41 664.87 L645.69 664.89 L645.98 664.92 L646.26 664.95 L646.55 664.97 L646.84 665 L647.12 665.02 L647.41 665.05 L647.69 665.07 L647.98 665.09 L648.26 665.11 L648.55 665.13 L648.83 665.15 L649.12 665.17 L649.4 665.19 L649.69 665.21 L649.98 665.23 L650.26 665.24 L650.55 665.26 L650.83 665.28 L651.12 665.29 L651.4 665.3 L651.69 665.32 L651.97 665.33 L652.26 665.34 L652.55 665.35 L652.83 665.36 L653.12 665.37 L653.4 665.37 L653.69 665.38 L653.97 665.38 L654.26 665.39 L654.54 665.39 L654.83 665.4 L655.11 665.4 L655.4 665.4" fill="none" stroke="#1f77b4" stroke-width="2.55" stroke-linejoin="round" stroke-linecap="butt" />
<path d="M427.3 665.4 L427.6 665.4 L427.91 665.39 L428.21 665.39 L428.52 665.38 L428.82 665.38 L429.13 665.37 L429.43 665.36 L429.74 665.35 L430.04 665.34 L430.35 665.33 L430.65 665.32 L430.96 665.3 L431.26 665.29 L431.56 665.27 L431.87 665.26 L432.17 665.24 L432.48 665.23 L432.78 665.21 L433.09 665.19 L433.39 665.17 L433.7 665.15 L434 665.12 L434.31 665.09 L434.61 665.06 L434.92 665.03 L435.22 665 L435.53 664.96 L435.83 664.92 L436.13 664.88 L436.44 664.84 L436.74 664.8 L437.05 664.76 L437.35 664.71 L437.66 664.67 L437.96 664.63 L438.27 664.58 L438.57 664.54 L438.88 664.49 L439.18 664.45 L439.49 664.4 L439.79 664.36 L440.09 664.31 L440.4 664.26 L440.7 664.21 L441.01 664.17 L441.31 664.12 L441.62 664.07 L441.92 664.01 L442.23 663.96 L442.53 663.91 L442.84 663.85 L443.14 663.8 L443.45 663.75 L443.75 663.69 L444.05 663.64 L444.36 663.58 L444.66 663.53 L444.97 663.47 L445.27 663.42 L445.58 663.36 L445.88 663.31 L446.19 663.26 L446.49 663.2 L446.8 663.15 L447.1 663.1 L447.41 663.05 L447.71 663 L448.01 662.94 L448.32 662.89 L448.62 662.83 L448.93 662.77 L449.23 662.72 L449.54 662.66 L449.84 662.59 L450.15 662.53 L450.45 662.47 L450.76 662.41 L451.06 662.36 L451.37 662.3 L451.67 662.25 L451.98 662.19 L452.28 662.14 L452.58 662.1 L452.89 662.06 L453.19 662.02 L453.5 661.99 L453.8 661.96 L454.11 661.94 L454.41 661.93 L454.72 661.92 L455.02 661.92 L455.33 661.93 L455.63 661.94 L455.94 661.96 L456.24 661.98 L456.54 662.01 L456.85 662.05 L457.15 662.09 L457.46 662.13 L457.76 662.18 L458.07 662.23 L458.37 662.28 L458.68 662.34 L458.98 662.4 L459.29 662.46 L459.59 662.52 L459.9 662.58 L460.2 662.64 L460.5 662.7 L460.81 662.76 L461.11 662.83 L461.42 662.89 L461.72 662.95 L462.03 663.01 L462.33 663.07 L462.64 663.13 L462.94 663.2 L463.25 663.27 L463.55 663.33 L463.86 663.41 L464.16 663.48 L464.46 663.55 L464.77 663.63 L465.07 663.71 L465.38 663.78 L465.68 663.86 L465.99 663.93 L466.29 664.01 L466.6 664.08 L466.9 664.15 L467.21 664.22 L467.51 664.28 L467.82 664.35 L468.12 664.41 L468.43 664.46 L468.73 664.52 L469.03 664.57 L469.34 664.61 L469.64 664.66 L469.95 664.71 L470.25 664.75 L470.56 664.79 L470.86 664.84 L471.17 664.88 L471.47 664.92 L471.78 664.96 L472.08 665 L472.39 665.04 L472.69 665.07 L472.99 665.11 L473.3 665.14 L473.6 665.17 L473.91 665.2 L474.21 665.22 L474.52 665.24 L474.82 665.26 L475.13 665.27 L475.43 665.28 L475.74 665.29 L476.04 665.29 L476.35 665.3 L476.65 665.3 L476.95 665.3 L477.26 665.3 L477.56 665.3 L477.87 665.3 L478.17 665.3 L478.48 665.3 L478.78 665.3 L479.09 665.3 L479.39 665.3 L479.7 665.3 L480 665.3 L480.31 665.3 L480.61 665.3 L480.92 665.3 L481.22 665.3 L481.52 665.3 L481.83 665.3 L482.13 665.3 L482.44 665.3 L482.74 665.3 L483.05 665.3 L483.35 665.3 L483.66 665.3 L483.96 665.3 L484.27 665.3 L484.57 665.3 L484.88 665.3 L485.18 665.3 L485.48 665.3 L485.79 665.3 L486.09 665.3 L486.4 665.3 L486.7 665.3 L487.01 665.3 L487.31 665.3 L487.62 665.3 L487.92 665.3 L488.23 665.3 L488.53 665.3 L488.84 665.3 L489.14 665.3 L489.44 665.3 L489.75 665.3 L490.05 665.3 L490.36 665.3 L490.66 665.29 L490.97 665.29 L491.27 665.29 L491.58 665.28 L491.88 665.28 L492.19 665.27 L492.49 665.26 L492.8 665.25 L493.1 665.24 L493.4 665.23 L493.71 665.22 L494.01 665.21 L494.32 665.19 L494.62 665.18 L494.93 665.16 L495.23 665.15 L495.54 665.13 L495.84 665.12 L496.15 665.1 L496.45 665.08 L496.76 665.06 L497.06 665.05 L497.37 665.03 L497.67 665.01 L497.97 664.99 L498.28 664.97 L498.58 664.95 L498.89 664.93 L499.19 664.91 L499.5 664.89 L499.8 664.87 L500.11 664.85 L500.41 664.83 L500.72 664.8 L501.02 664.78 L501.33 664.76 L501.63 664.73 L501.93 664.7 L502.24 664.68 L502.54 664.65 L502.85 664.62 L503.15 664.58 L503.46 664.55 L503.76 664.51 L504.07 664.48 L504.37 664.44 L504.68 664.4 L504.98 664.36 L505.29 664.32 L505.59 664.28 L505.89 664.24 L506.2 664.2 L506.5 664.16 L506.81 664.11 L507.11 664.07 L507.42 664.03 L507.72 663.98 L508.03 663.94 L508.33 663.9 L508.64 663.85 L508.94 663.81 L509.25 663.76 L509.55 663.71 L509.85 663.67 L510.16 663.62 L510.46 663.57 L510.77 663.51 L511.07 663.46 L511.38 663.41 L511.68 663.35 L511.99 663.3 L512.29 663.25 L512.6 663.19 L512.9 663.14 L513.21 663.09 L513.51 663.04 L513.82 662.99 L514.12 662.94 L514.42 662.89 L514.73 662.84 L515.03 662.8 L515.34 662.75 L515.64 662.71 L515.95 662.67 L516.25 662.63 L516.56 662.58 L516.86 662.54 L517.17 662.5 L517.47 662.46 L517.78 662.42 L518.08 662.38 L518.38 662.34 L518.69 662.3 L518.99 662.26 L519.3 662.22 L519.6 662.19 L519.91 662.15 L520.21 662.12 L520.52 662.09 L520.82 662.05 L521.13 662.03 L521.43 662 L521.74 661.97 L522.04 661.95 L522.34 661.93 L522.65 661.91 L522.95 661.89 L523.26 661.87 L523.56 661.85 L523.87 661.83 L524.17 661.82 L524.48 661.8 L524.78 661.78 L525.09 661.77 L525.39 661.75 L525.7 661.73 L526 661.72 L526.31 661.7 L526.61 661.69 L526.91 661.68 L527.22 661.67 L527.52 661.66 L527.83 661.65 L528.13 661.64 L528.44 661.63 L528.74 661.62 L529.05 661.62 L529.35 661.61 L529.66 661.61 L529.96 661.6 L530.27 661.6 L530.57 661.6 L530.87 661.6 L531.18 661.61 L531.48 661.61 L531.79 661.61 L532.09 661.62 L532.4 661.62 L532.7 661.62 L533.01 661.63 L533.31 661.63 L533.62 661.64 L533.92 661.65 L534.23 661.65 L534.53 661.66 L534.83 661.66 L535.14 661.67 L535.44 661.67 L535.75 661.68 L536.05 661.68 L536.36 661.69 L536.66 661.69 L536.97 661.69 L537.27 661.69 L537.58 661.7 L537.88 661.7 L538.19 661.69 L538.49 661.69 L538.79 661.69 L539.1 661.68 L539.4 661.67 L539.71 661.66 L540.01 661.64 L540.32 661.63 L540.62 661.61 L540.93 661.59 L541.23 661.57 L541.54 661.55 L541.84 661.52 L542.15 661.5 L542.45 661.47 L542.76 661.44 L543.06 661.41 L543.36 661.38 L543.67 661.34 L543.97 661.31 L544.28 661.27 L544.58 661.23 L544.89 661.19 L545.19 661.15 L545.5 661.1 L545.8 661.04 L546.11 660.98 L546.41 660.91 L546.72 660.83 L547.02 660.74 L547.32 660.63 L547.63 660.52 L547.93 660.4 L548.24 660.27 L548.54 660.14 L548.85 659.99 L549.15 659.84 L549.46 659.68 L549.76 659.52 L550.07 659.34 L550.37 659.15 L550.68 658.94 L550.98 658.72 L551.28 658.48 L551.59 658.22 L551.89 657.95 L552.2 657.66 L552.5 657.35 L552.81 657.03 L553.11 656.7 L553.42 656.35 L553.72 656 L554.03 655.63 L554.33 655.26 L554.64 654.87 L554.94 654.48 L555.24 654.07 L555.55 653.65 L555.85 653.21 L556.16 652.75 L556.46 652.28 L556.77 651.79 L557.07 651.28 L557.38 650.76 L557.68 650.23 L557.99 649.68 L558.29 649.11 L558.6 648.54 L558.9 647.94 L559.21 647.34 L559.51 646.71 L559.81 646.07 L560.12 645.4 L560.42 644.71 L560.73 644.01 L561.03 643.28 L561.34 642.53 L561.64 641.76 L561.95 640.98 L562.25 640.19 L562.56 639.39 L562.86 638.57 L563.17 637.76 L563.47 636.93 L563.77 636.1 L564.08 635.26 L564.38 634.41 L564.69 633.56 L564.99 632.7 L565.3 631.82 L565.6 630.94 L565.91 630.04 L566.21 629.14 L566.52 628.22 L566.82 627.3 L567.13 626.37 L567.43 625.43 L567.73 624.49 L568.04 623.54 L568.34 622.58 L568.65 621.62 L568.95 620.64 L569.26 619.66 L569.56 618.66 L569.87 617.66 L570.17 616.64 L570.48 615.62 L570.78 614.6 L571.09 613.57 L571.39 612.53 L571.69 611.5 L572 610.46 L572.3 609.43 L572.61 608.4 L572.91 607.37 L573.22 606.34 L573.52 605.32 L573.83 604.29 L574.13 603.26 L574.44 602.24 L574.74 601.21 L575.05 600.18 L575.35 599.16 L575.66 598.14 L575.96 597.12 L576.26 596.11 L576.57 595.1 L576.87 594.1 L577.18 593.11 L577.48 592.13 L577.79 591.15 L578.09 590.18 L578.4 589.21 L578.7 588.24 L579.01 587.28 L579.31 586.32 L579.62 585.36 L579.92 584.42 L580.22 583.49 L580.53 582.57 L580.83 581.67 L581.14 580.79 L581.44 579.92 L581.75 579.09 L582.05 578.27 L582.36 577.47 L582.66 576.7 L582.97 575.94 L583.27 575.19 L583.58 574.47 L583.88 573.75 L584.18 573.05 L584.49 572.37 L584.79 571.7 L585.1 571.05 L585.4 570.42 L585.71 569.81 L586.01 569.22 L586.32 568.65 L586.62 568.1 L586.93 567.57 L587.23 567.06 L587.54 566.55 L587.84 566.06 L588.15 565.59 L588.45 565.12 L588.75 564.66 L589.06 564.22 L589.36 563.8 L589.67 563.4 L589.97 563.01 L590.28 562.65 L590.58 562.31 L590.89 562 L591.19 561.71 L591.5 561.44 L591.8 561.19 L592.11 560.95 L592.41 560.73 L592.71 560.53 L593.02 560.34 L593.32 560.18 L593.63 560.04 L593.93 559.93 L594.24 559.85 L594.54 559.81 L594.85 559.8 L595.15 559.82 L595.46 559.87 L595.76 559.94 L596.07 560.04 L596.37 560.15 L596.67 560.28 L596.98 560.42 L597.28 560.59 L597.59 560.76 L597.89 560.96 L598.2 561.18 L598.5 561.43 L598.81 561.73 L599.11 562.07 L599.42 562.46 L599.72 562.91 L600.03 563.41 L600.33 563.96 L600.63 564.55 L600.94 565.17 L601.24 565.83 L601.55 566.51 L601.85 567.22 L602.16 567.95 L602.46 568.71 L602.77 569.51 L603.07 570.35 L603.38 571.24 L603.68 572.16 L603.99 573.13 L604.29 574.14 L604.6 575.17 L604.9 576.23 L605.2 577.31 L605.51 578.41 L605.81 579.52 L606.12 580.64 L606.42 581.76 L606.73 582.9 L607.03 584.04 L607.34 585.2 L607.64 586.38 L607.95 587.58 L608.25 588.79 L608.56 590.03 L608.86 591.27 L609.16 592.52 L609.47 593.77 L609.77 595.01 L610.08 596.24 L610.38 597.46 L610.69 598.65 L610.99 599.83 L611.3 600.98 L611.6 602.11 L611.91 603.22 L612.21 604.32 L612.52 605.4 L612.82 606.47 L613.12 607.52 L613.43 608.56 L613.73 609.57 L614.04 610.56 L614.34 611.53 L614.65 612.46 L614.95 613.37 L615.26 614.25 L615.56 615.1 L615.87 615.93 L616.17 616.74 L616.48 617.54 L616.78 618.31 L617.08 619.07 L617.39 619.8 L617.69 620.5 L618 621.17 L618.3 621.81 L618.61 622.41 L618.91 622.97 L619.22 623.5 L619.52 623.98 L619.83 624.44 L620.13 624.87 L620.44 625.28 L620.74 625.67 L621.05 626.04 L621.35 626.39 L621.65 626.72 L621.96 627.02 L622.26 627.3 L622.57 627.55 L622.87 627.77 L623.18 627.96 L623.48 628.13 L623.79 628.26 L624.09 628.38 L624.4 628.48 L624.7 628.57 L625.01 628.65 L625.31 628.72 L625.61 628.79 L625.92 628.85 L626.22 628.91 L626.53 628.96 L626.83 629.01 L627.14 629.06 L627.44 629.1 L627.75 629.15 L628.05 629.19 L628.36 629.23 L628.66 629.28 L628.97 629.32 L629.27 629.35 L629.57 629.39 L629.88 629.42 L630.18 629.46 L630.49 629.49 L630.79 629.52 L631.1 629.54 L631.4 629.57 L631.71 629.6 L632.01 629.64 L632.32 629.67 L632.62 629.71 L632.93 629.75 L633.23 629.8 L633.54 629.86 L633.84 629.93 L634.14 630.01 L634.45 630.11 L634.75 630.23 L635.06 630.36 L635.36 630.52 L635.67 630.69 L635.97 630.87 L636.28 631.07 L636.58 631.29 L636.89 631.52 L637.19 631.76 L637.5 632.01 L637.8 632.28 L638.1 632.58 L638.41 632.89 L638.71 633.24 L639.02 633.61 L639.32 634.02 L639.63 634.44 L639.93 634.9 L640.24 635.37 L640.54 635.86 L640.85 636.36 L641.15 636.88 L641.46 637.4 L641.76 637.93 L642.06 638.47 L642.37 639.02 L642.67 639.58 L642.98 640.15 L643.28 640.74 L643.59 641.34 L643.89 641.95 L644.2 642.57 L644.5 643.2 L644.81 643.83 L645.11 644.46 L645.42 645.09 L645.72 645.72 L646.02 646.34 L646.33 646.97 L646.63 647.6 L646.94 648.23 L647.24 648.87 L647.55 649.5 L647.85 650.14 L648.16 650.77 L648.46 651.39 L648.77 651.99 L649.07 652.58 L649.38 653.15 L649.68 653.7 L649.99 654.22 L650.29 654.72 L650.59 655.2 L650.9 655.66 L651.2 656.12 L651.51 656.55 L651.81 656.98 L652.12 657.4 L652.42 657.8 L652.73 658.2 L653.03 658.57 L653.34 658.94 L653.64 659.29 L653.95 659.62 L654.25 659.93 L654.55 660.23 L654.86 660.5 L655.16 660.77 L655.47 661.01 L655.77 661.25 L656.08 661.47 L656.38 661.69 L656.69 661.9 L656.99 662.1 L657.3 662.29 L657.6 662.48 L657.91 662.67 L658.21 662.84 L658.51 663.01 L658.82 663.17 L659.12 663.32 L659.43 663.46 L659.73 663.6 L660.04 663.72 L660.34 663.83 L660.65 663.94 L660.95 664.03 L661.26 664.12 L661.56 664.2 L661.87 664.27 L662.17 664.34 L662.47 664.4 L662.78 664.47 L663.08 664.53 L663.39 664.59 L663.69 664.64 L664 664.7 L664.3 664.76 L664.61 664.81 L664.91 664.86 L665.22 664.91 L665.52 664.96 L665.83 665 L666.13 665.05 L666.44 665.09 L666.74 665.13 L667.04 665.17 L667.35 665.2 L667.65 665.23 L667.96 665.26 L668.26 665.29 L668.57 665.31 L668.87 665.33 L669.18 665.35 L669.48 665.36 L669.79 665.38 L670.09 665.38 L670.4 665.39 L670.7 665.39" fill="none" stroke="#ff7f0e" stroke-width="2.55" stroke-linejoin="round" stroke-linecap="butt" />
</g>
<rect x="415.9" y="525.45" width="266.15" height="139.95" fill="none" stroke="#000" stroke-width="1.4"/>
</svg>
</body>
</html>
